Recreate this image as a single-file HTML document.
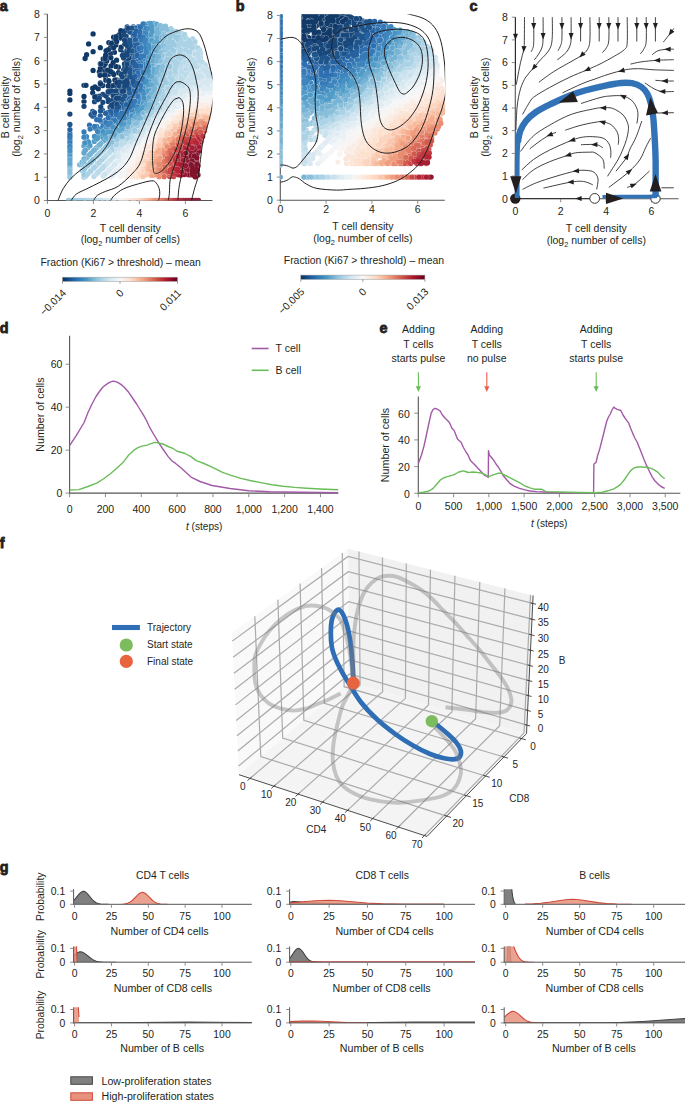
<!DOCTYPE html>
<html><head><meta charset="utf-8"><style>
html,body{margin:0;padding:0;background:#fff;width:685px;height:1103px;overflow:hidden}
svg{display:block}
text{font-family:"Liberation Sans", sans-serif}
</style></head><body>
<svg width="685" height="1103" viewBox="0 0 685 1103" font-family='"Liberation Sans", sans-serif'><g stroke="#231f20" stroke-width="0.8">
<text x="-0.3" y="11" font-size="14.4" font-weight="bold" fill="#231f20">a</text>
<text x="235.7" y="10.6" font-size="14.4" font-weight="bold" fill="#231f20">b</text>
<text x="469.5" y="10.6" font-size="14.4" font-weight="bold" fill="#231f20">c</text>
<text x="-0.3" y="333.2" font-size="14.4" font-weight="bold" fill="#231f20">d</text>
<text x="379.5" y="333.2" font-size="14.4" font-weight="bold" fill="#231f20">e</text>
<text x="-0.3" y="547.7" font-size="14.4" font-weight="bold" fill="#231f20">f</text>
<text x="-0.3" y="871.9" font-size="14.4" font-weight="bold" fill="#231f20">g</text>
</g>
<line x1="47.4" y1="14.1" x2="47.4" y2="201" stroke="#555555" stroke-width="1.1"/>
<line x1="43.9" y1="200.5" x2="47.4" y2="200.5" stroke="#808080" stroke-width="0.9"/>
<text x="39.9" y="204.3" font-size="10.5" text-anchor="end" fill="#231f20">0</text>
<line x1="43.9" y1="177.2" x2="47.4" y2="177.2" stroke="#808080" stroke-width="0.9"/>
<text x="39.9" y="181" font-size="10.5" text-anchor="end" fill="#231f20">1</text>
<line x1="43.9" y1="153.9" x2="47.4" y2="153.9" stroke="#808080" stroke-width="0.9"/>
<text x="39.9" y="157.7" font-size="10.5" text-anchor="end" fill="#231f20">2</text>
<line x1="43.9" y1="130.6" x2="47.4" y2="130.6" stroke="#808080" stroke-width="0.9"/>
<text x="39.9" y="134.4" font-size="10.5" text-anchor="end" fill="#231f20">3</text>
<line x1="43.9" y1="107.3" x2="47.4" y2="107.3" stroke="#808080" stroke-width="0.9"/>
<text x="39.9" y="111.1" font-size="10.5" text-anchor="end" fill="#231f20">4</text>
<line x1="43.9" y1="84" x2="47.4" y2="84" stroke="#808080" stroke-width="0.9"/>
<text x="39.9" y="87.8" font-size="10.5" text-anchor="end" fill="#231f20">5</text>
<line x1="43.9" y1="60.7" x2="47.4" y2="60.7" stroke="#808080" stroke-width="0.9"/>
<text x="39.9" y="64.5" font-size="10.5" text-anchor="end" fill="#231f20">6</text>
<line x1="43.9" y1="37.4" x2="47.4" y2="37.4" stroke="#808080" stroke-width="0.9"/>
<text x="39.9" y="41.2" font-size="10.5" text-anchor="end" fill="#231f20">7</text>
<line x1="43.9" y1="14.1" x2="47.4" y2="14.1" stroke="#808080" stroke-width="0.9"/>
<text x="39.9" y="17.9" font-size="10.5" text-anchor="end" fill="#231f20">8</text>
<line x1="46.9" y1="200.5" x2="212.4" y2="200.5" stroke="#555555" stroke-width="1.1"/>
<line x1="47.4" y1="200.5" x2="47.4" y2="204" stroke="#808080" stroke-width="0.9"/>
<text x="47.4" y="216.5" font-size="10.5" text-anchor="middle" fill="#231f20">0</text>
<line x1="93.4" y1="200.5" x2="93.4" y2="204" stroke="#808080" stroke-width="0.9"/>
<text x="93.4" y="216.5" font-size="10.5" text-anchor="middle" fill="#231f20">2</text>
<line x1="139.4" y1="200.5" x2="139.4" y2="204" stroke="#808080" stroke-width="0.9"/>
<text x="139.4" y="216.5" font-size="10.5" text-anchor="middle" fill="#231f20">4</text>
<line x1="185.4" y1="200.5" x2="185.4" y2="204" stroke="#808080" stroke-width="0.9"/>
<text x="185.4" y="216.5" font-size="10.5" text-anchor="middle" fill="#231f20">6</text>
<text x="130.3" y="231.9" font-size="10.5" text-anchor="middle" fill="#231f20">T cell density</text>
<text x="130.3" y="243.3" font-size="10.5" text-anchor="middle" fill="#231f20">(log<tspan dy="3" font-size="7.4">2</tspan><tspan dy="-3"> number of cells)</tspan></text>
<g transform="translate(8.7,107.2) rotate(-90)"><text x="0" y="0" font-size="10.5" text-anchor="middle" fill="#231f20">B cell density</text><text x="0" y="11.3" font-size="10.5" text-anchor="middle" fill="#231f20">(log<tspan dy="3" font-size="7.4">2</tspan><tspan dy="-3"> number of cells)</tspan></text></g>
<line x1="280.3" y1="15.4" x2="280.3" y2="200.7" stroke="#555555" stroke-width="1.1"/>
<line x1="276.8" y1="200.2" x2="280.3" y2="200.2" stroke="#808080" stroke-width="0.9"/>
<text x="272.8" y="204" font-size="10.5" text-anchor="end" fill="#231f20">0</text>
<line x1="276.8" y1="177.1" x2="280.3" y2="177.1" stroke="#808080" stroke-width="0.9"/>
<text x="272.8" y="180.9" font-size="10.5" text-anchor="end" fill="#231f20">1</text>
<line x1="276.8" y1="154" x2="280.3" y2="154" stroke="#808080" stroke-width="0.9"/>
<text x="272.8" y="157.8" font-size="10.5" text-anchor="end" fill="#231f20">2</text>
<line x1="276.8" y1="130.9" x2="280.3" y2="130.9" stroke="#808080" stroke-width="0.9"/>
<text x="272.8" y="134.7" font-size="10.5" text-anchor="end" fill="#231f20">3</text>
<line x1="276.8" y1="107.8" x2="280.3" y2="107.8" stroke="#808080" stroke-width="0.9"/>
<text x="272.8" y="111.6" font-size="10.5" text-anchor="end" fill="#231f20">4</text>
<line x1="276.8" y1="84.7" x2="280.3" y2="84.7" stroke="#808080" stroke-width="0.9"/>
<text x="272.8" y="88.5" font-size="10.5" text-anchor="end" fill="#231f20">5</text>
<line x1="276.8" y1="61.6" x2="280.3" y2="61.6" stroke="#808080" stroke-width="0.9"/>
<text x="272.8" y="65.4" font-size="10.5" text-anchor="end" fill="#231f20">6</text>
<line x1="276.8" y1="38.5" x2="280.3" y2="38.5" stroke="#808080" stroke-width="0.9"/>
<text x="272.8" y="42.3" font-size="10.5" text-anchor="end" fill="#231f20">7</text>
<line x1="276.8" y1="15.4" x2="280.3" y2="15.4" stroke="#808080" stroke-width="0.9"/>
<text x="272.8" y="19.2" font-size="10.5" text-anchor="end" fill="#231f20">8</text>
<line x1="279.8" y1="200.2" x2="444.8" y2="200.2" stroke="#555555" stroke-width="1.1"/>
<line x1="280.3" y1="200.2" x2="280.3" y2="203.7" stroke="#808080" stroke-width="0.9"/>
<text x="280.3" y="213" font-size="10.5" text-anchor="middle" fill="#231f20">0</text>
<line x1="326.1" y1="200.2" x2="326.1" y2="203.7" stroke="#808080" stroke-width="0.9"/>
<text x="326.1" y="213" font-size="10.5" text-anchor="middle" fill="#231f20">2</text>
<line x1="371.9" y1="200.2" x2="371.9" y2="203.7" stroke="#808080" stroke-width="0.9"/>
<text x="371.9" y="213" font-size="10.5" text-anchor="middle" fill="#231f20">4</text>
<line x1="417.7" y1="200.2" x2="417.7" y2="203.7" stroke="#808080" stroke-width="0.9"/>
<text x="417.7" y="213" font-size="10.5" text-anchor="middle" fill="#231f20">6</text>
<text x="362.9" y="230.2" font-size="10.5" text-anchor="middle" fill="#231f20">T cell density</text>
<text x="362.9" y="242.4" font-size="10.5" text-anchor="middle" fill="#231f20">(log<tspan dy="3" font-size="7.4">2</tspan><tspan dy="-3"> number of cells)</tspan></text>
<g transform="translate(244.2,107.2) rotate(-90)"><text x="0" y="0" font-size="10.5" text-anchor="middle" fill="#231f20">B cell density</text><text x="0" y="11.3" font-size="10.5" text-anchor="middle" fill="#231f20">(log<tspan dy="3" font-size="7.4">2</tspan><tspan dy="-3"> number of cells)</tspan></text></g>
<clipPath id="clipA"><rect x="47.4" y="14" width="165" height="186.5"/></clipPath>
<g clip-path="url(#clipA)">
<defs><path id="d1" d="M98.2 88.8h0M102.7 85.5h0M105.2 64h0M108.7 74.2h0M114.3 39.9h0M112.9 42.7h0M113.2 45.5h0M114.5 52.3h0M116.8 80h0M118.5 72.7h0M93.1 33.9h0M100.3 47.7h0M106.7 50.3h0M100.3 63.7h0M103.8 66.6h0M105.5 77.2h0M95 87h0M120.7 49.7h0M118.4 67.2h0M69.9 91.1h0M69.9 93.4h0M69.9 99.9h0M92.7 88.2h0M92.7 92.8h0"/><path id="d2" d="M96.7 96.4h0M102.8 94.5h0M106.1 96h0M109 92.8h0M108.2 99.7h0M108.2 101.4h0M111 89h0M110 107h0M114 94.1h0M113.4 98.3h0M113.2 100.8h0M116.3 93.1h0M118.9 91.4h0M119.1 93.4h0M120.9 80.7h0M122.5 82.6h0M124.6 77.3h0M127.4 43.2h0M127 50.3h0M127.9 57.8h0M126.3 65.8h0M126.6 75.5h0M126.4 77.4h0M129.1 60.6h0M129.1 80.3h0M127.2 26.9h0M123.6 53.2h0"/><path id="d3" d="M102.5 110.3h0M111.2 110.3h0M112.8 109.7h0M122.5 102.2h0M121.8 106.3h0M125.2 94.4h0M127.4 90.2h0M127.1 94.1h0M127 96.7h0M130 52.5h0M129.9 75.2h0M133.3 26.8h0M133.2 32.1h0M133.3 36.8h0M133.1 40.1h0M131.8 45.8h0M133.1 48.1h0M132 53.3h0M131.9 55.7h0M132.7 58.9h0M133.2 68.4h0M132.9 85.1h0M92.7 111.5h0"/><path id="d4" d="M124.7 102.1h0M127.4 98.3h0M127.1 100.9h0M126.6 106.3h0M129.9 95.6h0M132.9 87.8h0M132.1 93h0M131.8 95.7h0M135.9 57.7h0M135 61.1h0M135.1 68.6h0M135 71.5h0M134.5 73.9h0M135.5 83.1h0M137.7 34.3h0M137.3 50.6h0M137.3 61.3h0M137.2 68.9h0"/><path id="d5" d="M89.5 125.1h0M105.6 120.2h0M110.3 117.4h0M113.7 115.7h0M122.5 110.3h0M133.2 98.8h0M134.4 96.1h0M138.5 26.7h0M138.2 58.3h0M138.7 77.2h0M138.4 81h0M140.6 28h0M141 52.2h0M140.5 61.6h0M140.8 71.5h0M140.7 74.5h0M140 79.5h0M69.9 133.2h0"/><path id="d6" d="M96.6 126.3h0M103.1 125.3h0M107.8 120.7h0M113.6 118.7h0M114.1 120.7h0M124.3 112.7h0M138.2 94.3h0M141.2 41.7h0M141.4 64.7h0M140.3 88.5h0M144.1 32.1h0M143.7 45.7h0M143.6 48h0M143.1 52.7h0M142.6 60.4h0M142.9 66.9h0M142.8 69.1h0"/><path id="d7" d="M100.5 128.8h0M102.3 129.4h0M105.5 126.5h0M108.7 123h0M110.8 125.5h0M112.9 123.2h0M115.7 123.4h0M122 117.2h0M129.3 112.8h0M131.9 112.8h0M140 99.6h0M144 51.3h0M143.8 63.6h0M144.1 82.2h0M144.1 84.6h0M145.2 24.2h0M69.9 144.2h0"/><path id="d8" d="M87.2 140.3h0M98.3 134.3h0M100.7 131.4h0M99.9 134.4h0M102.2 133.4h0M107.5 128h0M116.2 125.1h0M118.7 125.4h0M124.3 120.6h0M130.4 114.8h0M129.5 117.1h0M135.3 110.6h0M141.3 103.6h0M146.1 85.1h0M145.1 87.8h0M149.1 23.3h0M148.3 31h0M148.8 33.5h0M149.4 50.2h0M148.4 64.3h0M147.8 77h0M148 82.3h0"/><path id="d9" d="M97.4 138.2h0M99.8 135.8h0M105.6 132.2h0M108 133.5h0M110.9 129.5h0M133.2 117.3h0M134.5 115.2h0M146.6 96.6h0M148.8 68.8h0M149.4 80.3h0M148 87.5h0M151.6 41.8h0M151.2 45.2h0M152 50.5h0M151.5 52.6h0M151.4 55.4h0M151.3 69.1h0M150.6 72.4h0M151.1 73.8h0M150.7 80.5h0M153.3 29h0M84 146h0"/><path id="d10" d="M104 140.3h0M102.7 141.6h0M111.7 134.9h0M113 132.1h0M119 129.1h0M132.2 120.9h0M141.5 111.7h0M143 109.1h0M148.7 93.9h0M152.1 64.4h0M151.9 83.3h0M153.9 23.3h0M154.2 34.4h0M153.8 40h0M154.3 53.8h0M153.3 59h0M153.7 63.9h0M153.7 66.5h0M154.5 75.4h0M154 76.6h0M69.9 161.8h0"/><path id="d11" d="M87.7 156.6h0M85 159.3h0M87.9 156.4h0M97 147.3h0M98.1 146.2h0M96.9 147.4h0M100.5 143.8h0M108.4 139.1h0M116.4 134.6h0M116.1 136.2h0M121 133.7h0M124.6 128.7h0M130.3 126.7h0M141.2 116.1h0M149.5 101.3h0M152 98.1h0M157.1 40.4h0M157.1 64.5h0M156.3 78.1h0M157.2 79.2h0M157.4 85.3h0M159.7 37.3h0M158.8 42.9h0M158.7 44.3h0M158.9 58.9h0M158.7 71.6h0M69.9 168.4h0M69.9 166.2h0"/><path id="d12" d="M79.5 164.8h0M89.2 163.8h0M95.7 157.3h0M106.3 146.7h0M114.3 138.8h0M116 139.9h0M118.8 136.7h0M125 134.5h0M129.1 128.4h0M139.9 121.5h0M143.5 116h0M154.7 98.2h0M154.3 102.3h0M157.4 91.8h0M160.4 63.6h0M159.8 82.9h0M159.3 88.7h0M162.8 36.1h0M162.9 38.9h0M161.6 47.8h0M162.4 49.9h0M162.6 53h0M162.4 57.7h0M162.8 61.7h0M165.7 30.6h0M164.6 33.9h0M164.9 52.5h0M167.1 31.7h0M167.8 33.6h0M166.9 40h0M83.9 164.2h0"/><path id="d13" d="M82.3 170.7h0M93.7 168h0M98.8 154.2h0M103.6 149.4h0M110.8 145.2h0M113.3 142.8h0M116.1 141.3h0M119.5 138.9h0M129.1 134.2h0M143 121.3h0M146.1 115.2h0M154.5 103.8h0M153.9 109.2h0M156.6 98.3h0M156.2 102.4h0M162.2 82.6h0M162.2 88.2h0M165 55h0M165.3 57.7h0M164.2 63.4h0M165.5 68.5h0M164.8 72.6h0M165.4 75.4h0M164.7 80.8h0M164.9 85.4h0M168.1 37.2h0M168.2 53.7h0M167 67.3h0M167.7 68.6h0M167.1 71.2h0M167.2 74.1h0M170.9 28.7h0M170.6 34.6h0M170.7 44.5h0M170.2 52.8h0M169.6 61.2h0M173.2 37.4h0M176.5 34.7h0M177.9 32.1h0M177.7 33.6h0"/><path id="d14" d="M85.5 176.2h0M90.2 171.5h0M91.6 170.1h0M91.1 170.6h0M96 165.7h0M97.8 163.9h0M95.8 165.9h0M95.1 166.6h0M105 156.7h0M104.6 157.1h0M113.9 145.7h0M116.6 146.8h0M122.6 139.6h0M125.1 139.5h0M126.7 137.6h0M132.3 133.8h0M137.8 128.5h0M139.8 126.5h0M154.1 111.9h0M158.8 105.3h0M165.8 88.2h0M165.2 90.8h0M167.4 85.8h0M167.5 91.4h0M171 64.5h0M170.9 74.8h0M173.6 56.3h0M173.2 63.5h0M173.5 65.7h0M172.3 68.9h0M172.9 72.4h0M173.6 77.7h0M175.5 51.1h0M175.7 52.3h0M178 55h0M181.9 33.7h0M181 44.9h0M181.3 47.2h0M180.7 53.6h0M181.3 56.6h0M180.5 64.4h0M183.8 53h0M186.2 37.8h0M186.8 55h0M189.4 47.5h0M192.5 42h0M194.6 44.9h0M195.4 48h0M83.9 177.2h0"/><path id="d15" d="M95.9 174.5h0M101.7 168.7h0M100.6 169.8h0M97.5 172.9h0M103 167.4h0M106.5 155.2h0M106.4 155.3h0M118.2 148.2h0M126.9 142.2h0M131.8 139.2h0M135.4 134.2h0M138.6 134h0M144.1 126h0M153.3 115.2h0M161.8 105h0M161.8 107h0M166.9 96.7h0M170.8 87.5h0M176.5 77.7h0M179.2 69.7h0M177.6 71.8h0M177.9 75.5h0M179 76.6h0M179 85.4h0M184.2 68.5h0M184.3 72.2h0M186 57.8h0M186.6 61.6h0M185.7 66h0M186 72.8h0M189.3 63.2h0M188.7 68.5h0M191.8 55.8h0M191.3 63.1h0M195.3 51.1h0M194.1 56.3h0M193.9 69.4h0"/><path id="d16" d="M105.3 173.8h0M103.7 175.4h0M106.1 164.3h0M107.7 162.7h0M111.3 159.1h0M110.5 159.9h0M108.9 161.5h0M119.1 149.8h0M124.5 145.6h0M124 147.1h0M126.3 144h0M138.1 137.6h0M141.3 132.1h0M140.1 133.5h0M143.9 130.5h0M146.5 128.4h0M150.9 121.3h0M154.9 117.3h0M160.2 111.7h0M165.3 109.1h0M170.3 99.6h0M173.6 92.9h0M173.1 96h0M178.1 90.3h0M180.9 84.9h0M182.9 88.1h0M191.2 84.7h0M193.7 80.8h0M198.2 69.8h0M197.1 71.2h0M199.6 69.6h0M205.3 74.2h0M207.3 71.6h0"/><path id="d17" d="M107.5 171.6h0M106.8 172.3h0M109.1 170h0M116.9 155.3h0M137.8 139.2h0M142.6 136.2h0M145.6 131.9h0M149.5 125.6h0M157.3 117.1h0M161.6 113h0M170.3 106.5h0M172.3 104.2h0M176.2 96h0M179 93.8h0M179.2 96.1h0M186.6 87.5h0M189.9 88.9h0M195 84.6h0M193.9 87.6h0M203.4 82.1h0M205 79.5h0M211.5 79.9h0M210.8 82.5h0M211 85.2h0M213.8 79.7h0M213.7 84.9h0"/><path id="d18" d="M111.9 175.9h0M113 174.8h0M116.8 171h0M115.7 172.1h0M119.7 158.8h0M116.7 162.4h0M121.5 153.5h0M121.2 157.6h0M120.8 160.9h0M123.8 155.7h0M140.3 142.3h0M151.6 128.5h0M153.6 126.1h0M159.6 120.4h0M165.4 113.3h0M167.2 112h0M173.6 107.2h0M175.9 104h0M184.4 94.4h0M187 93.1h0M189.2 94.4h0M194.3 90.9h0M197 87.6h0M197 91h0M200.7 87.4h0M199.7 90.1h0"/><path id="d19" d="M126.5 158.2h0M134.6 147.9h0M134.7 149.9h0M146.8 135h0M160 122.8h0M164.3 118.4h0M167.7 115.8h0M175.9 109.4h0M180.6 104h0M184.5 99.6h0M184.3 101.7h0M202.1 91.8h0M204.6 93.3h0M208.8 93.1h0"/><path id="d20" d="M119.9 176.6h0M122.3 171.2h0M124.6 164.6h0M123.5 169.5h0M126.4 163.4h0M126.8 167.2h0M129.2 156.3h0M130.4 158.7h0M131.7 156.2h0M137.7 149.4h0M152.1 134.8h0M162.1 121.2h0M161.8 123.5h0M172.8 112.4h0M175 112.5h0M179.2 110h0M187 102.5h0M186.6 104.2h0M194.4 99.5h0M202 95.9h0M205.4 95.9h0M211.1 96.8h0"/><path id="d21" d="M124.6 174h0M127.7 171h0M129.9 163h0M135.7 157.7h0M146.1 145.2h0M148.4 141.9h0M156.4 131.7h0M160.2 128.1h0M165 122.8h0M173.5 115h0M180.5 109.9h0M183.2 110.5h0M191.8 104.5h0M194.5 101h0M194.3 104.7h0M196.9 101.2h0M200.7 99.6h0M202.9 101.4h0M207.5 102.5h0"/><path id="d22" d="M130.7 174.7h0M134.9 165.8h0M137.4 156.4h0M143.6 150.6h0M148.7 144.1h0M150.7 140.3h0M156 134.3h0M156.8 136h0M159 131.1h0M170.9 120.3h0M179 114.8h0M183.7 112.3h0M197.2 103.7h0M205.2 104.3h0"/><path id="d23" d="M136.1 169.5h0M134.8 171.4h0M134.6 173.9h0M137.7 168.4h0M141 156.4h0M140.6 163.6h0M145.1 152.6h0M154 142.6h0M168.4 125.6h0M170 122.7h0M173.1 121.3h0M194.2 110.5h0M199.9 109.6h0"/><path id="d24" d="M138.6 171.5h0M137.7 177.1h0M143.1 157.9h0M149.4 150h0M151.6 145.4h0M150.6 149.6h0M157.6 139.5h0M159.3 137.3h0M165.6 129.5h0M166.9 128.4h0M173.5 124h0M181.4 117.4h0M184 115.4h0M185.8 114.9h0M188.6 113.3h0M192.3 111.9h0M195.4 112.4h0M205 110.4h0"/><path id="d25" d="M140.9 171.9h0M140.3 174.4h0M144 169.4h0M142.6 174.6h0M145.3 164.3h0M149.4 152.4h0M154.1 146.9h0M161.5 138.7h0M170.2 128.2h0M173 126h0M175.6 124h0M178.8 121h0M194.5 115h0M203.5 112.8h0M208.8 113.2h0"/><path id="d26" d="M148.8 159.1h0M154.4 149.8h0M162.5 141.5h0M170.1 131.3h0M174.9 126.4h0M178.9 124.1h0M177.8 126.4h0M181.5 121.5h0M199.6 115.4h0M205.7 115.9h0"/><path id="d27" d="M149.4 171h0M148.5 174h0M151.8 160.7h0M154 158.3h0M167.5 136.9h0M168 138.7h0M169.5 136.2h0M189.3 120.2h0M200.4 117h0M203 118.5h0"/><path id="d28" d="M152.1 166.8h0M151.4 175.4h0M154.2 167.1h0M156.3 155.9h0M161.9 148.3h0M175.9 132h0M181.1 128.8h0"/><path id="d29" d="M153.9 175h0M157.7 163h0M156.9 168.9h0M159.2 155.8h0M168.2 142.6h0M169.7 142.2h0M176.2 136.2h0M192 123.9h0M206.1 121h0"/><path id="d30" d="M159.1 172.1h0M163 156.5h0M162.6 157.8h0M162.4 160.3h0M164.4 150.6h0M175.5 139.7h0M179.2 134.9h0M179.1 136.7h0M180.2 134.6h0M188.4 128h0M192.8 126.9h0M200.2 124.1h0"/><path id="d31" d="M160 174.1h0M162.8 166.2h0M162.5 174.4h0M164.8 153.8h0M165 158.9h0M164.2 163.4h0M176.2 142.3h0M183.6 132.1h0M187.1 131.9h0M194.8 126.6h0M194.7 128.3h0M202.9 126.8h0"/><path id="d32" d="M166.9 155.2h0M175.1 145.5h0M178.3 142.1h0M198 127.8h0"/><path id="d33" d="M168.4 163.8h0M168.3 165.8h0M168.3 175h0M169.7 161.5h0M170 166.8h0M176.3 148h0M177.9 145.5h0M190 134.6h0M188.6 136.9h0M191.6 134.6h0M204.6 130.8h0"/><path id="d34" d="M169.8 176.5h0M172.7 156.1h0M184.2 141.7h0M192 136.9h0M194.4 134.6h0M194.4 137.3h0M202.3 133.6h0"/><path id="d35" d="M173.8 171.3h0M173.7 176.5h0M176 153.9h0M176.6 155.1h0M179.1 152.2h0M184.1 144.4h0"/><path id="d36" d="M178.5 158.7h0M181.1 152.8h0M184.7 149.5h0M187.1 145.8h0M191.9 145.6h0M200.9 141.7h0"/><path id="d37" d="M181.1 155.6h0M180.9 161.8h0M183.9 152.9h0M183.6 167.1h0M187.1 148.4h0M189.2 150.1h0M194.7 147.1h0"/><path id="d38" d="M184 168.6h0M187 156.5h0M186.1 172.1h0M187.3 174.5h0M189.6 155.1h0M189.4 158h0M189.6 161.3h0M189 171.4h0M191 152.4h0M197.4 150.4h0M199.3 150.8h0"/><path id="d39" d="M190.1 174.9h0M191.9 159.2h0M194.7 153h0M195.1 158.2h0M195 161.9h0M194.8 166.9h0M197.6 152.9h0M196.6 160.7h0M198 166h0M198 175h0"/><path id="d40" d="M100.3 68.5h0M99.3 71.8h0M103.2 59h0M104.9 71.3h0M105.8 80.2h0M108.8 42.6h0M108.8 57.7h0M111.1 44.6h0M110.6 47.7h0M110.4 53.7h0M113.6 37.1h0M113.7 47.8h0M114.5 85.2h0M115.8 66.4h0M118.9 35h0M120.8 30.7h0M121.2 47.2h0M88.6 43.9h0M86.6 54.7h0M85.1 58.5h0M93.1 70.4h0M115.8 45h0M106.7 61h0M106.1 70.7h0M100.3 83h0M112.6 73h0M120.7 38h0M114.9 80h0M111.4 85.9h0M84 85.3h0M84 101.6h0"/><path id="d41" d="M94.5 101.7h0M99.5 96.2h0M111.5 105.2h0M113.1 95.5h0M113.4 104.1h0M113.3 106.9h0M116.7 85.8h0M115.9 96h0M116.1 102h0M119.9 80.8h0M118.7 88.9h0M121.2 86.2h0M120.9 87.9h0M123.8 32.3h0M124.4 63.9h0M124.8 67.3h0M123.7 69.8h0M124 74.6h0M124.5 79.9h0M125.3 88h0M126.2 36.4h0M127.9 46.9h0M126.3 61.7h0M127.2 71.7h0M129.1 57.8h0M124.8 30.8h0M123.6 35.1h0"/><path id="d42" d="M91.1 114.6h0M94 115.1h0M117.1 107.5h0M119 100.9h0M118.7 105.1h0M122.2 93.6h0M122.1 95.9h0M122.1 103.8h0M123.6 98.9h0M128 88.1h0M129.7 32.1h0M130.1 48.1h0M130 63.2h0M129.6 66.2h0M130.3 83.2h0M130.2 86h0M129 91h0M133.1 34.5h0M132.4 41.9h0M132.3 67h0M133.3 75.4h0M69.9 124.4h0"/><path id="d43" d="M100.3 116h0M107.8 112.3h0M110.3 111.6h0M110.4 114.9h0M113.9 112.2h0M118.6 109.9h0M124.7 104.9h0M123.7 107.1h0M129 99.4h0M133.1 91.1h0M134.5 37.1h0M135.1 42.2h0M135 44.8h0M134.9 47.4h0M134.6 50.5h0M135.4 53.2h0M135.2 56.4h0M135 79.3h0M137.2 28.4h0M137 36.1h0M137.1 42.7h0M137.4 45.7h0M137.5 75.1h0M134.7 28.1h0M69.9 129.6h0M92.7 116.2h0"/><path id="d44" d="M108.7 115.5h0M119 112.3h0M124.3 109.8h0M135.8 91.2h0M136 93.8h0M137.8 32.3h0M138.3 39.6h0M138.6 53.3h0M138.5 64.2h0M138.1 72.7h0M138.6 84.8h0M137.1 88.4h0M141.1 45.4h0M140.9 49.9h0M140.6 82.5h0M100.5 121h0"/><path id="d45" d="M90.1 129h0M95.3 128.2h0M111.2 120.1h0M115.5 120.4h0M130.6 109.3h0M132.5 107.9h0M135.5 98.9h0M135.5 103.8h0M141.3 35h0M141.1 76.7h0M143.9 26.3h0M144 28.2h0M143 39.9h0M142.5 43.2h0M69.9 142h0M69.9 139.8h0"/><path id="d46" d="M86.5 136.6h0M97.6 131.6h0M118.7 120h0M126.6 114.3h0M133.3 110.1h0M135.7 106.7h0M138.5 98.8h0M137.7 102.1h0M137.1 104.3h0M140.4 93.8h0M140.8 96.2h0M144.2 58.6h0M143.7 75.5h0M142.7 88.3h0M146.1 25.8h0M145.7 31.7h0M145.4 34.1h0M145.6 37.4h0M145.6 55.2h0M145.9 64h0M146.1 66.8h0M146.1 69h0"/><path id="d47" d="M88.5 142.2h0M106.2 128.4h0M112.8 128.2h0M118.2 123.4h0M126.3 117.8h0M126.6 120.5h0M131.9 115.9h0M139.9 107.5h0M143.2 95.4h0M146.5 57.8h0M146.9 74h0M146.8 77.6h0M145.1 93.3h0M149.5 26.3h0M148.8 36.8h0M149.4 40.3h0M148.3 41.7h0M148.8 53.2h0"/><path id="d48" d="M90 145.6h0M94.2 141.4h0M102.3 136.5h0M129.1 120.3h0M135.4 113.2h0M143 102.4h0M143.3 104.5h0M146.3 91.2h0M146.2 99.9h0M145.7 100.9h0M149.4 55.1h0M149.3 58.1h0M148.7 91.4h0M151.3 37.3h0M151.5 47.1h0M151.1 58.2h0M151.6 61h0M153.2 30.7h0M69.9 157.4h0M69.9 155.2h0M69.9 153h0"/><path id="d49" d="M85.2 150.4h0M87.6 148h0M84.3 151.3h0M105.5 139.4h0M104 140.3h0M107.6 137.6h0M115.7 132.3h0M125 125.4h0M127.8 123.8h0M146.1 107.9h0M148 98.1h0M151.5 89h0M151.3 90.5h0M155 26.6h0M154.7 45.3h0M153.6 50h0M153.3 85.3h0M156.7 24.1h0M157 25.7h0M156.5 45.1h0"/><path id="d50" d="M84.7 159.6h0M82.1 162.2h0M86.6 157.7h0M95.2 149.1h0M96.2 148.1h0M99 145.3h0M110.6 139.6h0M114.2 136.4h0M122.3 130.9h0M123.6 130.7h0M127.4 128.6h0M132 123.9h0M135.6 120.9h0M137.1 121.4h0M143.5 112.4h0M151 96.8h0M150.7 101.7h0M150.6 103.9h0M157.5 53.1h0M156 59.4h0M156.3 67.3h0M156.7 75.4h0M159.6 28.3h0M159.7 34.9h0M158.8 38.7h0"/><path id="d51" d="M87.6 165.4h0M93.4 159.6h0M108.8 143h0M128.9 131.3h0M132.5 126.3h0M134.3 126.8h0M146.3 111.7h0M147.9 110.7h0M155 93.1h0M156.4 89.1h0M156.1 96.6h0M159.8 68.9h0M159.2 79.3h0M161.8 31.5h0M162 34h0M161.5 41.8h0M161.7 55.3h0M162.3 63h0M165.5 36.1h0M164.4 40.3h0M165.4 41.9h0M69.9 175h0M83.9 166.8h0"/><path id="d52" d="M93.5 168.2h0M103.3 149.7h0M102.1 150.9h0M110.8 146.9h0M123.8 137h0M132.4 129.3h0M134.5 129.2h0M138.7 125.4h0M141.3 122.9h0M152 109.2h0M153.5 107h0M157.5 105.2h0M159.5 95.6h0M159.6 98.8h0M162.1 90.8h0M164.7 66.3h0M168 50.9h0M167.2 55.9h0M167.7 64.1h0M167.2 80.2h0M167.2 81.9h0M170.7 32.4h0M170.1 40h0M170.6 50.5h0M170.4 55.1h0M172.5 30.6h0M173.5 39.9h0M173.4 47h0M175 39.3h0M176.3 41.9h0M83.9 172h0"/><path id="d53" d="M87.9 173.8h0M85.8 175.9h0M98.9 162.8h0M99.7 162h0M103.1 158.6h0M116.4 144.9h0M119.8 144.3h0M121.8 142.6h0M133 131.9h0M137.5 131.4h0M145.9 120.3h0M147.9 117h0M152.3 114.8h0M157.5 107.2h0M165.3 94h0M168.2 77.9h0M170 68.8h0M170.7 80.6h0M171.1 85.8h0M173.7 52.9h0M173 58.8h0M173.7 74.6h0M172.6 83.5h0M172.1 84.6h0M175 48.1h0M176.5 59.1h0M177.9 42h0M178.8 48h0M178.8 50.2h0M177.7 58h0M178.8 61.8h0M178 67.2h0M181.9 58h0M180.6 61.9h0M184.6 34.3h0M183 36.6h0M184.6 39.3h0M183.9 42h0M183.5 47h0M183.4 50.6h0M183.8 58.6h0M186 39.7h0M187.1 44.2h0M185.9 47.9h0M187 53.4h0M189.6 42.1h0M192.7 39h0M191.6 50.3h0"/><path id="d54" d="M93.9 176.5h0M98 172.4h0M96.9 173.5h0M104.2 166.2h0M106.7 155h0M110 151.7h0M108.8 152.9h0M124.6 142.5h0M129.1 140h0M141.5 128.1h0M145.3 123.5h0M152.1 117h0M159 109.4h0M162.3 102.3h0M165.3 96.4h0M164.8 98.7h0M165 101.8h0M165.1 103.6h0M169.9 90.6h0M170.1 94.1h0M173.6 88.7h0M176.6 74.4h0M175 84.9h0M181 69.6h0M181.7 71.5h0M180.4 75.2h0M182 83.1h0M183.3 64.8h0M184.7 67.2h0M183.3 74.2h0M186.5 64.5h0M185.9 75.2h0M185.7 76.9h0M188.9 66.6h0M188.4 72h0M188.3 74h0M192.6 52.6h0M191.5 60.4h0M194.9 59.3h0M197.7 51.1h0M197.9 57.7h0M196.8 61.7h0M196.9 64.3h0M200.5 53.2h0M200.3 56.3h0M200.5 58.1h0M199.8 64.3h0M200.7 65.9h0M203.2 63.4h0M204.9 64.6h0M205.5 66.2h0"/><path id="d55" d="M103.1 176h0M108 162.4h0M104.1 175h0M108.4 162h0M106.2 164.2h0M115.4 155h0M117 150.2h0M116 152.6h0M121.2 147.5h0M131.7 142.5h0M135.6 137.5h0M146.8 125.2h0M151.4 122.8h0M161.8 110.2h0M164.2 107.5h0M168.1 99h0M169.7 95.8h0M176.4 88.2h0M180.4 88.5h0M187.3 83.1h0M186.3 86.2h0M188.8 77.2h0M194.7 72.6h0M197.5 80.2h0M200.1 72.5h0M199.9 79.6h0M203.1 67.3h0M201.9 71.2h0M203.5 74.7h0M205.7 77.3h0"/><path id="d56" d="M106.4 172.7h0M109.1 170h0M111.7 167.4h0M109.8 169.3h0M115.5 163.6h0M113.5 165.6h0M114.5 164.6h0M118.2 153.1h0M127.2 147.6h0M130.7 144.6h0M151.8 125.7h0M158.8 115.4h0M172.5 101.1h0M197.6 83h0M196.8 86.1h0M200.6 83.6h0M202.7 85.1h0M205.2 85.3h0M207.8 82.9h0"/><path id="d57" d="M111.3 176.5h0M118 161.1h0M117.5 161.6h0M119.9 160.7h0M124.1 153h0M131.7 147.3h0M149.2 131.4h0M150.6 130.6h0M157.1 119.9h0M162.5 114.6h0M175.1 106.7h0M178.8 99.6h0M177.5 101.4h0M180.9 97.1h0M180.7 99.2h0M180.2 100.9h0M183.5 96.7h0M186.2 96.6h0M189.9 90.5h0M191.1 91h0M204.5 90.5h0M213.4 88.5h0"/><path id="d58" d="M119.7 168.1h0M121.1 163.8h0M124.9 161.1h0M126.4 153.7h0M130.6 151.2h0M149.2 134h0M165.7 115.3h0M170.4 111.8h0M178.3 105.2h0M179.1 106.4h0M186.6 99.5h0M189.2 96.9h0M193.8 96.2h0M197.1 92.8h0M200 92.8h0M207.6 90.8h0M210.6 91.6h0M210.5 92.9h0M213.6 92.8h0"/><path id="d59" d="M132.5 152.7h0M132.1 157.8h0M142.5 145.8h0M146.5 141.6h0M149.1 137h0M168.4 117.2h0M184.3 103.9h0M189.3 99.7h0M189.2 102.2h0M192.5 98.4h0M197.4 96.7h0M198 98.1h0M200.1 95.6h0M207.4 96.7h0"/><path id="d60" d="M132.8 161h0M148.6 140.2h0M151.3 136.3h0M154.9 133.9h0M153.5 136.5h0M164.9 121.3h0M168 120.2h0M170.6 117.6h0M175.3 114.6h0M177.6 112.8h0M186 109.1h0M199.8 102h0M206 102.3h0M210.7 102.1h0M213.6 99.2h0"/><path id="d61" d="M129.1 176.4h0M133.4 166.7h0M132.4 172.4h0M135.2 164.4h0M141.3 153.1h0M164.2 125.1h0M167.2 123.4h0M175.7 117.6h0M180.3 112.3h0M195.3 107.8h0M197.2 107.4h0M200.3 104.5h0M203.2 107.4h0M206 107.2h0M208.3 105.2h0M210.8 106.5h0"/><path id="d62" d="M140.3 160.8h0M185.6 112.4h0M207.5 107.8h0"/><path id="d63" d="M135.6 176.6h0M140 166.9h0M141.1 169.9h0M151 148.5h0M156 142.3h0M161.3 134.2h0M164.2 131.7h0M175.8 121.1h0"/><path id="d64" d="M143.6 166.7h0M146.2 158.7h0M156.6 144.2h0M164.5 134.8h0M167.3 132.1h0M172.8 128.1h0M189.9 115.3h0M191.7 114.3h0M206.2 113.1h0"/><path id="d65" d="M142.9 176.7h0M146.8 167h0M146.4 169.3h0M146.5 171.8h0M145.6 175.1h0M148 161.9h0M151.6 152.9h0M151.2 156.1h0M157.3 148.3h0M165.7 136.7h0M167.9 134.5h0M183.4 120.7h0M188.4 118.7h0M202.4 115.1h0"/><path id="d66" d="M152.2 159h0M163 144.9h0M164.5 142.9h0M173.6 130.7h0M172.6 133.6h0M178.7 128.3h0M197 117.1h0M206.1 117.7h0M208 118h0"/><path id="d67" d="M151.5 168.4h0M154.6 161h0M173.1 137h0M181.7 126.5h0M183.1 126.2h0M186 123.6h0M189.3 123.2h0M195 120.6h0"/><path id="d68" d="M154.9 169.8h0M155 172h0M157.2 165.7h0M156.8 172.3h0M155.9 174.8h0M162.7 150h0M166.8 145.3h0M172.6 138.9h0M180.6 132.1h0M185.8 125.7h0M188.5 126h0M197.9 121.3h0M202.5 121h0"/><path id="d69" d="M159.6 166h0M159.5 169.2h0M159.1 176.7h0M162.4 153.2h0M171.1 144.9h0M172.5 141.9h0M185.9 127.8h0"/><path id="d70" d="M161.8 169.6h0M162.9 172.5h0M165.5 156.5h0M164.3 168.8h0M168 150.7h0M170.1 148.3h0M172.8 145.4h0M178 139.7h0M184.2 133.7h0M191.9 128.8h0M198 125.3h0M205 125.2h0"/><path id="d71" d="M164.5 174.5h0M172.2 150.2h0M187.1 134.4h0M189.7 131.3h0M199.3 129.1h0M202.2 129.4h0"/><path id="d72" d="M168.1 169.7h0M169.9 153.7h0M169.4 173.8h0M181.7 142.4h0M187.1 136.7h0M195.1 132.3h0M197.1 131.3h0M203.2 130.7h0"/><path id="d73" d="M172.9 153.7h0M173.5 158.4h0M173 160.4h0M172.2 164.6h0M173.1 166.1h0M178.8 148.3h0M197.8 134.8h0M200.2 133.9h0M199.3 136.2h0"/><path id="d74" d="M173.9 174.2h0M175.9 159.1h0M174.9 161.2h0M175 163.2h0M176.1 174.3h0M189.2 143h0M198.1 137.1h0M199.8 139h0"/><path id="d75" d="M176.5 171.9h0M178.3 163.9h0M178.2 166.6h0M179 174.9h0M181.8 151.2h0M184.4 147.4h0M198 140h0"/><path id="d76" d="M180.7 159.1h0M181.2 164.4h0M181.4 166.4h0M181.5 169.6h0M181.2 175.1h0M183.4 155h0M183 159h0M183.1 172.1h0M187.4 150.1h0M188.9 148.1h0M193.8 145.7h0M199.2 144.3h0"/><path id="d77" d="M183.9 163.3h0M184.4 174.6h0M186.1 158.1h0M187.3 161.7h0M185.9 164.6h0M185.9 168.6h0M189.7 164h0M189.6 167.3h0M189.2 170h0M191.1 151.2h0M193.8 150h0M196.5 148h0"/><path id="d78" d="M191.1 155.9h0M192.1 161.2h0M193.9 163.3h0M195.2 172.8h0M196.8 155.4h0"/><path id="d79" d="M94.8 96.9h0M101 64h0M100 75.3h0M106 50.8h0M105.6 55.2h0M105.1 58.5h0M104.7 75h0M108.4 49.7h0M107.5 70.1h0M108.7 80.6h0M108.2 85.9h0M110.9 57.7h0M111 66h0M110.9 71.7h0M113.8 74.5h0M116.2 36.6h0M115.8 38.9h0M116.7 41.4h0M116.9 82.7h0M93.1 51.7h0M86 85.3h0M111.4 43.3h0M113.1 62.6h0M116.6 60.2h0M109 81.2h0M84 96.4h0M100.5 84h0"/><path id="d80" d="M97.6 99.7h0M99.3 98.5h0M100.8 106.8h0M102.9 102.3h0M108.1 91.7h0M111.3 91h0M115.8 90.8h0M116.4 98.3h0M116.9 104.4h0M119.6 82.1h0M118.8 85.4h0M119 98.2h0M122.4 55.4h0M121 74.4h0M122.2 76.8h0M122.2 91.3h0M124.6 40.2h0M125.1 71.5h0M124.3 82.5h0M124.7 86.3h0M123.6 91.1h0M127.9 28.3h0M127.1 45.6h0M126.6 53.5h0M127.2 55.2h0M127 64.2h0M126.7 69h0M126.6 80.7h0M127.3 83h0M127 85.4h0M129.1 50.5h0M124.8 43.9h0M123.6 57.9h0M69.9 114.1h0M84 106.3h0"/><path id="d81" d="M94.5 112.6h0M116.8 109.1h0M118.7 106.8h0M122.4 99.5h0M124.7 96.1h0M129.7 40.2h0M129.5 42.4h0M130.4 45.6h0M130.1 69.7h0M130 72.2h0M129.8 76.9h0M129 88.8h0M131.8 28.1h0M132.1 51h0M133.3 62h0M133 63.1h0M131.9 77.1h0M133.3 80.9h0M133.3 83.2h0M100.5 111h0"/><path id="d82" d="M105.6 113.3h0M116.3 111.7h0M126.4 104.7h0M129.6 92.9h0M136.1 30.8h0M134.6 34.4h0M135.4 39.7h0M134.5 63.6h0M135.1 65.8h0M135.2 76.5h0M134.6 85.3h0M137.1 55.4h0M137.5 66h0M137.4 82.9h0"/><path id="d83" d="M96.7 119.7h0M99.7 120h0M108.3 117.7h0M116.6 114.9h0M121.8 113.1h0M127 110.2h0M130.5 101.6h0M130.4 105.2h0M130.2 107h0M132.6 101.1h0M138.8 48.5h0M140.3 27h0M139.8 32h0M139.8 36.5h0M140.3 58h0M140.7 66.2h0M69.9 135.4h0"/><path id="d84" d="M94.6 126.4h0M105.8 122.6h0M119.6 115.1h0M119.6 117.7h0M122.4 114.9h0M123.7 114.3h0M126.7 111.9h0M133.2 105.3h0M135 101.3h0M137.9 96.5h0M141.2 40.2h0M141.3 47.6h0M141.2 56.1h0M140.8 85.5h0M140.7 90.2h0M143.1 24h0M143.3 37.4h0M143.8 55.8h0M143.1 72.5h0M142.9 78.3h0M143.4 79.9h0M69.9 137.6h0M84 132h0"/><path id="d85" d="M107.8 125.1h0M110.3 122.9h0M124.3 118.1h0M137.3 107h0M142.9 91.3h0M146 28.3h0M145.5 40h0M145.1 42.2h0M146 44.8h0M146 48.3h0M146 51h0M146.4 52.6h0M145.2 82.2h0M69.9 146.4h0M84 137.2h0"/><path id="d86" d="M84.8 143h0M94.4 136.5h0M102.9 131.6h0M112.8 126.8h0M120.9 121.1h0M121.2 123.1h0M137 109h0M143.5 93.2h0M144 98.2h0M146.7 72.2h0M146.3 80.9h0M148.3 28.3h0M148.6 45h0M149.1 48.5h0M148 62.1h0M148.5 66.2h0M148.2 71.2h0M69.9 150.8h0M69.9 148.6h0"/><path id="d87" d="M96.5 139.1h0M97.9 137.7h0M104.8 134.7h0M108.1 131.9h0M111.5 131.9h0M115.8 128.1h0M121.7 126.8h0M124.2 123.9h0M138 112.1h0M139.9 108.9h0M143.6 107.5h0M149.1 75.5h0M148.2 84.7h0M150.7 23.4h0M151.7 26.1h0M151.7 29.3h0M152.2 31.8h0M150.8 34.7h0M151.7 40.3h0"/><path id="d88" d="M85.5 150.1h0M105.9 137.6h0M114.3 134.5h0M119.2 130.5h0M122.2 128.8h0M129.1 122.4h0M135.5 117.3h0M138.3 115.3h0M146.2 104.7h0M149.4 96.8h0M152.1 76.9h0M151.6 84.6h0M154 42.1h0M153.8 55.8h0M153.5 61h0M154 69.5h0M154.4 72.1h0M156.9 36.7h0M156.9 41.4h0M156.3 50.6h0M69.9 164h0M69.9 159.6h0M84 153h0"/><path id="d89" d="M89.5 154.8h0M93.2 151.1h0M91.2 153.1h0M90.6 153.7h0M94.4 149.9h0M93.8 150.5h0M99.4 144.9h0M100.7 143.6h0M111 137.1h0M127.7 126.8h0M137.9 118.5h0M140.4 118.1h0M146.3 109h0M149.4 103.8h0M149.4 107h0M151.5 93.8h0M154.6 80h0M154.5 88.1h0M154 90.9h0M157.7 29.2h0M157.7 31.7h0M157.2 33.8h0M157.3 47.9h0M157.4 55.9h0M156 60.8h0M157.2 68.6h0M156.7 72.7h0M156.1 83.2h0M160.2 25.7h0M158.8 32.2h0M158.8 46.9h0M158.7 56.6h0M158.9 67.2h0M83.9 159h0"/><path id="d90" d="M87.7 165.3h0M90.5 162.5h0M92 161h0M90.6 162.4h0M93.5 159.5h0M108.2 144.8h0M106.8 146.2h0M111.7 142.2h0M121.9 136.5h0M126.3 131.8h0M135.1 123.8h0M137.2 122.5h0M148 111.6h0M152.1 108h0M153.5 96.8h0M156.2 93.6h0M160.2 52.5h0M160.3 61h0M159.7 74.8h0M160.2 86h0M161.6 26.1h0M161.5 29.2h0M162.8 45.9h0M162.6 66.4h0M161.4 69h0M162 71.3h0M165.5 26.2h0M164.3 28.8h0M165.4 45.8h0M165 49.7h0M167.1 29.4h0M69.9 172.8h0M69.9 170.6h0M83.9 161.6h0"/><path id="d91" d="M85.2 167.8h0M86.7 166.3h0M85.1 167.9h0M96.5 156.5h0M98.4 154.6h0M97.1 155.9h0M103.1 149.9h0M100.9 152.1h0M99.8 153.2h0M105.3 147.7h0M104.4 148.6h0M126.4 133.7h0M134.6 130.5h0M145.1 117.4h0M159.7 91.6h0M159 93.2h0M163 74.6h0M162.8 77.6h0M162 80.1h0M161.5 86.1h0M165.8 48.6h0M164.5 61.8h0M164 78.3h0M165.8 82.7h0M167.4 42h0M168 44.2h0M168.1 47.8h0M167.7 58.9h0M168.2 61h0M169.9 37.5h0M169.5 42.2h0M170.4 47.9h0M169.9 59.2h0M169.9 66.5h0M172.6 34.8h0M172.6 42.1h0M172.7 44.4h0M173.4 50.6h0M176.2 31.6h0M176.1 37.5h0M175.6 45.2h0M178.7 36.9h0M178 39.7h0M69.9 177.2h0M83.9 174.6h0M83.9 169.4h0"/><path id="d92" d="M87.4 174.3h0M90.5 171.2h0M87.5 174.2h0M94.4 167.3h0M101.6 160.1h0M111.4 150.3h0M112 149.7h0M127.8 139.1h0M130.1 137.2h0M142.9 122.9h0M149.2 114.9h0M151.9 112.6h0M156.8 110h0M160 107.6h0M163 94.4h0M162.6 95.5h0M162 99.3h0M167.8 88.3h0M170 72.7h0M170.4 77.3h0M170.2 83.3h0M172.8 60.3h0M172.3 79.5h0M175.8 61.7h0M175.2 64.6h0M176.2 66.6h0M174.9 69.1h0M175.4 72.3h0M178.6 45.7h0M179.3 53.3h0M179.2 64.2h0M180.8 40.2h0M180.8 42.1h0M180.8 49.9h0M184 45h0M183.9 55.6h0M185.6 43.1h0M185.9 50.1h0M189.2 40.5h0M188.6 45.9h0M189.5 52.2h0M191.8 44.2h0M192.3 47.8h0M195 41.7h0M197.9 48h0"/><path id="d93" d="M97.3 173.1h0M98.8 171.6h0M104 166.4h0M101.8 168.6h0M103.5 166.9h0M109.9 151.8h0M109.2 152.5h0M121.7 144.3h0M132 137.5h0M148.5 119.9h0M157.3 112h0M168.4 92.8h0M175.8 82.4h0M178.4 83.5h0M180.5 66h0M181 77.6h0M181.3 80.6h0M184.2 62h0M183.6 80.2h0M185.7 69.1h0M189.4 56.3h0M189.2 57.8h0M189 61.2h0M192.5 59.3h0M191.7 66.1h0M191 69.9h0M194.9 53.8h0M194.9 61.6h0M194.7 64.2h0M194.7 66h0M198.1 53.6h0M198.1 56.6h0M197.1 66.8h0M199.5 50.2h0M199.7 60.9h0M202.1 62h0"/><path id="d94" d="M105 174.1h0M110.2 160.2h0M113.4 157h0M113.2 157.2h0M130.4 141.8h0M135.1 139.5h0M143.6 129.5h0M148.4 123.6h0M156.7 115h0M166.9 101.4h0M167.5 104.7h0M167.4 107.1h0M173.6 91.3h0M175.8 91.3h0M175.2 93.1h0M178.3 87.6h0M184.3 82.6h0M183 85.8h0M186.2 80.8h0M189.1 79.9h0M188.4 83.5h0M189.8 85.3h0M192.6 71.4h0M191.5 75.6h0M192.4 77.5h0M191.6 80.2h0M192.4 82.1h0M195.1 75.2h0M194.9 77.1h0M195 83.6h0M197.6 74.7h0M198.1 77.9h0M200.2 75.4h0M200.5 77.3h0M202.5 68.5h0M201.8 76.6h0M205.1 69.6h0M205.2 71.4h0M207.9 69.4h0M207.8 74.2h0M208.1 77.5h0M210 74.5h0M211.3 76.5h0"/><path id="d95" d="M114 165.1h0M115.2 163.9h0M118.4 156.4h0M123.7 150.2h0M140.1 136.4h0M143.3 134.4h0M148.8 129.1h0M153.6 120.6h0M170 104.2h0M173.1 98.7h0M175.1 99.6h0M175.3 101h0M180.7 90.5h0M181 93.6h0M184.1 91.1h0M186.2 90.2h0M191.5 88.9h0M200.7 85.6h0M202.9 80.6h0M204.7 82.1h0M208.3 80.7h0M207.5 85.7h0M212.8 83.1h0"/><path id="d96" d="M116.3 171.5h0M114.9 172.9h0M112.6 175.2h0M114.8 173h0M117.2 170.6h0M127.3 151h0M135.7 145.4h0M137.9 142.7h0M140.5 139h0M154.9 123.2h0M156.9 122.8h0M159 117.9h0M162.7 117.1h0M168 110.1h0M192.4 93.4h0M203.4 88.9h0M205.9 87.9h0M207.4 88.6h0M210.5 88.3h0"/><path id="d97" d="M118.6 169.2h0M121 166.7h0M124.4 158.1h0M126.6 156.5h0M130.3 152.6h0M132.8 149.7h0M138.2 145.7h0M143.8 139.9h0M146.8 136.1h0M145.1 139.9h0M153.8 128h0M172.6 110.5h0M192.7 96.2h0M194.1 94.5h0M202.8 94.3h0M213.5 91.2h0"/><path id="d98" d="M120.1 176.4h0M121.8 169.9h0M122 174.5h0M125.1 166.8h0M124 171.4h0M127.5 160.6h0M128.9 160.4h0M135.3 152.9h0M137.6 148.4h0M140 148.3h0M144.2 141.4h0M154.3 131.3h0M156.5 128.2h0M160 125.8h0M170.8 115.7h0M183.8 107.2h0M188.5 104.6h0M192.3 101.2h0M202 98.8h0M204.7 99.2h0M211.6 98.8h0M213.9 96h0"/><path id="d99" d="M130.4 167.4h0M132.2 163.1h0M134.3 160.6h0M138.2 153.8h0M140.1 149.8h0M143.7 146.9h0M162.2 125.1h0M188.4 107.3h0M208.3 99.7h0M212.8 102.1h0"/><path id="d100" d="M127.2 176.7h0M130.7 169.8h0M129 171.2h0M132.4 169.4h0M138.5 158.1h0M138.4 160.8h0M145.8 147h0M151.5 141.3h0M154.1 139.1h0M162.1 129.6h0M172.6 117.7h0M192 107.9h0M192.4 109.1h0M200.7 107.4h0M202.3 104.9h0M210.7 105.3h0"/><path id="d101" d="M133.2 174.2h0M133.3 176.9h0M138.1 163.8h0M137.4 166.4h0M143.6 153.6h0M145.7 149.9h0M148.9 146.7h0M159 133.7h0M161.4 130.8h0M178.1 117.5h0M181.6 115.2h0M189.4 110.6h0"/><path id="d102" d="M143.7 155.8h0M144.2 161h0M142.9 164.1h0M145.5 156h0M154.6 145.1h0M161.8 136h0M169.5 126.3h0M196.7 110.3h0M199.5 111.7h0M203 110.7h0M208.3 109.9h0"/><path id="d103" d="M143.1 171.2h0M145.6 161.3h0M149.1 155.9h0M159.8 140h0M159.6 141.8h0M183.5 118.2h0M196.5 112.4h0"/><path id="d104" d="M148.3 163.4h0M158.9 145.7h0M169.9 133.7h0M175 128h0M182.9 122.5h0M186.6 120.3h0M191.2 118.3h0M197.5 115.9h0"/><path id="d105" d="M149 166.3h0M148 169.3h0M151 163.2h0M154.5 153.8h0M154.7 155.3h0M164.7 140.2h0M181.4 124.2h0M194.9 118.8h0"/><path id="d106" d="M152 171.3h0M153.8 164h0M157.4 152.1h0M156.2 158.7h0M159.2 150.4h0M159.4 152.2h0M165.7 144.4h0M169.4 139.3h0M175.3 134.1h0M191.6 121.4h0"/><path id="d107" d="M156.8 161.7h0M160.1 157.8h0M159 161h0M179.3 131.4h0M183.8 128.4h0M200.8 121.3h0"/><path id="d108" d="M159.1 164.4h0M162.1 164.3h0M167.3 146.8h0M194.2 124.1h0M197.2 123.8h0M203.1 123.4h0M205.1 123.8h0"/><path id="d109" d="M164.5 161.5h0M167.8 152.7h0M181.9 136.5h0"/><path id="d110" d="M165.2 167.2h0M164.2 171h0M164.1 176.7h0M167.4 158h0M167.4 160.8h0M170.4 150.4h0M173.7 147.9h0M181.6 139.4h0M183.5 137.6h0M191.2 131.7h0M204.8 127.9h0"/><path id="d111" d="M167.9 171.8h0M171.2 154.9h0M170 159h0M170.7 164.1h0M180.3 144.7h0M183.6 139.5h0M200.7 132.2h0"/><path id="d112" d="M170.5 169.6h0M170.1 172.1h0M176.1 150.2h0M180.2 148h0M186.5 139.5h0M189.8 139h0"/><path id="d113" d="M173.5 168.4h0M175.8 169.2h0M185.7 142.8h0M192.4 140.1h0M192.1 141.5h0M194.1 139.9h0M202.7 136.5h0"/><path id="d114" d="M177.8 156.5h0M177.5 169.2h0M177.5 171.2h0M189 144.7h0M195.4 141.9h0M196.5 142.8h0"/><path id="d115" d="M181.8 171.8h0M183.2 160.3h0M192.3 147.8h0M199.2 146.8h0"/><path id="d116" d="M185.7 153.1h0M185.7 165.6h0"/><path id="d117" d="M191 164.6h0M191.8 166.1h0M191.9 170h0M192.4 171.2h0M192 174.5h0M194.3 155.9h0M195.3 168.9h0M194 175.4h0M195.3 176.9h0M196.9 157.9h0M197 164.2h0M197.4 169.6h0M196.9 171.9h0"/></defs>
<g stroke-width="5.3" stroke-linecap="round" fill="none"><use href="#d1" stroke="#123a69"/><use href="#d2" stroke="#18487b"/><use href="#d3" stroke="#1f558d"/><use href="#d4" stroke="#2662a0"/><use href="#d5" stroke="#2d6fb1"/><use href="#d6" stroke="#357ab6"/><use href="#d7" stroke="#3d85bc"/><use href="#d8" stroke="#4690c2"/><use href="#d9" stroke="#509bc7"/><use href="#d10" stroke="#63a7ce"/><use href="#d11" stroke="#77b3d4"/><use href="#d12" stroke="#8abfdb"/><use href="#d13" stroke="#9ccae1"/><use href="#d14" stroke="#abd2e5"/><use href="#d15" stroke="#bbdaea"/><use href="#d16" stroke="#cae2ee"/><use href="#d17" stroke="#d7e8f1"/><use href="#d18" stroke="#e0ecf3"/><use href="#d19" stroke="#eaf1f5"/><use href="#d20" stroke="#f3f5f7"/><use href="#d21" stroke="#f8f4f2"/><use href="#d22" stroke="#faede6"/><use href="#d23" stroke="#fbe6da"/><use href="#d24" stroke="#fde0ce"/><use href="#d25" stroke="#fcd5c0"/><use href="#d26" stroke="#fac8af"/><use href="#d27" stroke="#f7bb9e"/><use href="#d28" stroke="#f5ad8d"/><use href="#d29" stroke="#ef9e7f"/><use href="#d30" stroke="#e88d72"/><use href="#d31" stroke="#e17c65"/><use href="#d32" stroke="#da6b58"/><use href="#d33" stroke="#d15a4f"/><use href="#d34" stroke="#c84847"/><use href="#d35" stroke="#bf373f"/><use href="#d36" stroke="#b72536"/><use href="#d37" stroke="#a51e33"/><use href="#d38" stroke="#931830"/><use href="#d39" stroke="#81132d"/></g>
<g stroke="#fff" stroke-opacity="0.55" stroke-width="6.0" stroke-linecap="round" fill="none"><use href="#d40"/><use href="#d41"/><use href="#d42"/><use href="#d43"/><use href="#d44"/><use href="#d45"/><use href="#d46"/><use href="#d47"/><use href="#d48"/><use href="#d49"/><use href="#d50"/><use href="#d51"/><use href="#d52"/><use href="#d53"/><use href="#d54"/><use href="#d55"/><use href="#d56"/><use href="#d57"/><use href="#d58"/><use href="#d59"/><use href="#d60"/><use href="#d61"/><use href="#d62"/><use href="#d63"/><use href="#d64"/><use href="#d65"/><use href="#d66"/><use href="#d67"/><use href="#d68"/><use href="#d69"/><use href="#d70"/><use href="#d71"/><use href="#d72"/><use href="#d73"/><use href="#d74"/><use href="#d75"/><use href="#d76"/><use href="#d77"/><use href="#d78"/></g>
<g stroke-width="5.3" stroke-linecap="round" fill="none"><use href="#d40" stroke="#123a69"/><use href="#d41" stroke="#18487b"/><use href="#d42" stroke="#1f558d"/><use href="#d43" stroke="#2662a0"/><use href="#d44" stroke="#2d6fb1"/><use href="#d45" stroke="#357ab6"/><use href="#d46" stroke="#3d85bc"/><use href="#d47" stroke="#4690c2"/><use href="#d48" stroke="#509bc7"/><use href="#d49" stroke="#63a7ce"/><use href="#d50" stroke="#77b3d4"/><use href="#d51" stroke="#8abfdb"/><use href="#d52" stroke="#9ccae1"/><use href="#d53" stroke="#abd2e5"/><use href="#d54" stroke="#bbdaea"/><use href="#d55" stroke="#cae2ee"/><use href="#d56" stroke="#d7e8f1"/><use href="#d57" stroke="#e0ecf3"/><use href="#d58" stroke="#eaf1f5"/><use href="#d59" stroke="#f3f5f7"/><use href="#d60" stroke="#f8f4f2"/><use href="#d61" stroke="#faede6"/><use href="#d62" stroke="#fbe6da"/><use href="#d63" stroke="#fde0ce"/><use href="#d64" stroke="#fcd5c0"/><use href="#d65" stroke="#fac8af"/><use href="#d66" stroke="#f7bb9e"/><use href="#d67" stroke="#f5ad8d"/><use href="#d68" stroke="#ef9e7f"/><use href="#d69" stroke="#e88d72"/><use href="#d70" stroke="#e17c65"/><use href="#d71" stroke="#da6b58"/><use href="#d72" stroke="#d15a4f"/><use href="#d73" stroke="#c84847"/><use href="#d74" stroke="#bf373f"/><use href="#d75" stroke="#b72536"/><use href="#d76" stroke="#a51e33"/><use href="#d77" stroke="#931830"/><use href="#d78" stroke="#81132d"/></g>
<g stroke="#fff" stroke-opacity="0.55" stroke-width="6.0" stroke-linecap="round" fill="none"><use href="#d79"/><use href="#d80"/><use href="#d81"/><use href="#d82"/><use href="#d83"/><use href="#d84"/><use href="#d85"/><use href="#d86"/><use href="#d87"/><use href="#d88"/><use href="#d89"/><use href="#d90"/><use href="#d91"/><use href="#d92"/><use href="#d93"/><use href="#d94"/><use href="#d95"/><use href="#d96"/><use href="#d97"/><use href="#d98"/><use href="#d99"/><use href="#d100"/><use href="#d101"/><use href="#d102"/><use href="#d103"/><use href="#d104"/><use href="#d105"/><use href="#d106"/><use href="#d107"/><use href="#d108"/><use href="#d109"/><use href="#d110"/><use href="#d111"/><use href="#d112"/><use href="#d113"/><use href="#d114"/><use href="#d115"/><use href="#d116"/><use href="#d117"/></g>
<g stroke-width="5.3" stroke-linecap="round" fill="none"><use href="#d79" stroke="#123a69"/><use href="#d80" stroke="#18487b"/><use href="#d81" stroke="#1f558d"/><use href="#d82" stroke="#2662a0"/><use href="#d83" stroke="#2d6fb1"/><use href="#d84" stroke="#357ab6"/><use href="#d85" stroke="#3d85bc"/><use href="#d86" stroke="#4690c2"/><use href="#d87" stroke="#509bc7"/><use href="#d88" stroke="#63a7ce"/><use href="#d89" stroke="#77b3d4"/><use href="#d90" stroke="#8abfdb"/><use href="#d91" stroke="#9ccae1"/><use href="#d92" stroke="#abd2e5"/><use href="#d93" stroke="#bbdaea"/><use href="#d94" stroke="#cae2ee"/><use href="#d95" stroke="#d7e8f1"/><use href="#d96" stroke="#e0ecf3"/><use href="#d97" stroke="#eaf1f5"/><use href="#d98" stroke="#f3f5f7"/><use href="#d99" stroke="#f8f4f2"/><use href="#d100" stroke="#faede6"/><use href="#d101" stroke="#fbe6da"/><use href="#d102" stroke="#fde0ce"/><use href="#d103" stroke="#fcd5c0"/><use href="#d104" stroke="#fac8af"/><use href="#d105" stroke="#f7bb9e"/><use href="#d106" stroke="#f5ad8d"/><use href="#d107" stroke="#ef9e7f"/><use href="#d108" stroke="#e88d72"/><use href="#d109" stroke="#e17c65"/><use href="#d110" stroke="#da6b58"/><use href="#d111" stroke="#d15a4f"/><use href="#d112" stroke="#c84847"/><use href="#d113" stroke="#bf373f"/><use href="#d114" stroke="#b72536"/><use href="#d115" stroke="#a51e33"/><use href="#d116" stroke="#931830"/><use href="#d117" stroke="#81132d"/></g>
<path d="M121 200.5h0" stroke="#f4f6f7" stroke-width="5.3" stroke-linecap="round" fill="none"/>
<path d="M123.5 200.5h0" stroke="#f9f5f3" stroke-width="5.3" stroke-linecap="round" fill="none"/>
<path d="M116 200.5h0M118.5 200.5h0" stroke="#edf3f6" stroke-width="5.3" stroke-linecap="round" fill="none"/>
<path d="M126 200.5h0" stroke="#faf0ea" stroke-width="5.3" stroke-linecap="round" fill="none"/>
<path d="M113.5 200.5h0" stroke="#e6f0f5" stroke-width="5.3" stroke-linecap="round" fill="none"/>
<path d="M128.5 200.5h0M131 200.5h0" stroke="#fbebe1" stroke-width="5.3" stroke-linecap="round" fill="none"/>
<path d="M108.5 200.5h0M111 200.5h0" stroke="#dfecf3" stroke-width="5.3" stroke-linecap="round" fill="none"/>
<path d="M133.5 200.5h0" stroke="#fce6d9" stroke-width="5.3" stroke-linecap="round" fill="none"/>
<path d="M103.5 200.5h0M106 200.5h0" stroke="#d8e9f2" stroke-width="5.3" stroke-linecap="round" fill="none"/>
<path d="M136 200.5h0M138.5 200.5h0" stroke="#fde0d0" stroke-width="5.3" stroke-linecap="round" fill="none"/>
<path d="M98.5 200.5h0M101 200.5h0" stroke="#cde3ef" stroke-width="5.3" stroke-linecap="round" fill="none"/>
<path d="M141 200.5h0" stroke="#fcd7c3" stroke-width="5.3" stroke-linecap="round" fill="none"/>
<path d="M96 200.5h0" stroke="#c1ddec" stroke-width="5.3" stroke-linecap="round" fill="none"/>
<path d="M143.5 200.5h0" stroke="#facdb6" stroke-width="5.3" stroke-linecap="round" fill="none"/>
<path d="M86 200.5h0M88.5 200.5h0M91 200.5h0M93.5 200.5h0" stroke="#b5d7e8" stroke-width="5.3" stroke-linecap="round" fill="none"/>
<path d="M146 200.5h0" stroke="#f9c3aa" stroke-width="5.3" stroke-linecap="round" fill="none"/>
<path d="M76 200.5h0M78.5 200.5h0M81 200.5h0M83.5 200.5h0" stroke="#aad1e5" stroke-width="5.3" stroke-linecap="round" fill="none"/>
<path d="M148.5 200.5h0" stroke="#f7b99d" stroke-width="5.3" stroke-linecap="round" fill="none"/>
<path d="M68.5 200.5h0M71 200.5h0M73.5 200.5h0" stroke="#9ecbe1" stroke-width="5.3" stroke-linecap="round" fill="none"/>
<path d="M151 200.5h0" stroke="#f5af90" stroke-width="5.3" stroke-linecap="round" fill="none"/>
<path d="M153.5 200.5h0" stroke="#efa286" stroke-width="5.3" stroke-linecap="round" fill="none"/>
<path d="M156 200.5h0M158.5 200.5h0" stroke="#ea957c" stroke-width="5.3" stroke-linecap="round" fill="none"/>
<path d="M161 200.5h0" stroke="#e48872" stroke-width="5.3" stroke-linecap="round" fill="none"/>
<path d="M163.5 200.5h0" stroke="#de7b68" stroke-width="5.3" stroke-linecap="round" fill="none"/>
<path d="M166 200.5h0" stroke="#d86e60" stroke-width="5.3" stroke-linecap="round" fill="none"/>
<path d="M168.5 200.5h0" stroke="#d16059" stroke-width="5.3" stroke-linecap="round" fill="none"/>
<path d="M171 200.5h0" stroke="#cb5353" stroke-width="5.3" stroke-linecap="round" fill="none"/>
<path d="M173.5 200.5h0" stroke="#c4454d" stroke-width="5.3" stroke-linecap="round" fill="none"/>
<path d="M176 200.5h0M178.5 200.5h0" stroke="#bd3846" stroke-width="5.3" stroke-linecap="round" fill="none"/>
<path d="M181 200.5h0" stroke="#b13143" stroke-width="5.3" stroke-linecap="round" fill="none"/>
<path d="M183.5 200.5h0" stroke="#a32c41" stroke-width="5.3" stroke-linecap="round" fill="none"/>
<path d="M186 200.5h0M188.5 200.5h0M191 200.5h0" stroke="#95283e" stroke-width="5.3" stroke-linecap="round" fill="none"/>
<path d="M193.5 200.5h0M196 200.5h0M198.5 200.5h0" stroke="#87233c" stroke-width="5.3" stroke-linecap="round" fill="none"/>
</g>
<g clip-path="url(#clipA)" fill="none" stroke="#231f20" stroke-width="1">
<path d="M57.9 200.7 C58.77 198.72 60.92 192.53 63.1 188.8 C65.28 185.07 68.15 181.37 71 178.3 C73.85 175.23 76.92 173.02 80.2 170.4 C83.48 167.78 87.42 165.22 90.7 162.6 C93.98 159.98 97.05 157.77 99.9 154.7 C102.75 151.63 105.28 148.38 107.8 144.2 C110.32 140.02 112.8 133.63 115 129.6 C117.2 125.57 119.03 123.35 121 120 C122.97 116.65 123.87 115.57 126.8 109.5 C129.73 103.43 135.47 90.28 138.6 83.6 C141.73 76.92 143.62 73.83 145.6 69.4 C147.58 64.97 148.75 60.85 150.5 57 C152.25 53.15 153.42 49.83 156.1 46.3 C158.78 42.77 162.82 38.43 166.6 35.8 C170.38 33.17 175.02 31.67 178.8 30.5 C182.58 29.33 186.08 28.5 189.3 28.8 C192.52 29.1 195.75 29.97 198.1 32.3 C200.45 34.63 201.93 39.02 203.4 42.8 C204.87 46.58 205.73 50.62 206.9 55 C208.07 59.38 209.3 64.6 210.4 69.1 C211.5 73.6 212.9 78.18 213.5 82 C214.1 85.82 214.08 88.93 214 92 C213.92 95.07 213.55 96.73 213 100.4 C212.45 104.07 211.75 109.28 210.7 114 C209.65 118.72 208.02 123.98 206.7 128.7 C205.38 133.42 203.83 137.2 202.8 142.3 C201.77 147.4 201.27 153.63 200.5 159.3 C199.73 164.97 199.15 171.58 198.2 176.3 C197.25 181.02 195.93 183.53 194.8 187.6 C193.67 191.67 191.97 198.52 191.4 200.7"/>
<path d="M71 200.7 C71.88 199.6 73.67 196.08 76.3 194.1 C78.93 192.12 82.87 190.77 86.8 188.8 C90.73 186.83 95.73 184.48 99.9 182.3 C104.07 180.12 108.07 178.12 111.8 175.7 C115.53 173.28 119.25 170.87 122.3 167.8 C125.35 164.73 127.78 161.52 130.1 157.3 C132.42 153.08 133.62 148.5 136.2 142.5 C138.78 136.5 142.45 128.57 145.6 121.3 C148.75 114.03 152.15 106.17 155.1 98.9 C158.05 91.63 160.98 83.77 163.3 77.7 C165.62 71.63 167.28 65.98 169 62.5 C170.72 59.02 171.67 58.05 173.6 56.8 C175.53 55.55 178.27 54.72 180.6 55 C182.93 55.28 185.55 56.33 187.6 58.5 C189.65 60.67 191.43 64.2 192.9 68 C194.37 71.8 195.52 77.13 196.4 81.3 C197.28 85.47 198.08 88.5 198.2 93 C198.32 97.5 197.85 102.92 197.1 108.3 C196.35 113.68 195.02 119.63 193.7 125.3 C192.38 130.97 190.72 136.63 189.2 142.3 C187.68 147.97 185.93 153.63 184.6 159.3 C183.27 164.97 182.13 171.58 181.2 176.3 C180.27 181.02 179.57 183.53 179 187.6 C178.43 191.67 178 198.52 177.8 200.7"/>
<path d="M93.4 200.7 C94.05 199.82 95.33 196.93 97.3 195.4 C99.27 193.87 101.7 193.03 105.2 191.5 C108.7 189.97 113.72 189.25 118.3 186.2 C122.88 183.15 128.93 177.33 132.7 173.2 C136.47 169.07 138.35 167.5 140.9 161.4 C143.45 155.3 145.43 144.27 148 136.6 C150.57 128.93 153.35 121.88 156.3 115.4 C159.25 108.92 162.87 102.85 165.7 97.7 C168.53 92.55 170.9 87.17 173.3 84.5 C175.7 81.83 177.65 81.32 180.1 81.7 C182.55 82.08 186.3 84.63 188 86.8 C189.7 88.97 190.02 91.12 190.3 94.7 C190.58 98.28 190.27 103.2 189.7 108.3 C189.13 113.4 188.12 119.63 186.9 125.3 C185.68 130.97 184.1 136.63 182.4 142.3 C180.7 147.97 178.4 154.2 176.7 159.3 C175 164.4 173.33 169.13 172.2 172.9 C171.07 176.67 170.37 178.5 169.9 181.9 C169.43 185.3 169.68 190.17 169.4 193.3 C169.12 196.43 168.4 199.47 168.2 200.7"/>
<path d="M110.4 200.7 C111.07 199.82 112.2 197.38 114.4 195.4 C116.6 193.42 119.57 190.73 123.6 188.8 C127.63 186.87 133.9 185.13 138.6 183.8 C143.3 182.47 148.85 180.92 151.8 180.8 C154.75 180.68 155.07 181.78 156.3 183.1 C157.53 184.42 158.63 186.82 159.2 188.7 C159.77 190.58 159.8 192.4 159.7 194.4 C159.6 196.4 158.78 199.65 158.6 200.7"/>
<path d="M179 97.6 C180.42 98.17 182.15 99.97 182.9 102.7 C183.65 105.43 183.78 109.28 183.5 114 C183.22 118.72 182.33 125.33 181.2 131 C180.07 136.67 178.58 142.92 176.7 148 C174.82 153.08 172.35 157.73 169.9 161.5 C167.45 165.27 164.27 168.62 162 170.6 C159.73 172.58 157.72 173.4 156.3 173.4 C154.88 173.4 154.15 173.9 153.5 170.6 C152.85 167.3 152.3 159.27 152.4 153.6 C152.5 147.93 152.88 141.7 154.1 136.6 C155.32 131.5 157.43 127.72 159.7 123 C161.97 118.28 165.25 112.25 167.7 108.3 C170.15 104.35 172.52 101.08 174.4 99.3Z"/>
</g>
<linearGradient id="cbA" x1="0" x2="1" y1="0" y2="0"><stop offset="0.0" stop-color="#053061"/><stop offset="0.1" stop-color="#2166ac"/><stop offset="0.2" stop-color="#4393c3"/><stop offset="0.3" stop-color="#92c5de"/><stop offset="0.4" stop-color="#d1e5f0"/><stop offset="0.5" stop-color="#f7f7f7"/><stop offset="0.6" stop-color="#fddbc7"/><stop offset="0.7" stop-color="#f4a582"/><stop offset="0.8" stop-color="#d6604d"/><stop offset="0.9" stop-color="#b2182b"/><stop offset="1.0" stop-color="#67001f"/></linearGradient>
<rect x="62.5" y="277.2" width="115" height="4.2" fill="url(#cbA)" stroke="#9a9a9a" stroke-width="0.5"/>
<line x1="62.5" y1="281.4" x2="62.5" y2="283.7" stroke="#808080" stroke-width="0.8"/>
<text transform="translate(66.8,293.6) rotate(-45)" font-size="10.4" text-anchor="end" fill="#231f20">−0.014</text>
<line x1="120" y1="281.4" x2="120" y2="283.7" stroke="#808080" stroke-width="0.8"/>
<text transform="translate(124.3,293.6) rotate(-45)" font-size="10.4" text-anchor="end" fill="#231f20">0</text>
<line x1="177.5" y1="281.4" x2="177.5" y2="283.7" stroke="#808080" stroke-width="0.8"/>
<text transform="translate(181.8,293.6) rotate(-45)" font-size="10.4" text-anchor="end" fill="#231f20">0.011</text>
<text x="40.5" y="265.5" font-size="10.4" fill="#231f20">Fraction (Ki67 &gt; threshold) – mean</text>
<clipPath id="clipB"><rect x="280.3" y="14.3" width="164.9" height="186"/></clipPath>
<g clip-path="url(#clipB)">
<defs><path id="d118" d="M305.4 10.6h0M305.7 14.2h0M306 29.5h0M305 35.4h0M308.6 19h0M307.6 31.8h0M308.7 37.7h0M307.9 41.3h0M310.2 11.5h0M310.6 13.4h0M310.7 15.8h0M311.5 19h0M311.6 24.2h0M314 13.7h0M313 19h0M312.9 21.4h0M314.3 35.1h0M315.7 12.9h0M317 25h0M315.9 26.3h0M315.8 33.1h0M318.3 13.4h0M318.4 21.5h0M319.8 24.6h0M318.8 35.5h0M321.2 10.8h0M322.2 13h0M321.5 20.9h0M321.7 32.4h0M321 35.1h0M321.8 37.6h0M323.5 8.8h0M323.7 13.2h0M325.1 22.4h0M323.4 35.8h0M323.4 38.5h0M326.9 10h0M326.8 26.2h0M327.5 28.8h0M329.3 18.8h0M329.5 27.6h0M331.6 10.2h0M332.9 13.7h0M331.7 26.8h0M332.5 29.7h0M333.1 31.4h0M331.6 35.5h0M332 37.6h0M335.6 13.9h0M334.2 18.1h0M337.9 10.4h0M338.4 21.5h0M341.4 21.8h0M341.3 24.9h0M344 16.2h0M342.5 24.1h0M345.9 16.5h0M348.6 18.7h0M303.9 41.1h0M303.9 18.6h0M303.9 16.1h0"/><path id="d119" d="M305 45h0M305.7 50.7h0M307.2 49.2h0M311.1 46.6h0M311.1 50.8h0M313.1 45.8h0M314.1 51h0M316.6 43.3h0M315.5 46.1h0M315.7 51.4h0M319.5 46.1h0M325 48.1h0M327.4 48.6h0M327.8 53.2h0M327.3 56.4h0M329.1 41.3h0M329.8 49.3h0M332.4 42.3h0M335.3 35.5h0M335 51h0M337 36.9h0M337.9 40.9h0M337.2 45.7h0M337.6 49h0M337.9 51.3h0M341.2 31.8h0M340.2 34.4h0M341.1 37.1h0M340.7 46.6h0M343.2 27.7h0M342.7 40.5h0M342.4 49.3h0M342.5 50.4h0M345.8 29.9h0M345.9 41.1h0M346.3 49h0M348.4 28.7h0M349.2 32.3h0M348 35.2h0M348.2 37.1h0M347.8 45.8h0M348.7 48.5h0M351.3 19.7h0M354.8 30.5h0M354.6 39.9h0M356.6 23.6h0M360 20.7h0M303.9 46.1h0"/><path id="d120" d="M308.2 53.4h0M308.2 57.4h0M314.2 59h0M315.8 56.9h0M319.2 59.1h0M319.6 61.4h0M324.8 62.3h0M329.9 57.1h0M329.3 62.8h0M334.3 54.6h0M334.9 57.2h0M341.2 56.1h0M346.1 50.7h0M349.4 50.3h0M349.1 53.1h0M353.9 42.8h0M356.8 37.3h0M356.5 40.5h0M360.1 32h0M358.9 36.8h0M362.7 20.8h0M362.9 24.2h0M362.9 32.3h0M361.3 39.9h0M364 32.8h0M366.9 29h0M372.1 21.9h0"/><path id="d121" d="M310.2 59.2h0M313.8 64.9h0M315.8 61.7h0M319.5 65.2h0M320.8 65.5h0M324.4 65.4h0M326.6 65.2h0M329.9 68.1h0M335.6 65.6h0M342.8 61.4h0M345.4 57h0M346.3 58.6h0M360 45.1h0M359.4 47.7h0M362.4 49h0M364.6 41h0M365.1 45.4h0M366.9 45.6h0M369.8 30.3h0M370.2 32.6h0M369.4 37.9h0M372.8 26.9h0M372.6 33h0M375 23.6h0M375.5 26.2h0"/><path id="d122" d="M310.2 64.2h0M318.7 72.4h0M319.4 74.9h0M330.6 73.4h0M328.8 75.8h0M332.9 72.3h0M334.2 68.1h0M335.5 72.3h0M338.4 65h0M337 70.5h0M346.2 65.2h0M353.7 59.9h0M359.2 54.3h0M367.8 48.8h0M370.3 46h0M370.3 48.4h0M369.3 50.7h0M376.1 36.9h0M375.1 40.3h0M378.5 24.2h0M377.5 34.7h0M378.1 38.6h0M381.5 26.3h0M380.5 29.9h0M303.9 66.1h0M280.3 64.2h0M280.3 52.2h0M280.3 47.4h0M280.3 45h0M280.3 40.2h0M280.3 30.6h0M280.3 18.6h0M280.3 11.4h0"/><path id="d123" d="M305 70.9h0M308.5 70.3h0M308.4 72.1h0M311.4 72.8h0M311.5 74.7h0M321.8 81.7h0M327.7 80.3h0M333.2 77.6h0M331.9 80.6h0M338.1 72.2h0M341.2 72.8h0M346.4 72.3h0M349.3 70h0M356.3 61.4h0M359.2 59.7h0M374.9 49.3h0M378.4 43.8h0M380.8 34.5h0M381.7 37.6h0M384.5 23.9h0M384.1 32.4h0M386.1 26h0M280.3 83.4h0"/><path id="d124" d="M308.5 82.7h0M310.8 83h0M313 84.3h0M319 83.1h0M319.7 85.6h0M327 85.5h0M329.7 82.8h0M340 77.6h0M347.7 73.6h0M356.5 64.9h0M359.7 62.8h0M371 55.7h0M373.7 54.2h0M373 57.3h0M375.4 51.8h0M374.8 54.7h0M379.2 46.4h0M378.7 50.9h0M380.9 43.7h0M381.6 46h0M380.7 47.8h0M384.6 38.6h0M383.4 40.7h0M386.9 29.5h0M280.3 85.8h0"/><path id="d125" d="M305.3 85.8h0M308.8 88.9h0M311.1 87h0M311.3 89.8h0M314.3 92.3h0M315.6 91.1h0M319.6 89.3h0M318.5 94.4h0M322.3 91.7h0M324.2 95.2h0M329.6 92.3h0M337.1 86.3h0M345.5 83.3h0M354.4 72.5h0M353.2 78.8h0M357 70h0M357 72.5h0M355.8 74.9h0M358.7 73.5h0M362.8 67.8h0M364.7 65.2h0M367.7 65.5h0M367.3 67h0M370.8 64.3h0M372.6 62.8h0M378.6 56h0M383.4 50.9h0M385.5 45.4h0M389.9 34.9h0M389.1 36.8h0M391.1 30.1h0M392.6 32.1h0M393.7 29.5h0M280.3 97.8h0M280.3 95.4h0"/><path id="d126" d="M306 92h0M307.7 94.4h0M307.6 97h0M311.4 97.3h0M312.9 94.5h0M313.6 96.8h0M316.1 99.1h0M324.8 96.5h0M326.2 97.2h0M329.6 97.1h0M332.4 93.5h0M335.4 91.7h0M335.7 94.8h0M337 92.4h0M345.7 87h0M359.9 77.6h0M364.3 70.3h0M365.1 72.7h0M373.7 66.8h0M384.1 53.8h0M386.8 52.1h0M389.5 45.3h0M389.8 47.9h0M392.4 40.6h0M391.9 43.7h0M391.8 46.1h0M394.9 34.3h0M394.8 42.3h0M396.9 30.4h0M303.9 96.1h0M280.3 107.4h0"/><path id="d127" d="M306.1 100.6h0M311.4 102.9h0M310.3 105.4h0M313.7 102.4h0M315.8 102.5h0M325.2 102.1h0M324.7 105.2h0M326.9 100.7h0M326.6 101.9h0M329 102.8h0M335.2 100.3h0M340.1 96.5h0M351.1 86.9h0M351.4 88.8h0M354 88.7h0M357.2 83.2h0M357.1 85.8h0M359.3 83.7h0M367.8 75.6h0M369.5 74.8h0M376.3 69.3h0M383.8 59.5h0M386.9 56.9h0M385.8 59.2h0M388.4 57.3h0M394.5 46.4h0M400.7 39.9h0M402.5 33.1h0M403.4 35.5h0M405.5 32.1h0M303.9 101.1h0M280.3 121.8h0"/><path id="d128" d="M311.6 111.1h0M318.5 108.7h0M332.8 102.7h0M332.8 105.4h0M343 97.6h0M346.2 94.7h0M346 96.2h0M348.4 97.7h0M353.7 92.3h0M357.1 88.3h0M356.1 90.9h0M359.9 85.6h0M364 83.9h0M367.2 77.6h0M366.7 81.2h0M369.5 80h0M384.1 65.2h0M387.3 61.2h0M389 62.7h0M390.9 62.7h0M393.9 53.4h0M398.1 48.2h0M396.5 55.8h0M400.4 48.2h0M402.1 44h0M402.7 46.6h0M402.2 47.9h0M405.2 42.8h0M407.3 35.7h0M303.9 113.6h0M303.9 106.1h0M306.3 177.1h0M280.3 136.2h0M280.3 129h0"/><path id="d129" d="M319 113.4h0M319.4 115.8h0M323.9 113.3h0M323.9 116.1h0M327.1 113.1h0M329 110.9h0M332.6 108h0M334.6 110.3h0M338.3 105.3h0M343.9 102.8h0M342.4 104.6h0M345.3 102.9h0M348.3 101.7h0M351.7 96.8h0M353.7 94.3h0M361.4 91.6h0M365.3 88.9h0M367.7 87h0M376.3 78.9h0M377.9 74.9h0M382.8 70h0M382.9 73.6h0M385.6 69.7h0M402 53.9h0M401.9 56.9h0M405.8 46.4h0M408.6 46.3h0M410.3 47.9h0M413.8 39.6h0M413.2 43.2h0M303.9 116.1h0M280.3 160.2h0M280.3 153h0M280.3 150.6h0"/><path id="d130" d="M304.6 126.7h0M316.7 121.5h0M322.3 118.7h0M341.4 108.3h0M339.6 109.9h0M342.3 108.1h0M345.2 107.6h0M348.1 104.7h0M354.6 100.6h0M357.4 96.8h0M356.4 99.3h0M360 94.6h0M359.8 97.1h0M368.4 88.8h0M372.4 85.9h0M376.4 81.4h0M378.9 80.3h0M380.8 80.2h0M383.6 75.5h0M383.1 78.6h0M386 73.4h0M394.8 67.9h0M396.8 65.5h0M400.1 62.4h0M400.1 65.3h0M403.3 59.4h0M408.6 51.6h0M408.5 54.5h0M411.1 54.2h0M413.1 45.3h0M416.1 46.2h0M313.5 177.1h0"/><path id="d131" d="M306 130h0M305.7 132.8h0M318 124.6h0M320.7 122.2h0M325.2 123.5h0M330.4 118h0M335.1 116.1h0M340 115.9h0M345.2 113.7h0M348.3 110.9h0M354.2 105.3h0M373 89.6h0M372.4 91.5h0M375.6 89.3h0M383.6 82.8h0M387 78.4h0M386 80.1h0M392 73.5h0M391.8 75.9h0M397.4 70.3h0M396.4 73.5h0M402.1 69.8h0M408.8 58.9h0M413.6 57.2h0M416.4 54.7h0M421.8 50.5h0M425 46.5h0M426.7 46.5h0M426.1 47.7h0M316 128h0M303.9 141.1h0M303.9 133.6h0"/><path id="d132" d="M311.1 139.6h0M319.4 129h0M321 129.2h0M323.9 129.5h0M329.4 126.4h0M335.5 121.3h0M345.4 116.6h0M364.8 100h0M369.6 99.3h0M372.9 94.1h0M374.9 92.6h0M377.6 92h0M384.2 86.1h0M385.5 85.7h0M389.6 81.6h0M388.8 82.9h0M391.4 81.1h0M400.8 73.5h0M400.2 75.8h0M403.2 73.6h0M405.3 70.9h0M419.4 56.8h0M418.6 61.9h0M422.2 59.5h0M424.1 51.3h0M423.6 54.3h0M429.3 53.6h0M306 140h0M308 137.6h0M314 130.4h0M303.9 143.6h0"/><path id="d133" d="M305.6 155.9h0M315.5 137.7h0M315.5 139.9h0M321.8 131.9h0M331.7 128.8h0M334.3 127h0M341.3 123.6h0M344.1 118.4h0M347.9 116.5h0M351.3 115.4h0M353.8 112.8h0M362.5 105.5h0M362.5 107.8h0M364.8 107.4h0M369.9 102.8h0M374.9 96.2h0M385.6 92h0M388.9 88.4h0M391.7 84h0M395.1 80.8h0M399.4 83h0M403.4 78.9h0M410.5 70.3h0M411.5 72.4h0M412.6 69.9h0M415.5 67.6h0M419.3 64.1h0M418.2 66.5h0M424.4 62.8h0M429.3 56.2h0M429.4 59.8h0M430.3 62.2h0M431.4 56.8h0M304.5 163.6h0M303.9 153.6h0"/><path id="d134" d="M327.7 136.9h0M331.5 134.6h0M335.2 130.2h0M340.8 126.4h0M342.5 125.9h0M346.6 124.2h0M348.5 120.6h0M357.4 115.5h0M362.7 113.7h0M364.1 112.6h0M371 104.7h0M378.1 99.8h0M380.6 97.4h0M394.1 87h0M397.2 85.6h0M397.8 88.3h0M403.5 81.2h0M408.2 77.6h0M414.2 75.1h0M415.2 76h0M421 73h0M425.1 70.3h0M426.5 68h0M428.8 64h0M311.3 156.8h0M337.5 177.1h0"/><path id="d135" d="M318.8 153.3h0M329.5 138.4h0M335.2 134.2h0M335.2 137.2h0M339.7 129.2h0M340.5 132.9h0M360.2 116.7h0M359.2 120.7h0M367.9 113.7h0M369.4 110.1h0M372.5 108.8h0M375.9 107.7h0M381.7 103.3h0M391 97.3h0M395.4 95.1h0M397.4 91.4h0M397.4 94h0M407.9 86.8h0M411.6 81.5h0M410.4 86.9h0M430.2 70.2h0M429.6 72.1h0M432.3 69.9h0M434.6 67.5h0M318.1 149.9h0M324.9 143.1h0M327.2 140.8h0M331.7 136.3h0"/><path id="d136" d="M322 156h0M335.8 143.1h0M339.8 137.3h0M345.6 135.5h0M351.1 130.2h0M358.6 124.5h0M362.6 119.5h0M369.9 115.7h0M381.2 107.8h0M384.1 104.9h0M392.3 102.5h0M399.1 94.6h0M402.8 91.9h0M404.7 93.7h0M410.7 91.3h0M416.9 83.1h0M415.2 88.2h0M419.1 81.4h0M424.5 80.6h0M429.7 77.8h0M436.9 69.3h0M437 72.9h0"/><path id="d137" d="M335.7 145.6h0M339.7 145.2h0M343.1 140.5h0M343.2 142.6h0M345.8 140.4h0M347.8 135.6h0M351.1 132h0M351.2 134.6h0M358.9 129.8h0M362.2 126.1h0M367.5 121.6h0M369.6 119.1h0M370.3 120.9h0M375.8 115.5h0M383.2 108.8h0M386.8 107.4h0M397.5 104.3h0M400.1 100.3h0M402.3 97.9h0M404.6 98h0M424 86.7h0M436.9 75.2h0M329.1 153.1h0M337.4 145.2h0M340.2 142.6h0"/><path id="d138" d="M343.6 146h0M346.4 148.1h0M349.3 142.6h0M354.7 136.8h0M359.9 132.2h0M358.7 134.1h0M361.9 128.8h0M364.4 127.5h0M372.7 122h0M372.8 124.4h0M377.8 117.9h0M386.4 116.1h0M391.3 111.3h0M395.1 109.9h0M397.3 108.5h0M403.2 103.4h0M402 104.9h0M404.8 104.9h0M410.7 97.5h0M415.3 94.9h0M418 94h0M428.7 86.7h0M429.3 88.1h0M435 81.6h0M356.7 177.1h0"/><path id="d139" d="M346.2 151.8h0M348.6 153h0M351 146.3h0M357.3 139.4h0M359.6 137.1h0M365 134.7h0M370 129.3h0M372.3 127.5h0M373.2 129.4h0M376.4 124.1h0M375.2 126.3h0M378.3 126.2h0M380.8 124h0M386.3 119.5h0M393.8 112.7h0M397 113.3h0M402.5 110.2h0M405.4 110.2h0M410.1 108h0M413.7 105.1h0M416.6 100.2h0M422.1 99.4h0M423.5 99.5h0M428.7 91.1h0M434.3 86h0M436.9 86.6h0M439.7 84.4h0M439.6 86h0M359.1 177.1h0"/><path id="d140" d="M349.5 158.5h0M352.1 154.2h0M351.7 163.6h0M354.7 153.6h0M353.5 155.8h0M357.1 147.9h0M356.1 153.2h0M359.8 145.1h0M362.9 146.3h0M365.5 142.5h0M364.6 145.5h0M367.1 138.3h0M367 140.5h0M370.8 135.6h0M370.7 137.6h0M370.8 140.7h0M378.8 128.7h0M378.6 132.2h0M380.4 126.9h0M385.7 123.8h0M385.9 126.8h0M407.1 111.2h0M414 108.1h0M421.1 105.7h0M426.6 102.6h0M429.9 96.4h0M429.7 100.5h0M434.5 94.8h0M437.1 90.8h0M366.3 177.1h0"/><path id="d141" d="M354.8 162.6h0M354.7 163.6h0M356.2 158.9h0M356.4 163.6h0M358.6 161.9h0M362.9 156.8h0M361.6 159.9h0M365.2 150.9h0M364.4 153.3h0M366.9 149.1h0M372.9 140.8h0M373.5 147.7h0M375.6 137.3h0M377.9 134.2h0M377.5 142.9h0M384.5 132.9h0M389 126.7h0M395.1 123.8h0M399.3 122h0M405.9 118.1h0M409.8 113.1h0M430 104.3h0M432.9 99.6h0M433 102.1h0M434.9 99h0M443.5 96.5h0M371.1 177.1h0"/><path id="d142" d="M361.3 162.1h0M362 163.6h0M364.8 159.2h0M368.2 156.7h0M367.9 158.6h0M369.7 158.3h0M372.5 152.9h0M375.2 151.7h0M386.4 135.8h0M391.1 134.6h0M398 126.2h0M400.5 123.6h0M399.2 126.5h0M407.1 118.7h0M413.6 115.4h0M416.7 113.7h0M419.6 113.7h0M425 110.3h0M426.9 112.5h0M430.4 110.7h0M432.8 107.2h0M435.2 108.4h0M440.4 100.6h0M439.5 103.1h0M373.5 177.1h0"/><path id="d143" d="M370.1 162.7h0M375.1 161.7h0M381.1 148.3h0M383.9 146h0M383.8 148.2h0M383.4 150.3h0M383.2 153.3h0M388.3 142.5h0M388.3 146.2h0M391.1 137.4h0M392 139.5h0M395.2 137.3h0M397.2 135.1h0M407.6 123.7h0M435.9 110.9h0M440.4 110h0M443.2 105.9h0M378.3 177.1h0"/><path id="d144" d="M377.4 162.5h0M377.9 163.6h0M384.2 159.2h0M386.8 156.1h0M392.1 145.7h0M391.9 150.3h0M394.9 143.7h0M400.7 134.3h0M407.5 128.9h0M419.7 122.3h0M421.9 120.6h0M424.1 118.2h0M427.3 119.3h0M429.3 115.7h0M434.1 115.6h0"/><path id="d145" d="M383 163.6h0M389.3 159.3h0M426.6 121.9h0M434.1 118.4h0M435 120.7h0M437.7 116.6h0M439.7 115.3h0"/><path id="d146" d="M389.4 163.6h0M393.8 161.3h0M400.3 148.2h0M402.5 145.9h0M401.9 148.2h0M405.3 140.5h0M407.5 140.4h0M416.8 132.2h0M415.4 134.4h0M418.3 130.3h0M421.2 130.2h0M423.7 127.5h0M435.8 124.8h0M438.4 121.6h0M440.5 120.9h0"/><path id="d147" d="M397.7 159.2h0M399.3 160h0M407.9 146.5h0M410.7 142.4h0M413 140.6h0M418.3 133h0M419.5 134.6h0M421.5 134.7h0M423.5 132.8h0M423.6 134.1h0M426.3 129.2h0"/><path id="d148" d="M399.6 163.6h0M407.6 153h0M415.9 140.8h0M420.8 137.4h0M421.8 139.5h0M424.4 137.9h0M427.4 137.3h0M430.3 134.7h0M434.2 130.2h0M434.8 132.9h0"/><path id="d149" d="M402 163.6h0M405.7 158.8h0M411.1 151.9h0M419.1 142.8h0M422.2 142.6h0M431.7 138h0M404.7 177.1h0"/><path id="d150" d="M405.8 161.8h0M408.2 163.6h0M413.5 156.5h0M415.5 153.9h0M418.3 148.7h0M422.1 145.7h0M422.2 149.1h0M424.3 145h0M409.5 177.1h0"/><path id="d151" d="M410.8 161.7h0M413.6 158.8h0M416.8 157.3h0"/><path id="d152" d="M415.4 159.6h0M416.7 177.1h0"/><path id="d153" d="M419.4 163.6h0M424.2 158.8h0M421.5 177.1h0M423.9 177.1h0"/><path id="d154" d="M426.4 163.6h0M428.7 177.1h0"/><path id="d155" d="M431.1 177.1h0"/><path id="d156" d="M304.9 19.6h0M305.6 20.9h0M305 23.6h0M305 32.2h0M304.6 37.3h0M308.5 24.9h0M310.8 27h0M314.1 24.5h0M314 37h0M316.7 8h0M316.9 34.9h0M316.3 38.1h0M319.6 8.5h0M318 9.8h0M318.5 15.4h0M318.8 40.6h0M321.7 19.1h0M322.3 27.2h0M324.4 10.5h0M323.9 16.8h0M324.3 17.9h0M325.2 23.8h0M324.3 27.3h0M324 32.9h0M327.5 14.2h0M327.4 15.2h0M326.9 32.7h0M327.6 34.9h0M326.6 40.4h0M330.3 13.5h0M329.3 24.6h0M330 30.4h0M330.2 32.2h0M329.7 37h0M332.9 8.3h0M333 25h0M336 21.4h0M335.1 24.6h0M335.5 29h0M337.7 18.5h0M337.5 23.8h0M340.6 10.3h0M341.4 13h0M341.2 15.6h0M341 19.2h0M342.5 8.7h0M343.5 10.3h0M344.1 18.4h0M345.6 20.8h0M348.4 16.7h0M303.9 33.6h0M303.9 28.6h0"/><path id="d157" d="M305.8 42.5h0M305.9 48.3h0M307.6 50.6h0M310.1 48.4h0M313.8 43.9h0M318.3 48.5h0M318.7 53.4h0M320.8 43.3h0M321.4 51.1h0M323.7 46.4h0M324.5 51.2h0M326.1 42.7h0M326.3 50.7h0M330.5 54.7h0M331.6 51.9h0M331.7 53.4h0M334.8 36.9h0M335 48.7h0M337.3 43.7h0M341.1 42.5h0M340.9 51.1h0M343.6 28.7h0M343.9 43.5h0M343 45h0M346 32.9h0M346.6 37.4h0M348.2 24.6h0M347.9 26.4h0M348.1 43.9h0M350.5 16.9h0M351.5 22h0M350.8 31.7h0M351 34.6h0M351.7 37h0M353.5 18.5h0M354.8 21.1h0M353.8 23.5h0M354.6 26.7h0M354.1 32h0M357.2 26.8h0M359.7 18.6h0M360.2 24.2h0M359.6 26.2h0M303.9 48.6h0M303.9 43.6h0"/><path id="d158" d="M316.4 58.6h0M319.7 57h0M321.2 57.2h0M323.7 58.9h0M330 58.4h0M332.5 55.8h0M332.8 59.6h0M335.8 59.1h0M339.8 54.3h0M354.1 45.5h0M354.7 47.7h0M359.2 28.8h0M358.8 39.6h0M361.8 35.6h0M365.6 22h0M364.5 24.9h0M364.1 27.4h0M370.1 23.3h0"/><path id="d159" d="M313.7 62.9h0M315.8 64h0M318.9 67.2h0M329 64.1h0M332 65.2h0M338.4 60.1h0M338.4 62.6h0M340.4 59.9h0M343.1 56.9h0M342.7 59.1h0M350.7 56.5h0M354.2 51.5h0M359 50.7h0M362.2 42.8h0M361.2 45.6h0M365.5 42.3h0M368.2 41.3h0M368 42.4h0M369.4 34.2h0M369.9 39.7h0M373.3 23.9h0M372.6 30.4h0M372.2 38.1h0M374.8 29.9h0"/><path id="d160" d="M304.6 62h0M310.9 67.3h0M313.6 72.5h0M319.2 69.9h0M324 70.9h0M324.7 73.2h0M329.5 70.3h0M334.6 69.6h0M337 66.7h0M340.2 64.1h0M341.2 67.7h0M343 67.5h0M346.1 62.3h0M348.2 62.9h0M351.5 59.2h0M351.6 61.9h0M357.3 56.6h0M362.8 50.5h0M362.6 53.9h0M365.5 49.3h0M365.1 50.9h0M367.8 50.7h0M370.7 42.8h0M372.9 40.5h0M373.7 42.4h0M372.3 48h0M376.3 32.9h0M376.3 34.8h0M378.4 26.7h0M377.6 32h0M381.2 25.1h0M303.9 61.1h0M280.3 69h0M280.3 61.8h0M280.3 59.4h0M280.3 54.6h0M280.3 37.8h0M280.3 25.8h0M280.3 23.4h0M280.3 21h0M280.3 13.8h0"/><path id="d161" d="M304.9 68.1h0M304.7 72.7h0M305.3 75.9h0M308.2 76.4h0M312.9 76.4h0M318.9 78.1h0M319.8 80.2h0M322 78.9h0M324 78.6h0M323.6 81.2h0M327 78.8h0M330.1 81.6h0M334.2 78.2h0M337.4 74.9h0M341.3 74.6h0M343.5 70.6h0M343.5 72.4h0M346.2 66.8h0M351.8 65.4h0M351.7 67.7h0M353.1 62.7h0M354.6 64.6h0M360.2 57.3h0M364.2 56.3h0M375.7 43.2h0M376.4 46.4h0M384.3 34.9h0M303.9 68.6h0M280.3 81h0M280.3 78.6h0M280.3 73.8h0"/><path id="d162" d="M304.6 80.6h0M316.3 83.3h0M321.3 85.8h0M324.5 88.9h0M327.4 89.5h0M332.3 84.2h0M334.2 82.9h0M338.4 78.7h0M338.1 81.1h0M337.8 83.5h0M348.1 74.8h0M350.5 73.7h0M354.6 67h0M357.5 67.9h0M364.3 61.7h0M366.8 58.9h0M367 61.9h0M369.7 58.7h0M384.3 43.7h0M383.9 44.9h0M386.1 32h0M386.5 34.9h0M385.8 37.6h0M386 40.6h0M389.5 27.7h0M388.2 30.4h0M389 32.8h0M391 26.7h0M303.9 78.6h0M280.3 90.6h0M280.3 88.2h0"/><path id="d163" d="M307.3 86.6h0M316.2 88.8h0M318.3 91.5h0M322.3 94.8h0M324.1 91.6h0M327.4 93.6h0M330.2 89.7h0M331.9 89.7h0M335.9 85.9h0M341.1 84.5h0M346.3 78.8h0M345.1 81.5h0M348.1 83.1h0M352.1 74.9h0M359.3 68.3h0M359.4 70.5h0M365.4 67h0M370.8 62.3h0M372.9 58.7h0M375.5 56.9h0M380.1 51.7h0M381.2 53.7h0M383.8 49.1h0M387.1 47.6h0M388.8 39.6h0M391.9 34.6h0M303.9 91.1h0M303.9 88.6h0M303.9 86.1h0"/><path id="d164" d="M305.2 94.2h0M313.3 99.4h0M316 94.3h0M316.7 96.4h0M322 99h0M340.5 89h0M339.6 91.6h0M342.8 89.8h0M345.7 89.5h0M356.6 78h0M362.4 73.2h0M368.1 69.4h0M375.3 61.3h0M377.9 59.1h0M378.5 61.2h0M380.8 56.7h0M380.9 58.4h0M393.9 37.8h0M393.9 39.7h0M397.7 32.2h0M396.8 34.9h0M396.4 38.5h0M303.9 93.6h0M280.3 112.2h0M280.3 105h0"/><path id="d165" d="M305.5 104.9h0M307.5 100.6h0M308.4 101.8h0M311.3 99.8h0M312.8 104.7h0M316.9 104.5h0M318.4 101.8h0M321.7 105.2h0M326.7 105.9h0M338.1 94.7h0M337.3 97.1h0M343.7 94.7h0M347.9 89.5h0M348 91.9h0M357.4 81.3h0M361.7 80.5h0M372.6 72.7h0M378.1 67.8h0M381.1 62h0M380.4 64.5h0M388.6 54.8h0M391.4 50.5h0M393.8 49.3h0M394.4 50.5h0M400.6 35.2h0M303.9 103.6h0M280.3 126.6h0M280.3 124.2h0"/><path id="d166" d="M305.3 108.3h0M307.9 107.5h0M307.2 110.9h0M310.2 112.8h0M313.6 110.4h0M315.6 108.3h0M316.2 109.9h0M319 110.2h0M323.8 107.2h0M329.9 107.4h0M338.1 102.7h0M339.8 99.5h0M343.7 99.5h0M351.2 92.5h0M351 95.1h0M361.4 86.1h0M381.2 69.8h0M386.7 64.9h0M389.3 58.6h0M392.4 57.2h0M396.3 51.1h0M396.5 54.2h0M399.4 52h0M403.4 41.1h0M405.8 35.7h0M405.3 37.7h0M404.9 40.6h0M407.8 31.7h0M407.9 37.2h0M407.2 40.9h0M410.5 35.1h0M410.5 37.9h0M280.3 143.4h0M280.3 141h0M280.3 138.6h0M280.3 133.8h0M280.3 131.4h0"/><path id="d167" d="M306 119.5h0M307.5 116.5h0M321.4 116.5h0M338.1 108.7h0M345.3 104.6h0M348.1 98.9h0M350.6 100.4h0M367.7 83.7h0M369.6 83h0M372.4 78.9h0M381.7 75.7h0M391.8 65h0M394.6 58.9h0M394.9 62h0M394.4 65h0M397.2 60.1h0M402.2 51.4h0M404.8 47.8h0M415.3 37.6h0M303.9 118.6h0M308.7 177.1h0M311.1 177.1h0M280.3 165h0M280.3 148.2h0M280.3 145.8h0"/><path id="d168" d="M310.3 123.7h0M313 121.8h0M314.4 123.4h0M318.9 118.1h0M319.5 122.2h0M323.7 119.2h0M326.1 119.3h0M329.7 116.8h0M332.7 113h0M334.3 113.3h0M338.1 109.7h0M350.6 103.3h0M354.9 102h0M362.6 94.3h0M367 91.1h0M370.9 85.8h0M371 89h0M376.4 84h0M381.2 78.4h0M386.8 74.7h0M389.9 69.6h0M394.7 69.6h0M397.8 62.8h0M396.4 67.2h0M405.9 58.6h0M405.2 61.5h0M411.3 51.2h0M414 50.9h0M416.9 43.4h0M418.8 37.7h0M418.1 40.9h0M420.6 41h0M303.9 123.6h0M315.9 177.1h0"/><path id="d169" d="M305.7 134.4h0M317 127.1h0M327.5 123.4h0M337.7 116.2h0M345.8 111.4h0M350.4 107.1h0M357.1 105.4h0M358.8 102.4h0M364.2 97.2h0M378 88.4h0M380.9 83.4h0M381.2 86.2h0M389.4 78.7h0M395.3 72.1h0M399.7 68.2h0M402.9 65.6h0M404.5 67.3h0M407.9 61.7h0M410.3 59.3h0M414 53.2h0M412.9 61.8h0M415.3 56.7h0M419.5 46.3h0M421.5 43.3h0M421.7 45.1h0M423.9 42.2h0M303.9 131.1h0"/><path id="d170" d="M306.1 140h0M304.7 146.4h0M304.6 151.2h0M319.8 127.4h0M322 126.7h0M324.2 126.2h0M326.6 127h0M332.9 123.5h0M337 122h0M350.8 113.3h0M354.7 110.2h0M356.5 107.6h0M362.1 102.7h0M375.1 95h0M380.2 88.3h0M384 88.7h0M386.4 82.8h0M391 78.8h0M397.5 78.3h0M406 73.1h0M407.8 67.7h0M410.4 67.8h0M414.2 66.8h0M416.6 62.2h0M415.5 65.5h0M421.3 61.6h0M430.3 51.7h0M431.7 50.4h0M310 135.2h0M303.9 151.1h0M303.9 148.6h0M303.9 146.1h0M325.5 177.1h0"/><path id="d171" d="M305 159h0M308.4 153h0M324.8 131.6h0M327.3 129.7h0M329.4 130.4h0M334.2 124.6h0M339.6 121.2h0M356.4 113.5h0M360 110.1h0M364.3 105.3h0M378 95.3h0M381.8 91.7h0M383.4 90.8h0M388.6 85.9h0M391.9 85.4h0M398 84h0M403.1 75.5h0M405.3 78.6h0M407.3 73.1h0M408.8 76.2h0M415.9 69.5h0M421.7 64.3h0M426.1 61.1h0M433.2 59.3h0M432.5 61.1h0M306.8 161.3h0M330.3 177.1h0"/><path id="d172" d="M310.2 163.6h0M326.6 135.2h0M331.8 132.8h0M335.8 131.9h0M350.6 122.3h0M373.1 104.7h0M375 101.6h0M380.9 100h0M384 94.5h0M386.6 93.6h0M386.2 97.1h0M389.1 94.5h0M391.7 89.9h0M393.7 89.4h0M406.1 81.4h0M407.4 80.1h0M410.5 77.9h0M413.8 77.9h0M418.1 71h0"/><path id="d173" d="M332.5 137.7h0M332.7 140.4h0M351.2 123.3h0M350.6 126.5h0M354.5 121.5h0M356 119.2h0M356.5 121.8h0M361.7 116.4h0M372.8 110.7h0M378.9 102.7h0M383.8 100.3h0M383.2 101.9h0M389.7 96.4h0M389.3 99.8h0M392.5 95.1h0M393.9 96.2h0M399.4 92.4h0M402.3 89.3h0M405 87h0M410.2 84.3h0M413.6 84h0M415.5 81.1h0M419.7 78.8h0M424.1 74.7h0M427.6 72.7h0M431.7 67.9h0M315.8 152.2h0M322.7 145.4h0M334 134h0M344.7 177.1h0"/><path id="d174" d="M338.2 138.1h0M339.9 135.6h0M345.5 132.4h0M349.4 129.7h0M356.9 126.6h0M364.7 121.7h0M370.8 112.6h0M378.7 110.4h0M386.5 105.8h0M394.8 99h0M397.5 96.8h0M399.2 97.9h0M402.4 95h0M404.7 91.8h0M407.9 91.2h0M410.7 88.9h0M413.2 88.6h0M416.5 87h0M419.6 83h0M421 80.7h0M426.9 76.4h0M427.5 78.5h0M432.7 72.5h0M434.6 72.3h0M320.8 161h0"/><path id="d175" d="M326.6 155.7h0M337.1 145.1h0M340.4 141.1h0M340.3 142.7h0M345.6 137.1h0M345.3 142.2h0M353.5 130h0M359.5 126.9h0M362.9 123.9h0M365 123.5h0M367.7 123.8h0M372.9 119.5h0M375.6 114.2h0M377.5 115.7h0M380.9 113.7h0M389.7 105h0M389.4 107.6h0M391.1 105.9h0M391.8 107.4h0M394.2 102.1h0M397.9 100.5h0M397.9 102.2h0M399.2 103.3h0M405.4 100.1h0M407.3 95.2h0M411.1 94h0M417 91.8h0M424.3 83.3h0M427.2 80h0M426.4 83.7h0M426.6 85.4h0M428.9 82.8h0M334.7 147.9h0M343 140h0M351.9 177.1h0"/><path id="d176" d="M340.7 148.8h0M339.7 154.1h0M345.6 144.9h0M350.6 143.4h0M356.6 132.6h0M356.3 138h0M361.9 131.8h0M361.6 134.7h0M376.2 119.5h0M378.7 121.7h0M381.2 116.5h0M389.8 110.3h0M388.3 112.7h0M392.2 112.8h0M394.3 107.2h0M407.4 99.7h0M408.4 102.2h0M413.5 97.5h0M415.8 97.7h0M421.3 94.4h0M424.9 91.6h0M432.9 86h0M437.9 80.5h0M440 78.3h0M354.3 177.1h0"/><path id="d177" d="M338 162.1h0M348.4 151.9h0M354.6 142.5h0M353.7 145.7h0M354.6 148.9h0M353.2 150.9h0M356.6 143h0M357.3 145.7h0M364.9 132.2h0M365.2 137.4h0M368.2 134.1h0M380.8 122.1h0M383.9 118.9h0M389.3 116.5h0M396.8 110.4h0M402.2 107.3h0M411.4 103.4h0M416.6 103.3h0M418 100h0M418.5 101.8h0M423.9 97h0M426.7 91.9h0M429.9 94.5h0M432.9 89.1h0M434.3 91h0M441.2 80.9h0M361.5 177.1h0"/><path id="d178" d="M346.6 163.6h0M350.9 158.8h0M356.6 151.5h0M355.9 156h0M362.7 149.1h0M373.6 131.7h0M372.6 135.5h0M373.7 138.5h0M376.1 133h0M380.7 128.8h0M383.3 124.6h0M383.1 127.6h0M389 121.7h0M389.2 124.7h0M392.4 119.5h0M391.3 122.1h0M393.8 119.5h0M402.1 115.3h0M419.5 105.4h0M424.1 103.3h0M423.9 104.8h0M431.6 96.7h0M437.6 94h0M440.1 88.7h0M442.3 88.6h0"/><path id="d179" d="M359.5 154.7h0M360.1 156.9h0M367.9 146h0M367.8 150.5h0M370.9 143.3h0M370.1 145.6h0M370.6 147.8h0M370.9 151.9h0M374.8 143.5h0M378.2 137.9h0M382.9 134.7h0M382.9 136.7h0M385.8 129.4h0M386.1 132.1h0M388.3 131.6h0M396.6 121h0M396.3 124.3h0M408.4 113.7h0M421 110.5h0M423.3 108.5h0M434.8 97.2h0M435.4 102.5h0M439.9 92.3h0M441 93.7h0"/><path id="d180" d="M370.9 153.9h0M369.3 157.2h0M372.9 156.7h0M375.6 148.7h0M375.1 154.7h0M377.9 148.6h0M380.9 145.8h0M383.9 143.4h0M386.1 140.7h0M389.4 137.2h0M391 132.1h0M415.5 116.7h0M419.5 115.3h0M422.1 112.9h0M423.5 113.5h0M432.6 105.3h0M438.5 100.5h0M443 100.5h0M442.9 101.7h0"/><path id="d181" d="M370.4 163.6h0M376.4 155.8h0M375.7 158.8h0M378.5 151.4h0M378 153.9h0M380.1 153.9h0M380.5 155.9h0M387 143.1h0M387.1 146.4h0M389.1 139.8h0M391.7 142.3h0M393.9 139.6h0M397.7 133h0M401.8 127.6h0M405.8 124.8h0M404.8 126.4h0M411.4 124.1h0M416.6 119.2h0M415.7 121h0M418.5 119.4h0M421.5 115.5h0M421.4 118.6h0M429.4 113.5h0M432.6 110.2h0M432.9 112.8h0M437.6 108.2h0M440.8 108.1h0M442.8 107.6h0"/><path id="d182" d="M386.6 153.9h0M388.4 148.8h0M395.1 145.2h0M400.7 138.4h0M403 134.5h0M405.8 129.8h0M404.5 134.1h0M414.2 123.9h0M413 126.7h0M419.6 123.2h0M424 121.7h0M427.5 116.5h0M430 118.4h0M434.5 113.8h0M440.6 113.7h0M443.2 110.6h0M442.5 112.7h0M383.1 177.1h0M385.5 177.1h0"/><path id="d183" d="M387.1 158.5h0M391.9 154.1h0M392.3 157.2h0M394.4 149.2h0M394.1 151.3h0M402.7 137.5h0M402.4 140.3h0M404.9 137.2h0M408.3 134h0M412.6 129.1h0M416.2 127h0M422 126.4h0M425 123.6h0"/><path id="d184" d="M391.7 161.2h0M392.6 163.6h0M399.8 150.6h0M404.8 142.8h0M411.2 134.1h0M424.4 129.6h0M426.5 127.5h0M432.7 122.2h0M431.5 123.6h0M438.2 123.6h0"/><path id="d185" d="M394.1 163.6h0M396.8 163.6h0M406.2 150.6h0M408 143.8h0M407.2 149h0M427.6 131.8h0M430.2 131.5h0M435.3 126.6h0M399.9 177.1h0"/><path id="d186" d="M403.3 157.2h0M402.8 158.6h0M404.6 154h0M411 145.4h0M413.6 143.4h0M412.7 145.8h0M415.4 143.2h0M419.4 140.7h0M427 135h0M432.4 132.7h0M431.7 135.2h0M437.3 129.1h0M402.3 177.1h0"/><path id="d187" d="M403.1 161.6h0M408.2 157.1h0M410.8 154.4h0M409.8 156.3h0M423.4 140.8h0M429.9 138.2h0"/><path id="d188" d="M404.9 163.6h0M408.4 161.5h0M416.1 151h0M418.2 150.9h0M427.6 146.3h0M429.7 143.7h0"/><path id="d189" d="M410.6 163.6h0M421.3 151.1h0M422.1 153.3h0M428.8 149.3h0M414.3 177.1h0"/><path id="d190" d="M420.9 159.1h0M426.9 151.6h0"/><path id="d191" d="M416.8 163.6h0M427.6 159.6h0M419.1 177.1h0"/><path id="d192" d="M426.3 177.1h0"/><path id="d193" d="M305.1 16.4h0M304.8 26.6h0M305.1 39.8h0M307.7 11h0M308.8 15.6h0M308.4 21.8h0M307.5 30.3h0M311.5 8.7h0M311.6 21.7h0M309.9 30.1h0M310.1 41h0M314.3 8.3h0M314 10.3h0M313.2 16.1h0M313.7 26.2h0M314.1 29.8h0M314.3 33.1h0M312.7 40.9h0M315.7 10.2h0M315.8 15.7h0M316.4 18.8h0M315.4 21.4h0M316.6 40.7h0M319.7 18.7h0M318.6 32.2h0M318.5 37.6h0M322 16.1h0M321.1 23.4h0M321.3 39.9h0M323.6 29.5h0M324.2 39.8h0M326.6 8.7h0M327.6 18.3h0M327.6 22.1h0M327.3 23.4h0M326.3 38.4h0M328.9 8.4h0M330.6 10.3h0M330.2 16.5h0M329 20.8h0M333 16.5h0M332.7 19.5h0M333.2 21.1h0M334.7 10.6h0M334.9 15.2h0M335.1 26.3h0M334.8 31.4h0M337.1 13.4h0M337 15.3h0M338.5 27.4h0M342.6 12.8h0M342.5 21.6h0M345.8 19.3h0M303.9 38.6h0M303.9 36.1h0M303.9 31.1h0M303.9 26.1h0M303.9 23.6h0M303.9 21.1h0M303.9 13.6h0M303.9 11.1h0"/><path id="d194" d="M308.5 43.3h0M307.2 45.3h0M310.5 42.7h0M314 48.7h0M316.5 47.9h0M319 42.3h0M319.6 51.9h0M321.1 45h0M322.5 49.2h0M321.1 54.8h0M325.1 53.3h0M327.8 46.2h0M330.3 42.8h0M328.9 45.4h0M328.8 51.6h0M331.8 41.2h0M333.1 46h0M332 47.8h0M334.8 39.8h0M334.6 43.4h0M335.3 46h0M337.9 31.5h0M337.1 34.8h0M340.2 27h0M339.8 29.1h0M340.7 39.8h0M340.8 48.6h0M343.3 35.1h0M346.4 25h0M346.5 26.1h0M346.8 35.2h0M345.4 43.2h0M346.1 45.4h0M348.9 22h0M348.3 39.9h0M351.1 29.9h0M351.9 39.7h0M350.8 43.1h0M351 45.4h0M354.9 36.9h0M356.5 18.7h0M356 29.5h0M357 32.9h0M303.9 51.1h0"/><path id="d195" d="M304.5 53.6h0M314.1 54.6h0M316 54.5h0M322 58.4h0M320.8 61.9h0M324.1 56.9h0M327.4 58.7h0M326.3 62.1h0M337 53.3h0M337.4 57h0M343.7 54h0M345.4 54h0M350.5 47.7h0M351.9 52.1h0M357.5 34.5h0M357 42.2h0M356 46.4h0M356.5 47.7h0M360.3 35.6h0M360.2 42.5h0M361.4 26.7h0M363 29.3h0M361.7 38.1h0M364.4 30h0M364.9 35.6h0M364.9 38.3h0M366.6 21.8h0M368.2 23.9h0M368.3 26.3h0M367.2 32.5h0M369.7 21.5h0M369.6 27.6h0M303.9 56.1h0M303.9 53.6h0"/><path id="d196" d="M305.9 57.2h0M305.1 59.9h0M308.8 58.8h0M311.5 61.3h0M322.4 67.6h0M323.8 68.1h0M327.9 66.7h0M326.5 69.5h0M332.7 61.7h0M333.3 67.6h0M335.4 62h0M340.1 61.7h0M347.9 56.4h0M352.1 53.9h0M354.8 54.1h0M353.9 56h0M356.7 51.1h0M356.4 54.7h0M368 34.3h0M366.7 37.1h0M374.7 21.4h0M303.9 58.6h0"/><path id="d197" d="M305 64.6h0M309 67.1h0M313.2 67.4h0M313.5 70.4h0M315.7 67.5h0M321.3 69.6h0M320.9 72.9h0M321 75h0M324.5 76h0M326.8 72.3h0M327.2 75.3h0M333.1 69.5h0M332 74.7h0M343.5 64.5h0M349.2 64.8h0M373.6 45.7h0M377.7 29.6h0M380.3 22.1h0M303.9 63.6h0M280.3 66.6h0M280.3 57h0M280.3 49.8h0M280.3 42.6h0M280.3 35.4h0M280.3 33h0M280.3 28.2h0M280.3 16.2h0"/><path id="d198" d="M308.2 77.7h0M310.7 78h0M315.7 76h0M315.4 79h0M322.2 83.5h0M325.2 84.4h0M326.6 83.7h0M329 79h0M335.1 74.8h0M345.5 70.4h0M349.4 67h0M357.3 60h0M362.5 56.4h0M361.9 60h0M365.3 54.3h0M364 59.2h0M368.1 54.4h0M367.3 56.3h0M370.6 54.2h0M372.5 51.2h0M379.1 40.7h0M380.8 31.8h0M380.3 39.9h0M383.7 26.3h0M383.3 29.5h0M303.9 73.6h0M303.9 71.1h0M280.3 76.2h0M280.3 71.4h0"/><path id="d199" d="M305.8 82.9h0M307.3 80.6h0M313.6 86.6h0M316.4 81.7h0M316 87.1h0M322.1 89h0M323.8 87h0M329.2 85.6h0M331.6 85.5h0M334.5 81.6h0M340.7 81.3h0M342.4 75.7h0M342.7 78h0M345.8 74.8h0M352.1 70.4h0M353.4 70.6h0M359.1 65h0M362.4 62.2h0M362.6 64.4h0M378.9 48.5h0M303.9 83.6h0M303.9 81.1h0M303.9 76.1h0M280.3 93h0"/><path id="d200" d="M304.8 88.3h0M313.8 88.4h0M326.9 91h0M335.3 88.2h0M341.3 86.2h0M343.9 80.1h0M343 83.1h0M348.1 78.6h0M349 81.6h0M354.4 74.8h0M375.9 59h0M378.1 54h0M389.3 42.6h0M392.5 37.6h0M395 33.2h0M280.3 102.6h0M280.3 100.2h0"/><path id="d201" d="M305.8 97.3h0M310.3 94.9h0M319.5 97.1h0M321.7 97.5h0M324.8 100h0M329.2 94.3h0M328.9 99.2h0M333 92.4h0M332.6 96.7h0M337.9 89.2h0M343.2 86.3h0M343.3 91h0M349.4 85.8h0M351.3 81.5h0M351.8 84.2h0M354.1 83.5h0M359.8 74.9h0M362.7 70.9h0M362.7 75.7h0M369.5 69.7h0M373.4 64.7h0M375 65.2h0M384.6 57.1h0M385.6 53.2h0M396.4 40.2h0M400.1 30.1h0M399.2 32.6h0M303.9 98.6h0M280.3 114.6h0M280.3 109.8h0"/><path id="d202" d="M305.4 102.8h0M307.5 105.8h0M322.2 101.8h0M335.4 97.1h0M340.9 93.6h0M346.8 92h0M354.8 87.1h0M359.7 81.7h0M362.8 78.1h0M365.4 75.1h0M365.5 78.3h0M367 73.1h0M370.6 73h0M373.6 70.8h0M378.2 65.4h0M383.6 62.8h0M389.4 51.8h0M392.3 47.7h0M391.7 53.1h0M396.9 43.5h0M397.5 45.9h0M400 38.6h0M400.5 43.5h0M403 38h0M280.3 119.4h0M280.3 117h0M280.3 177.1h0"/><path id="d203" d="M305.5 110.8h0M311.1 107.4h0M312.9 108.1h0M322.1 107.4h0M322 111.1h0M327.4 107h0M329.7 106.1h0M334.9 102.8h0M334.4 105.9h0M338 99.3h0M340.4 101.8h0M345.7 99.5h0M348.2 94.7h0M358.7 88.4h0M362.8 83.2h0M365.3 80.5h0M372.4 74.7h0M375 73.3h0M378.1 70.7h0M377.9 73h0M391.5 59.7h0M395.2 57.4h0M399.7 45.9h0M411.3 33.2h0M303.9 111.1h0M303.9 108.6h0M303.9 177.1h0"/><path id="d204" d="M305.4 114.1h0M305.9 115.3h0M306 121.1h0M308.2 113.9h0M314.3 118.1h0M316.5 114.1h0M316.6 116.9h0M321.3 113.4h0M326.3 111.4h0M326.2 115.5h0M330.3 112.6h0M332.9 110.9h0M335.3 107.3h0M340.8 105.5h0M353.2 96.6h0M356.7 94.5h0M360.3 92.3h0M362.3 89.5h0M364.6 86.2h0M372.2 80.6h0M372.8 82.9h0M376.2 75.4h0M378.5 78.5h0M380.7 73.5h0M386.9 67.1h0M389.7 64.3h0M388.3 66.9h0M391.7 66.9h0M400.4 57.5h0M400.5 60h0M404.8 51.3h0M405.1 53.5h0M408.7 42.5h0M407.5 47.6h0M410.7 39.8h0M410.6 45.5h0M413.2 34.3h0M413.3 37.9h0M303.9 121.1h0M280.3 162.6h0M280.3 157.8h0M280.3 155.4h0"/><path id="d205" d="M305.2 123.6h0M307.3 124.4h0M316.6 118.4h0M331.9 116.5h0M337 113.1h0M342.5 110.5h0M348.1 107.4h0M350.9 106h0M375.1 85.8h0M377.7 84.1h0M389.4 73.4h0M391.1 70.6h0M401.7 62h0M405.4 57.2h0M408.2 57.4h0M412.9 49.3h0M415.5 41.1h0M415.4 48.9h0M419 42.8h0M303.9 128.6h0M303.9 126.1h0M318.3 177.1h0"/><path id="d206" d="M305.9 137.4h0M308 132.8h0M315.5 123.9h0M321.8 123.5h0M324.5 121.7h0M327.8 121.5h0M329.7 122.1h0M332.6 119.2h0M332.1 120.5h0M334.9 118.2h0M341.3 112.7h0M343.2 112.5h0M357.1 102.1h0M360.1 100.4h0M361.7 97.8h0M361.9 99.1h0M364.8 94.2h0M366.9 95.2h0M370.5 91h0M369.7 93.9h0M377.4 86h0M383.7 80.3h0M389 75.5h0M399.3 69.6h0M401.8 67.1h0M404.6 64.2h0M407.4 64.7h0M411.3 57.2h0M410.6 63.8h0M412.7 59.7h0M416.4 50.7h0M418.2 48.7h0M418 51.3h0M419.6 53.7h0M422.4 48.8h0M424.4 49.1h0M303.9 138.6h0M303.9 136.1h0M320.7 177.1h0M323.1 177.1h0"/><path id="d207" d="M304.7 143.4h0M305.2 148.9h0M329.9 123.2h0M337.6 118.6h0M341 118.6h0M344.1 116.8h0M347.8 113.9h0M352 110.1h0M354.7 107.7h0M359.6 105.9h0M364.9 102.1h0M367 100.1h0M369.5 97.1h0M395.4 75.1h0M394.9 79h0M396.7 74.7h0M414 65.5h0M416.2 58.7h0M418.2 59.9h0M421.5 56.4h0M424.7 56.4h0M426.2 51.2h0M427.5 53.6h0M429.4 47.9h0M312 132.8h0M327.9 177.1h0"/><path id="d208" d="M305.7 153.1h0M305.6 161.2h0M304.8 163.6h0M324.9 135.3h0M326.3 133h0M332.9 126h0M337.8 124.9h0M342.8 120.7h0M345.7 118.9h0M349 118.7h0M353.3 116.3h0M357.3 111.4h0M358.9 108.6h0M367.5 102.9h0M368.4 104.9h0M373.3 97.8h0M372.4 99.5h0M372.1 101.7h0M378.5 96.7h0M381.8 93.7h0M386 88.4h0M397.1 81.1h0M400.5 78.5h0M399.1 80.2h0M410 75.3h0M413.6 73h0M420.6 66.5h0M424.7 59.5h0M426.3 59.4h0M431.6 54.4h0M435.3 57.3h0M303.9 163.6h0M303.9 161.1h0M303.9 158.6h0M303.9 156.1h0M332.7 177.1h0M335.1 177.1h0"/><path id="d209" d="M312.6 158.5h0M330.3 133.1h0M338.5 127.6h0M338.1 128.7h0M346.2 121.9h0M352 118h0M354.5 118.6h0M359.8 114.1h0M362.4 111.1h0M364.6 109.8h0M368.3 107.4h0M375.3 100.7h0M383.3 98h0M391.6 91.6h0M402.7 83.3h0M402.3 86.6h0M415.3 73.2h0M418.4 71.9h0M419 75.1h0M421.1 70.4h0M424 67.6h0M427.7 64.4h0M429.9 67.1h0M432.1 63.9h0M435.7 59.4h0M435.8 62.6h0M435.3 63.8h0M309 159h0M313.6 154.5h0M339.9 177.1h0"/><path id="d210" d="M325.1 142.9h0M329.8 140.9h0M337.3 134.1h0M343.8 129.1h0M346 126.6h0M349.4 124.4h0M348.1 126.2h0M354.6 124h0M364.3 116.3h0M367 111.5h0M371 108h0M375.6 106h0M377.6 105.6h0M377.8 107.2h0M381.4 105.1h0M386.9 99.8h0M395 91.2h0M400.3 88.7h0M406 88.5h0M408.9 83.4h0M412.7 81.2h0M416.1 78.4h0M423.7 73.1h0M427.7 71h0M437.4 65.1h0M437.1 67.2h0M320.4 147.7h0M329.5 138.6h0M342.3 177.1h0"/><path id="d211" d="M331.7 142.2h0M334.9 140.1h0M343 132.7h0M343.7 135h0M343.8 137.5h0M345.8 130.2h0M353.6 127.2h0M357.5 123.8h0M362.8 120.5h0M365.2 119.2h0M367.5 118.2h0M372.6 114h0M372.4 115.6h0M375 110.9h0M387.1 103.2h0M389.4 101.8h0M407.3 89.7h0M412.6 87h0M419 86.6h0M421.9 83.6h0M423.9 77.9h0M429.8 76h0M432.8 75h0M435.4 69.7h0M318 163.6h0M347.1 177.1h0M349.5 177.1h0"/><path id="d212" d="M338.2 143.3h0M349.2 132.7h0M348.9 137.6h0M354.5 131.7h0M357.5 129.3h0M378.2 114h0M381.6 111.4h0M382.9 113.6h0M385.6 109.9h0M394.1 104.6h0M403.3 100h0M408.4 97.8h0M414.1 91.8h0M412.7 94.3h0M419.2 89.2h0M421.3 86.8h0M421.4 88.4h0M429.1 80.8h0M431.6 79.1h0M431.4 81.2h0M435.1 78h0M323.6 158.4h0M326.3 155.7h0M331.9 150.5h0"/><path id="d213" d="M342.6 148.5h0M348.6 140.3h0M347.8 145.1h0M351.1 138.3h0M352 140.4h0M354.3 134.9h0M353.4 139.9h0M364 128.7h0M366.9 126.5h0M366.7 128.7h0M371 124.5h0M376.2 121.4h0M380.4 119.3h0M383.8 115.3h0M386.7 112.6h0M399.9 105.1h0M399.2 108.1h0M405.2 102.9h0M411 99.6h0M414.1 100.1h0M419.5 97.1h0M421.5 92.1h0M423.4 89.3h0M426.5 89h0M434.4 84.1h0M438.3 78.7h0"/><path id="d214" d="M349 148.2h0M351.7 148.5h0M350.9 151.2h0M358.6 140.9h0M358.5 142.9h0M362.8 137.6h0M361.7 139.5h0M366.8 131.3h0M370.4 131.4h0M378.1 123.6h0M384.2 121.6h0M387.1 121h0M388.8 118h0M392.4 116.3h0M394.7 115.9h0M399 110h0M399.3 113.3h0M405 107.5h0M408.8 105.2h0M408.4 107.9h0M411.4 104.3h0M412.7 102.2h0M422 96.7h0M424.7 94.1h0M426.4 95.2h0M426.2 97.5h0M432.8 91h0M435.4 89h0M437.8 84.4h0"/><path id="d215" d="M345.9 159h0M348.3 156.4h0M351.1 156.8h0M351.6 162.6h0M353.8 159.4h0M358.8 148.1h0M359.1 150.4h0M361.7 143.8h0M361.2 151.8h0M364.8 140.6h0M364 149.1h0M374.9 130.4h0M375.9 134.6h0M397.9 116.5h0M396.3 118.4h0M400.6 116.1h0M402 112.8h0M405.4 113.1h0M411.4 110.1h0M412.8 110.6h0M415.3 106h0M415.8 108.5h0M418.7 108.1h0M421.4 102.4h0M426.4 100.6h0M433.1 94.8h0M437.5 89.5h0M443.3 91.2h0M363.9 177.1h0"/><path id="d216" d="M356.8 161.2h0M359 159.9h0M359.7 163.6h0M362.8 153.2h0M364.7 156.1h0M368.1 154.3h0M373.8 145.5h0M372.4 150.3h0M374.9 140h0M374.9 145.5h0M380.8 131.4h0M380.1 134.7h0M381 137.2h0M384.2 129.2h0M389.6 128.8h0M391.6 124.8h0M395.1 122.2h0M393.7 126.9h0M400.3 118.9h0M403.3 118.8h0M405 116.5h0M408.5 115.3h0M410 116h0M419.2 110.2h0M421.8 108h0M427.5 106h0M427.1 108h0M430.4 102h0M438.6 97.2h0M440.7 97.6h0M442.6 93.7h0M368.7 177.1h0"/><path id="d217" d="M364.9 162.5h0M365.3 163.6h0M368.2 161.2h0M367.5 163.6h0M378.7 145h0M381.3 139.4h0M380.4 142.8h0M384.4 141.1h0M385.8 136.8h0M389.7 135.3h0M395.3 130.2h0M394.1 132.1h0M397.1 128.7h0M403.5 121.1h0M401.8 124.9h0M406.1 121.1h0M408.5 121.6h0M411.3 118.5h0M412.6 119.2h0M427.1 110.3h0M430.3 107.1h0M434.8 104.8h0M438.2 102.5h0M437 105.2h0M375.9 177.1h0"/><path id="d218" d="M373.7 159.7h0M373.6 162.2h0M373.5 163.6h0M377.8 156h0M381.7 150.7h0M385.8 149h0M394.2 134.2h0M399.9 132h0M402.7 129.6h0M407.8 125.9h0M410 121.8h0M425 115.7h0M437.4 110h0M440.8 105.7h0M380.7 177.1h0"/><path id="d219" d="M376 163.6h0M380.8 162.4h0M383.9 157.1h0M387 150.4h0M389.7 150.8h0M389.9 153.1h0M391.3 148.6h0M397.7 137.3h0M396.5 140.2h0M397.9 143.2h0M403.4 131.7h0M405 131.4h0M410.6 127.2h0M432.6 116.4h0M438 114.2h0"/><path id="d220" d="M381.6 163.6h0M383.9 161.1h0M386.2 162.8h0M389.7 156.5h0M394.4 153.2h0M396.8 145.7h0M396.9 149.1h0M397 150.3h0M400.7 140.7h0M400.5 143.6h0M399.8 146.5h0M407.9 132.6h0M410.9 132.1h0M418.3 126.6h0M422 123.9h0M426.8 123.2h0M430.3 120.5h0M429.2 123.7h0M432 118.9h0M438 119.6h0M387.9 177.1h0M390.3 177.1h0"/><path id="d221" d="M387.3 163.6h0M388.9 162.5h0M392 158.7h0M395 157.1h0M394.6 158.5h0M397.1 156.6h0M402.6 143.7h0M406 145.1h0M408.1 138.2h0M413.6 132.6h0M412.6 134.3h0M416.4 129.9h0M428.8 126.8h0M432.8 126.1h0M440.1 119.4h0M392.7 177.1h0M395.1 177.1h0"/><path id="d222" d="M398 161.8h0M400.2 154.1h0M400.7 156.8h0M403.4 150.5h0M402.3 153.4h0M405.4 147.9h0M414.1 138.2h0M416.7 137.2h0M421.7 132h0M429.3 130.2h0M432.9 128.6h0M438.5 126.7h0M440.8 123.5h0M397.5 177.1h0"/><path id="d223" d="M400.4 162.2h0M408.7 151h0M410.4 148.3h0"/><path id="d224" d="M405.8 157.3h0M413.8 148.4h0M416.4 145.1h0M418.3 145.3h0M423.9 143.2h0M426.8 141.1h0M430 140.7h0M407.1 177.1h0"/><path id="d225" d="M410.9 158.5h0M414 153.9h0M427.3 142.6h0M430.3 145h0M431.6 140.9h0"/><path id="d226" d="M419.1 154.2h0M418.9 156.2h0M423.4 150.3h0M427 148.7h0M411.9 177.1h0"/><path id="d227" d="M414.1 161.4h0M415.5 162.2h0M418.2 159.5h0M421.8 156.3h0M423.5 153.8h0M423.7 156h0M427.4 153.5h0M429.3 152.9h0"/><path id="d228" d="M418.3 161.7h0M421 161.6h0M427 156.9h0M429.1 157.1h0"/><path id="d229" d="M421.2 163.6h0M423.7 162.7h0M427.5 162.7h0"/></defs>
<g stroke-width="5.3" stroke-linecap="round" fill="none"><use href="#d118" stroke="#123a69"/><use href="#d119" stroke="#18487b"/><use href="#d120" stroke="#1f558d"/><use href="#d121" stroke="#2662a0"/><use href="#d122" stroke="#2d6fb1"/><use href="#d123" stroke="#357ab6"/><use href="#d124" stroke="#3d85bc"/><use href="#d125" stroke="#4690c2"/><use href="#d126" stroke="#509bc7"/><use href="#d127" stroke="#63a7ce"/><use href="#d128" stroke="#77b3d4"/><use href="#d129" stroke="#8abfdb"/><use href="#d130" stroke="#9ccae1"/><use href="#d131" stroke="#abd2e5"/><use href="#d132" stroke="#bbdaea"/><use href="#d133" stroke="#cae2ee"/><use href="#d134" stroke="#d7e8f1"/><use href="#d135" stroke="#e0ecf3"/><use href="#d136" stroke="#eaf1f5"/><use href="#d137" stroke="#f3f5f7"/><use href="#d138" stroke="#f8f4f2"/><use href="#d139" stroke="#faede6"/><use href="#d140" stroke="#fbe6da"/><use href="#d141" stroke="#fde0ce"/><use href="#d142" stroke="#fcd5c0"/><use href="#d143" stroke="#fac8af"/><use href="#d144" stroke="#f7bb9e"/><use href="#d145" stroke="#f5ad8d"/><use href="#d146" stroke="#ef9e7f"/><use href="#d147" stroke="#e88d72"/><use href="#d148" stroke="#e17c65"/><use href="#d149" stroke="#da6b58"/><use href="#d150" stroke="#d15a4f"/><use href="#d151" stroke="#c84847"/><use href="#d152" stroke="#bf373f"/><use href="#d153" stroke="#b72536"/><use href="#d154" stroke="#a51e33"/><use href="#d155" stroke="#931830"/></g>
<g stroke="#fff" stroke-opacity="0.55" stroke-width="6.0" stroke-linecap="round" fill="none"><use href="#d156"/><use href="#d157"/><use href="#d158"/><use href="#d159"/><use href="#d160"/><use href="#d161"/><use href="#d162"/><use href="#d163"/><use href="#d164"/><use href="#d165"/><use href="#d166"/><use href="#d167"/><use href="#d168"/><use href="#d169"/><use href="#d170"/><use href="#d171"/><use href="#d172"/><use href="#d173"/><use href="#d174"/><use href="#d175"/><use href="#d176"/><use href="#d177"/><use href="#d178"/><use href="#d179"/><use href="#d180"/><use href="#d181"/><use href="#d182"/><use href="#d183"/><use href="#d184"/><use href="#d185"/><use href="#d186"/><use href="#d187"/><use href="#d188"/><use href="#d189"/><use href="#d190"/><use href="#d191"/><use href="#d192"/></g>
<g stroke-width="5.3" stroke-linecap="round" fill="none"><use href="#d156" stroke="#123a69"/><use href="#d157" stroke="#18487b"/><use href="#d158" stroke="#1f558d"/><use href="#d159" stroke="#2662a0"/><use href="#d160" stroke="#2d6fb1"/><use href="#d161" stroke="#357ab6"/><use href="#d162" stroke="#3d85bc"/><use href="#d163" stroke="#4690c2"/><use href="#d164" stroke="#509bc7"/><use href="#d165" stroke="#63a7ce"/><use href="#d166" stroke="#77b3d4"/><use href="#d167" stroke="#8abfdb"/><use href="#d168" stroke="#9ccae1"/><use href="#d169" stroke="#abd2e5"/><use href="#d170" stroke="#bbdaea"/><use href="#d171" stroke="#cae2ee"/><use href="#d172" stroke="#d7e8f1"/><use href="#d173" stroke="#e0ecf3"/><use href="#d174" stroke="#eaf1f5"/><use href="#d175" stroke="#f3f5f7"/><use href="#d176" stroke="#f8f4f2"/><use href="#d177" stroke="#faede6"/><use href="#d178" stroke="#fbe6da"/><use href="#d179" stroke="#fde0ce"/><use href="#d180" stroke="#fcd5c0"/><use href="#d181" stroke="#fac8af"/><use href="#d182" stroke="#f7bb9e"/><use href="#d183" stroke="#f5ad8d"/><use href="#d184" stroke="#ef9e7f"/><use href="#d185" stroke="#e88d72"/><use href="#d186" stroke="#e17c65"/><use href="#d187" stroke="#da6b58"/><use href="#d188" stroke="#d15a4f"/><use href="#d189" stroke="#c84847"/><use href="#d190" stroke="#bf373f"/><use href="#d191" stroke="#b72536"/><use href="#d192" stroke="#a51e33"/></g>
<g stroke="#fff" stroke-opacity="0.55" stroke-width="6.0" stroke-linecap="round" fill="none"><use href="#d193"/><use href="#d194"/><use href="#d195"/><use href="#d196"/><use href="#d197"/><use href="#d198"/><use href="#d199"/><use href="#d200"/><use href="#d201"/><use href="#d202"/><use href="#d203"/><use href="#d204"/><use href="#d205"/><use href="#d206"/><use href="#d207"/><use href="#d208"/><use href="#d209"/><use href="#d210"/><use href="#d211"/><use href="#d212"/><use href="#d213"/><use href="#d214"/><use href="#d215"/><use href="#d216"/><use href="#d217"/><use href="#d218"/><use href="#d219"/><use href="#d220"/><use href="#d221"/><use href="#d222"/><use href="#d223"/><use href="#d224"/><use href="#d225"/><use href="#d226"/><use href="#d227"/><use href="#d228"/><use href="#d229"/></g>
<g stroke-width="5.3" stroke-linecap="round" fill="none"><use href="#d193" stroke="#123a69"/><use href="#d194" stroke="#18487b"/><use href="#d195" stroke="#1f558d"/><use href="#d196" stroke="#2662a0"/><use href="#d197" stroke="#2d6fb1"/><use href="#d198" stroke="#357ab6"/><use href="#d199" stroke="#3d85bc"/><use href="#d200" stroke="#4690c2"/><use href="#d201" stroke="#509bc7"/><use href="#d202" stroke="#63a7ce"/><use href="#d203" stroke="#77b3d4"/><use href="#d204" stroke="#8abfdb"/><use href="#d205" stroke="#9ccae1"/><use href="#d206" stroke="#abd2e5"/><use href="#d207" stroke="#bbdaea"/><use href="#d208" stroke="#cae2ee"/><use href="#d209" stroke="#d7e8f1"/><use href="#d210" stroke="#e0ecf3"/><use href="#d211" stroke="#eaf1f5"/><use href="#d212" stroke="#f3f5f7"/><use href="#d213" stroke="#f8f4f2"/><use href="#d214" stroke="#faede6"/><use href="#d215" stroke="#fbe6da"/><use href="#d216" stroke="#fde0ce"/><use href="#d217" stroke="#fcd5c0"/><use href="#d218" stroke="#fac8af"/><use href="#d219" stroke="#f7bb9e"/><use href="#d220" stroke="#f5ad8d"/><use href="#d221" stroke="#ef9e7f"/><use href="#d222" stroke="#e88d72"/><use href="#d223" stroke="#e17c65"/><use href="#d224" stroke="#da6b58"/><use href="#d225" stroke="#d15a4f"/><use href="#d226" stroke="#c84847"/><use href="#d227" stroke="#bf373f"/><use href="#d228" stroke="#b72536"/><use href="#d229" stroke="#a51e33"/></g>
</g>
<g clip-path="url(#clipB)" fill="none" stroke="#231f20" stroke-width="1">
<path d="M279 39.1 C279.27 39.1 278.42 39.38 280.6 39.1 C282.78 38.82 289 37.1 292.1 37.4 C295.2 37.7 297.13 38.98 299.2 40.9 C301.27 42.82 302.73 45.82 304.5 48.9 C306.27 51.98 308.18 55.58 309.8 59.4 C311.42 63.22 313.17 67.38 314.2 71.8 C315.23 76.22 315.85 81.18 316 85.9 C316.15 90.62 315.1 95.08 315.1 100.1 C315.1 105.12 315.48 111 316 116 C316.52 121 318.2 125.7 318.2 130.1 C318.2 134.5 317.4 138.87 316 142.4 C314.6 145.93 312.02 148.35 309.8 151.3 C307.58 154.25 304.77 157.62 302.7 160.1 C300.63 162.58 299.02 164.87 297.4 166.2 C295.78 167.53 294.47 168.08 293 168.1 C291.53 168.12 290.07 166.8 288.6 166.3 C287.13 165.8 285.8 165.3 284.2 165.1 C282.6 164.9 279.87 165.1 279 165.1"/>
<path d="M279 182.2 C279.27 182.2 279.3 182.5 280.6 182.2 C281.9 181.9 284.9 181.27 286.8 180.4 C288.7 179.53 290.72 177.57 292 177 C293.28 176.43 293.3 176.72 294.5 177 C295.7 177.28 297.23 177.53 299.2 178.7 C301.17 179.87 303.35 182.38 306.3 184 C309.25 185.62 311.9 187.38 316.9 188.4 C321.9 189.42 330.78 189.95 336.3 190.1 C341.82 190.25 345.37 189.58 350 189.3 C354.63 189.02 358.8 188.98 364.1 188.4 C369.4 187.82 376.2 187.12 381.8 185.8 C387.4 184.48 392.98 182.72 397.7 180.5 C402.42 178.28 406.27 175.6 410.1 172.5 C413.93 169.4 417.47 166.6 420.7 161.9 C423.93 157.2 426.85 150.77 429.5 144.3 C432.15 137.83 434.53 129 436.6 123.1 C438.67 117.2 440.43 113.62 441.9 108.9 C443.37 104.18 444.72 98.28 445.4 94.8 C446.08 91.32 446 90.35 446 88 C446 85.65 445.65 84.87 445.4 80.7 C445.15 76.53 445.23 69.48 444.5 63 C443.77 56.52 442.62 47.68 441 41.8 C439.38 35.92 437.6 31.53 434.8 27.7 C432 23.87 429.05 21.2 424.2 18.8 C419.35 16.4 409.73 14.43 405.7 13.3 C401.67 12.17 400.95 12.22 400 12"/>
<path d="M341.6 29.4 C344.18 28.23 345.65 28.58 350 27.7 C354.35 26.82 361.82 24.98 367.7 24.1 C373.58 23.22 379.42 22.53 385.3 22.4 C391.18 22.27 397.7 22.42 403 23.3 C408.3 24.18 413.27 25.8 417.1 27.7 C420.93 29.6 423.63 31.77 426 34.7 C428.37 37.63 429.98 40.58 431.3 45.3 C432.62 50.02 433.62 55.63 433.9 63 C434.18 70.37 434.03 81.25 433 89.5 C431.97 97.75 429.75 105.73 427.7 112.5 C425.65 119.27 423.63 124.8 420.7 130.1 C417.77 135.4 413.93 140.77 410.1 144.3 C406.27 147.83 401.83 149.83 397.7 151.3 C393.57 152.77 389.13 153.38 385.3 153.1 C381.47 152.82 377.93 151.67 374.7 149.6 C371.47 147.53 368.1 144.83 365.9 140.7 C363.7 136.57 362.53 131.87 361.5 124.8 C360.47 117.73 360.43 105.07 359.7 98.3 C358.97 91.53 358.8 88.67 357.1 84.2 C355.4 79.73 352.68 75.03 349.5 71.5 C346.32 67.97 340.8 66.18 338 63 C335.2 59.82 333.72 55.63 332.7 52.4 C331.68 49.17 331.6 46.55 331.9 43.6 C332.2 40.65 332.88 37.07 334.5 34.7Z"/>
<path d="M373 34.7 C375.5 32.78 380.3 31.18 385.3 30.3 C390.3 29.42 397.7 28.95 403 29.4 C408.3 29.85 413.57 31.23 417.1 33 C420.63 34.77 422.43 36.47 424.2 40 C425.97 43.53 427.12 48.9 427.7 54.2 C428.28 59.5 428.28 65.92 427.7 71.8 C427.12 77.68 425.97 83.6 424.2 89.5 C422.43 95.4 420.05 101.9 417.1 107.2 C414.15 112.5 410.32 117.62 406.5 121.3 C402.68 124.98 397.73 128.12 394.2 129.3 C390.67 130.48 387.67 130.03 385.3 128.4 C382.93 126.77 381.32 124.52 380 119.5 C378.68 114.48 378.28 104.77 377.4 98.3 C376.52 91.83 376.03 86.28 374.7 80.7 C373.37 75.12 370.42 69.82 369.4 64.8 C368.38 59.78 368.45 54.43 368.6 50.6 C368.75 46.77 369.57 44.45 370.3 41.8Z"/>
<path d="M392.4 39.2 C395.27 37.88 399.47 37.12 403 37.4 C406.53 37.68 410.65 38.98 413.6 40.9 C416.55 42.82 419.23 45.52 420.7 48.9 C422.17 52.28 422.55 57.08 422.4 61.2 C422.25 65.32 421.27 69.47 419.8 73.6 C418.33 77.73 415.82 82.77 413.6 86 C411.38 89.23 408.27 91.68 406.5 93 C404.73 94.32 404.17 94.18 403 93.9 C401.83 93.62 400.97 93.5 399.5 91.3 C398.03 89.1 396.12 84.83 394.2 80.7 C392.28 76.57 389.62 70.92 388 66.5 C386.38 62.08 384.87 57.73 384.5 54.2 C384.13 50.67 384.48 47.8 385.8 45.3Z"/>
</g>
<linearGradient id="cbB" x1="0" x2="1" y1="0" y2="0"><stop offset="0.0" stop-color="#053061"/><stop offset="0.1" stop-color="#2166ac"/><stop offset="0.2" stop-color="#4393c3"/><stop offset="0.3" stop-color="#92c5de"/><stop offset="0.4" stop-color="#d1e5f0"/><stop offset="0.5" stop-color="#f7f7f7"/><stop offset="0.6" stop-color="#fddbc7"/><stop offset="0.7" stop-color="#f4a582"/><stop offset="0.8" stop-color="#d6604d"/><stop offset="0.9" stop-color="#b2182b"/><stop offset="1.0" stop-color="#67001f"/></linearGradient>
<rect x="300.8" y="275.1" width="124.1" height="4.3" fill="url(#cbB)" stroke="#9a9a9a" stroke-width="0.5"/>
<line x1="300.8" y1="279.4" x2="300.8" y2="281.7" stroke="#808080" stroke-width="0.8"/>
<text transform="translate(305.1,292.4) rotate(-45)" font-size="10.4" text-anchor="end" fill="#231f20">−0.005</text>
<line x1="362.85" y1="279.4" x2="362.85" y2="281.7" stroke="#808080" stroke-width="0.8"/>
<text transform="translate(367.15,292.4) rotate(-45)" font-size="10.4" text-anchor="end" fill="#231f20">0</text>
<line x1="424.9" y1="279.4" x2="424.9" y2="281.7" stroke="#808080" stroke-width="0.8"/>
<text transform="translate(429.2,292.4) rotate(-45)" font-size="10.4" text-anchor="end" fill="#231f20">0.013</text>
<text x="283.8" y="264.3" font-size="10.4" fill="#231f20">Fraction (Ki67 &gt; threshold) – mean</text>
<line x1="515.3" y1="17.2" x2="515.3" y2="198.8" stroke="#555555" stroke-width="1.1"/>
<line x1="511.8" y1="198.8" x2="515.3" y2="198.8" stroke="#808080" stroke-width="0.9"/>
<text x="507.8" y="202.6" font-size="10.5" text-anchor="end" fill="#231f20">0</text>
<line x1="511.8" y1="176.1" x2="515.3" y2="176.1" stroke="#808080" stroke-width="0.9"/>
<text x="507.8" y="179.9" font-size="10.5" text-anchor="end" fill="#231f20">1</text>
<line x1="511.8" y1="153.4" x2="515.3" y2="153.4" stroke="#808080" stroke-width="0.9"/>
<text x="507.8" y="157.2" font-size="10.5" text-anchor="end" fill="#231f20">2</text>
<line x1="511.8" y1="130.7" x2="515.3" y2="130.7" stroke="#808080" stroke-width="0.9"/>
<text x="507.8" y="134.5" font-size="10.5" text-anchor="end" fill="#231f20">3</text>
<line x1="511.8" y1="108" x2="515.3" y2="108" stroke="#808080" stroke-width="0.9"/>
<text x="507.8" y="111.8" font-size="10.5" text-anchor="end" fill="#231f20">4</text>
<line x1="511.8" y1="85.3" x2="515.3" y2="85.3" stroke="#808080" stroke-width="0.9"/>
<text x="507.8" y="89.1" font-size="10.5" text-anchor="end" fill="#231f20">5</text>
<line x1="511.8" y1="62.6" x2="515.3" y2="62.6" stroke="#808080" stroke-width="0.9"/>
<text x="507.8" y="66.4" font-size="10.5" text-anchor="end" fill="#231f20">6</text>
<line x1="511.8" y1="39.9" x2="515.3" y2="39.9" stroke="#808080" stroke-width="0.9"/>
<text x="507.8" y="43.7" font-size="10.5" text-anchor="end" fill="#231f20">7</text>
<line x1="511.8" y1="17.2" x2="515.3" y2="17.2" stroke="#808080" stroke-width="0.9"/>
<text x="507.8" y="21" font-size="10.5" text-anchor="end" fill="#231f20">8</text>
<line x1="515.3" y1="198.8" x2="678.6" y2="198.8" stroke="#555555" stroke-width="1.1"/>
<line x1="515.3" y1="198.8" x2="515.3" y2="202.3" stroke="#808080" stroke-width="0.9"/>
<text x="515.3" y="214.7" font-size="10.5" text-anchor="middle" fill="#231f20">0</text>
<line x1="560.7" y1="198.8" x2="560.7" y2="202.3" stroke="#808080" stroke-width="0.9"/>
<text x="560.7" y="214.7" font-size="10.5" text-anchor="middle" fill="#231f20">2</text>
<line x1="606.1" y1="198.8" x2="606.1" y2="202.3" stroke="#808080" stroke-width="0.9"/>
<text x="606.1" y="214.7" font-size="10.5" text-anchor="middle" fill="#231f20">4</text>
<line x1="651.5" y1="198.8" x2="651.5" y2="202.3" stroke="#808080" stroke-width="0.9"/>
<text x="651.5" y="214.7" font-size="10.5" text-anchor="middle" fill="#231f20">6</text>
<text x="596.3" y="231.7" font-size="10.5" text-anchor="middle" fill="#231f20">T cell density</text>
<text x="596.3" y="243.5" font-size="10.5" text-anchor="middle" fill="#231f20">(log<tspan dy="3" font-size="7.4">2</tspan><tspan dy="-3"> number of cells)</tspan></text>
<g transform="translate(478.1,107.2) rotate(-90)"><text x="0" y="0" font-size="10.5" text-anchor="middle" fill="#231f20">B cell density</text><text x="0" y="11.3" font-size="10.5" text-anchor="middle" fill="#231f20">(log<tspan dy="3" font-size="7.4">2</tspan><tspan dy="-3"> number of cells)</tspan></text></g>
<path d="M524.5 17.2 C524.47 21.47 524.42 37.43 524.3 42.8 C524.18 48.17 524.43 46.1 523.8 49.4 C523.17 52.7 521.6 57.57 520.5 62.6 C519.4 67.63 517.9 75.88 517.2 79.6 C516.5 83.32 516.45 84.02 516.3 84.9" fill="none" stroke="#231f20" stroke-width="0.85"/>
<path d="M533.7 17.2 C533.7 21.47 533.93 37.43 533.7 42.8 C533.47 48.17 532.75 47.87 532.3 49.4 C531.85 50.93 531.22 51.57 531 52" fill="none" stroke="#231f20" stroke-width="0.85"/>
<path d="M543.1 17.2 C543.1 20.38 543.25 31.37 543.1 36.3 C542.95 41.23 543.02 43.73 542.2 46.8 C541.38 49.87 539.52 52.52 538.2 54.7 C536.88 56.88 534.95 59.03 534.3 59.9" fill="none" stroke="#231f20" stroke-width="0.85"/>
<path d="M552.3 17.2 C552.3 20.38 552.57 31.37 552.3 36.3 C552.03 41.23 551.83 43.73 550.7 46.8 C549.57 49.87 547.25 52.5 545.5 54.7 C543.75 56.9 542.17 57.82 540.2 60 C538.23 62.18 536.1 64.95 533.7 67.8 C531.3 70.65 528 73.58 525.8 77.1 C523.6 80.62 521.93 84.08 520.5 88.9 C519.07 93.72 517.97 99.15 517.2 106 C516.43 112.85 516.12 126 515.9 130" fill="none" stroke="#231f20" stroke-width="0.85"/>
<path d="M561.9 17.2 C561.9 20.82 562.12 34.18 561.9 38.9 C561.68 43.62 561.25 43.53 560.6 45.5 C559.95 47.47 558.43 49.83 558 50.7" fill="none" stroke="#231f20" stroke-width="0.85"/>
<path d="M571.1 17.2 C571.1 20.38 571.22 31.8 571.1 36.3 C570.98 40.8 571.17 41.58 570.4 44.2 C569.63 46.82 568.68 49.38 566.5 52 C564.32 54.62 558.83 58.58 557.3 59.9" fill="none" stroke="#231f20" stroke-width="0.85"/>
<path d="M580.6 17.2 L580.6 41.5" fill="none" stroke="#231f20" stroke-width="0.85"/>
<path d="M589.9 17.2 C589.9 21.03 590.3 34.83 589.9 40.2 C589.5 45.57 588.88 46.88 587.5 49.4 C586.12 51.92 584.02 53.45 581.6 55.3 C579.18 57.15 577.7 57.75 573 60.5 C568.3 63.25 559.08 68.17 553.4 71.8 C547.72 75.43 541.32 80.55 538.9 82.3" fill="none" stroke="#231f20" stroke-width="0.85"/>
<path d="M599.2 17.2 L599.2 41.5" fill="none" stroke="#231f20" stroke-width="0.85"/>
<path d="M627.2 17.2 C627.2 21.47 627.63 37.43 627.2 42.8 C626.77 48.17 626.68 47.2 624.6 49.4 C622.52 51.6 618.8 53.57 614.7 56 C610.6 58.43 604.63 61.68 600 64 C595.37 66.32 592.05 67.65 586.9 69.9 C581.75 72.15 575.35 74.55 569.1 77.5 C562.85 80.45 554.87 84.62 549.4 87.6 C543.93 90.58 539.37 93.33 536.3 95.4 C533.23 97.47 533.3 96.82 531 100 C528.7 103.18 523.92 112.08 522.5 114.5" fill="none" stroke="#231f20" stroke-width="0.85"/>
<path d="M608.8 17.2 C608.8 21.03 609.23 35.05 608.8 40.2 C608.37 45.35 607.3 46.02 606.2 48.1 C605.1 50.18 602.87 51.93 602.2 52.7" fill="none" stroke="#231f20" stroke-width="0.85"/>
<path d="M618 17.2 L618 41.5" fill="none" stroke="#231f20" stroke-width="0.85"/>
<path d="M636.8 17.2 L636.8 41.5" fill="none" stroke="#231f20" stroke-width="0.85"/>
<path d="M646.2 17.2 C646.2 21.25 646.63 36.13 646.2 41.5 C645.77 46.87 644.58 47.32 643.6 49.4 C642.62 51.48 640.85 53.23 640.3 54" fill="none" stroke="#231f20" stroke-width="0.85"/>
<path d="M655.4 17.2 L655.4 41.5" fill="none" stroke="#231f20" stroke-width="0.85"/>
<path d="M673.8 28.4 C673.25 29.17 672.25 30.7 670.5 33 C668.75 35.3 664.5 40.67 663.3 42.2" fill="none" stroke="#231f20" stroke-width="0.85"/>
<path d="M673.8 49.2 C672.72 49.2 669.92 48.95 667.3 49.2 C664.68 49.45 660.62 49.78 658.1 50.7 C655.58 51.62 653.18 54.03 652.2 54.7" fill="none" stroke="#231f20" stroke-width="0.85"/>
<path d="M673.8 59.7 C670.97 59.8 662.27 59.93 656.8 60.3 C651.33 60.67 645.38 61.27 641 61.9 C636.62 62.53 632.25 63.73 630.5 64.1" fill="none" stroke="#231f20" stroke-width="0.85"/>
<path d="M673.8 70.4 C670.52 70.3 660 70.08 654.1 69.8 C648.2 69.52 643.22 68.7 638.4 68.7 C633.58 68.7 630.25 68.85 625.2 69.8 C620.15 70.75 613.13 72.87 608.1 74.4 C603.07 75.93 599.3 77.47 595 79 C590.7 80.53 587.7 81.3 582.3 83.6 C576.9 85.9 565.88 91.27 562.6 92.8" fill="none" stroke="#231f20" stroke-width="0.85"/>
<path d="M673.8 81 C672.27 81 667.67 81.12 664.6 81 C661.53 80.88 656.93 80.42 655.4 80.3" fill="none" stroke="#231f20" stroke-width="0.85"/>
<path d="M673.8 91.5 C671.83 91.5 665.28 91.95 662 91.5 C658.72 91.05 656.95 90.23 654.1 88.8 C651.25 87.37 646.43 83.88 644.9 82.9" fill="none" stroke="#231f20" stroke-width="0.85"/>
<path d="M636.9 123.5 C637.07 122.22 637.88 118.25 637.9 115.8 C637.92 113.35 638.02 111.35 637 108.8 C635.98 106.25 634.2 102.63 631.8 100.5 C629.4 98.37 626.23 96.75 622.6 96 C618.97 95.25 613.77 95.73 610 96 C606.23 96.27 604.83 96.35 600 97.6 C595.17 98.85 584.17 102.52 581 103.5" fill="none" stroke="#231f20" stroke-width="0.85"/>
<path d="M607.5 176.3 C609.22 173.58 615.22 164.55 617.8 160 C620.38 155.45 621.55 152.43 623 149 C624.45 145.57 625.62 142.47 626.5 139.4 C627.38 136.33 628.08 133.23 628.3 130.6 C628.52 127.97 628.68 126.22 627.8 123.6 C626.92 120.98 625.55 117.45 623 114.9 C620.45 112.35 615.85 109.47 612.5 108.3 C609.15 107.13 605.82 107.85 602.9 107.9 C599.98 107.95 600.63 107.38 595 108.6 C589.37 109.82 578.02 111.63 569.1 115.2 C560.18 118.77 548.07 125.92 541.5 130 C534.93 134.08 533.2 136.12 529.7 139.7 C526.2 143.28 522.03 149.53 520.5 151.5" fill="none" stroke="#231f20" stroke-width="0.85"/>
<path d="M618.2 144.7 C618.27 143.67 618.82 140.7 618.6 138.5 C618.38 136.3 618.2 133.83 616.9 131.5 C615.6 129.17 613.28 126.1 610.8 124.5 C608.32 122.9 604.63 122.27 602 121.9 C599.37 121.53 598.67 121.7 595 122.3 C591.33 122.9 584.97 124.18 580 125.5 C575.03 126.82 567.67 129.42 565.2 130.2" fill="none" stroke="#231f20" stroke-width="0.85"/>
<path d="M610.6 157.8 C610.63 156.63 611.07 153.13 610.8 150.8 C610.53 148.47 610.17 145.85 609 143.8 C607.83 141.75 606.13 139.67 603.8 138.5 C601.47 137.33 598.37 137.05 595 136.8 C591.63 136.55 587.47 136.42 583.6 137 C579.73 137.58 577.5 138.1 571.8 140.3 C566.1 142.5 555.75 147.02 549.4 150.2 C543.05 153.38 538.3 156.12 533.7 159.4 C529.1 162.68 523.78 168.15 521.8 169.9" fill="none" stroke="#231f20" stroke-width="0.85"/>
<path d="M602.9 147.7 C601.75 147.18 599.65 145.1 596 144.6 C592.35 144.1 583.5 144.68 581 144.7" fill="none" stroke="#231f20" stroke-width="0.85"/>
<path d="M604.2 168.6 C603.98 167.07 604.43 162.03 602.9 159.4 C601.37 156.77 597.35 154 595 152.8 C592.65 151.6 592.02 152.2 588.8 152.2 C585.58 152.2 579.2 152.28 575.7 152.8 C572.2 153.32 572.18 153.8 567.8 155.3 C563.42 156.8 555.08 159.4 549.4 161.8 C543.72 164.2 538.18 166.73 533.7 169.7 C529.22 172.67 524.37 177.95 522.5 179.6" fill="none" stroke="#231f20" stroke-width="0.85"/>
<path d="M556 132.4 C554.9 132.85 552.07 133.67 549.4 135.1 C546.73 136.53 543.28 138.7 540 141 C536.72 143.3 531.42 147.58 529.7 148.9" fill="none" stroke="#231f20" stroke-width="0.85"/>
<path d="M596.7 189.4 C596.92 187.65 598.43 181.75 598 178.9 C597.57 176.05 596.07 173.72 594.1 172.3 C592.13 170.88 589.27 170.62 586.2 170.4 C583.13 170.18 580.73 170.02 575.7 171 C570.67 171.98 562.57 174.33 556 176.3 C549.43 178.27 541.88 180.62 536.3 182.8 C530.72 184.98 524.8 188.3 522.5 189.4" fill="none" stroke="#231f20" stroke-width="0.85"/>
<path d="M592.8 184.8 C591.27 184.25 587.33 181.93 583.6 181.5 C579.87 181.07 577.08 181.1 570.4 182.2 C563.72 183.3 547.98 187.12 543.5 188.1" fill="none" stroke="#231f20" stroke-width="0.85"/>
<path d="M616 171.2 C617.47 169.33 622.9 162.53 624.8 160 C626.7 157.47 626.53 157.83 627.4 156 C628.27 154.17 628.53 152.2 630 149 C631.47 145.8 634.23 141.47 636.2 136.8 C638.17 132.13 640.87 123.63 641.8 121" fill="none" stroke="#231f20" stroke-width="0.85"/>
<path d="M608.8 187.4 C610.67 186 616.5 181.73 620 179 C623.5 176.27 626.52 174.17 629.8 171 C633.08 167.83 637.03 163.95 639.7 160 C642.37 156.05 643.98 150.95 645.8 147.3 C647.62 143.65 649.8 139.63 650.6 138.1" fill="none" stroke="#231f20" stroke-width="0.85"/>
<path d="M627.2 187.4 C628.3 186.97 631.33 186.37 633.8 184.8 C636.27 183.23 639.38 180.3 642 178 C644.62 175.7 648.25 172.17 649.5 171" fill="none" stroke="#231f20" stroke-width="0.85"/>
<path d="M673.8 187.8 L661.4 187.8" fill="none" stroke="#231f20" stroke-width="0.85"/>
<path d="M673.8 112.7 L658 113" fill="none" stroke="#231f20" stroke-width="0.85"/>
<path d="M515.5 17.2 L515.5 84" fill="none" stroke="#231f20" stroke-width="0.85"/>
<path d="M590 198.6 L520 198.6" fill="none" stroke="#231f20" stroke-width="0.85"/>
<path d="M523.57 52.49 L521.56 45.92 L526.54 46.3Z" fill="#231f20"/>
<path d="M533.7 29.5 L531.2 23.1 L536.2 23.1Z" fill="#231f20"/>
<path d="M543.1 39.4 L540.6 33 L545.6 33Z" fill="#231f20"/>
<path d="M531.72 70.18 L533.89 63.66 L537.73 66.87Z" fill="#231f20"/>
<path d="M561.9 29.5 L559.4 23.1 L564.4 23.1Z" fill="#231f20"/>
<path d="M571.1 39.4 L568.6 33 L573.6 33Z" fill="#231f20"/>
<path d="M580.6 29.5 L578.1 23.1 L583.1 23.1Z" fill="#231f20"/>
<path d="M579.41 57.49 L582.17 51.2 L585.7 54.73Z" fill="#231f20"/>
<path d="M599.2 29.5 L596.7 23.1 L601.7 23.1Z" fill="#231f20"/>
<path d="M584.07 71.17 L588.88 66.27 L590.94 70.82Z" fill="#231f20"/>
<path d="M608.8 29.5 L606.3 23.1 L611.3 23.1Z" fill="#231f20"/>
<path d="M618 29.5 L615.5 23.1 L620.5 23.1Z" fill="#231f20"/>
<path d="M636.8 29.5 L634.3 23.1 L639.3 23.1Z" fill="#231f20"/>
<path d="M646.2 29.5 L643.7 23.1 L648.7 23.1Z" fill="#231f20"/>
<path d="M655.4 29.5 L652.9 23.1 L657.9 23.1Z" fill="#231f20"/>
<path d="M668.69 35.52 L670.39 28.86 L674.45 31.78Z" fill="#231f20"/>
<path d="M664.2 49.2 L670.6 46.7 L670.6 51.7Z" fill="#231f20"/>
<path d="M653.7 60.41 L660.01 57.69 L660.19 62.68Z" fill="#231f20"/>
<path d="M618.24 71.67 L623.77 67.59 L625.07 72.42Z" fill="#231f20"/>
<path d="M661.5 81 L667.9 78.5 L667.9 83.5Z" fill="#231f20"/>
<path d="M658.9 91.5 L665.3 89 L665.3 94Z" fill="#231f20"/>
<path d="M619.82 94.64 L626.66 95.2 L624.47 99.7Z" fill="#231f20"/>
<path d="M599.8 107.77 L606.3 105.54 L606.09 110.54Z" fill="#231f20"/>
<path d="M599.03 121.02 L605.87 120.44 L604.46 125.23Z" fill="#231f20"/>
<path d="M568.81 141.13 L574.3 137 L575.65 141.82Z" fill="#231f20"/>
<path d="M591 144.63 L597.38 142.09 L597.42 147.09Z" fill="#231f20"/>
<path d="M564.84 156.24 L570.19 151.92 L571.7 156.69Z" fill="#231f20"/>
<path d="M546.53 136.27 L551.51 131.54 L553.4 136.16Z" fill="#231f20"/>
<path d="M572.61 171.18 L578.85 168.32 L579.14 173.31Z" fill="#231f20"/>
<path d="M567.3 182.36 L573.56 179.53 L573.83 184.52Z" fill="#231f20"/>
<path d="M629.08 153.42 L627.68 160.15 L623.49 157.43Z" fill="#231f20"/>
<path d="M632.2 169.04 L628.82 175.02 L625.66 171.15Z" fill="#231f20"/>
<path d="M636.68 183.66 L631.65 188.34 L629.81 183.68Z" fill="#231f20"/>
<path d="M661.5 112.93 L667.85 110.31 L667.94 115.31Z" fill="#231f20"/>
<path d="M515.5 40.1 L513 33.7 L518 33.7Z" fill="#231f20"/>
<path d="M575.2 198.6 L581.6 196.1 L581.6 201.1Z" fill="#231f20"/>
<circle cx="515.3" cy="198.6" r="5.2" fill="#231f20"/>
<circle cx="594.7" cy="198.4" r="4.9" fill="#fff" stroke="#231f20" stroke-width="0.9"/>
<circle cx="655.5" cy="198.6" r="4.7" fill="#fff" stroke="#231f20" stroke-width="0.9"/>
<path d="M655.6 197 C655.6 195.83 655.6 196.17 655.6 190 C655.6 183.83 655.73 168.33 655.6 160 C655.47 151.67 655.18 147 654.8 140 C654.42 133 653.93 124 653.3 118 C652.67 112 651.97 108 651 104 C650.03 100 649.08 96.83 647.5 94 C645.92 91.17 644.08 88.8 641.5 87 C638.92 85.2 635.42 83.87 632 83.2 C628.58 82.53 625.6 82.57 621 83 C616.4 83.43 610.4 84.55 604.4 85.8 C598.4 87.05 590.73 88.88 585 90.5 C579.27 92.12 575.5 93.33 570 95.5 C564.5 97.67 557.67 100.75 552 103.5 C546.33 106.25 540.33 109.08 536 112 C531.67 114.92 528.63 117.83 526 121 C523.37 124.17 521.55 127.5 520.2 131 C518.85 134.5 518.28 140.17 517.9 142" fill="none" stroke="#3272b7" stroke-width="6.4" stroke-linejoin="round"/>
<path d="M518.6 136 C518.43 138 517.83 143.17 517.6 148 C517.37 152.83 517.27 156.67 517.2 165 C517.13 173.33 517.2 192.5 517.2 198" fill="none" stroke="#3272b7" stroke-width="4.8"/>
<path d="M602.5 196.7 C608.75 196.68 630.92 196.67 640 196.6 C649.08 196.53 654.17 196.35 657 196.3" fill="none" stroke="#3272b7" stroke-width="3.6"/>
<path d="M558.6 102.7 L573.1 91.2 L577.9 102.1Z" fill="#231f20"/>
<path d="M650.2 97.4 L646 115.4 L658.2 113.3Z" fill="#231f20"/>
<path d="M655.4 174 L649.8 191.4 L661.4 191.4Z" fill="#231f20"/>
<path d="M623.4 198.4 L606 192.7 L606 204Z" fill="#231f20"/>
<path d="M515.9 193.6 L510.2 176.3 L521.4 176.3Z" fill="#231f20"/>
<line x1="69.6" y1="335.7" x2="69.6" y2="493.6" stroke="#555555" stroke-width="1.1"/>
<line x1="65.6" y1="493.1" x2="69.6" y2="493.1" stroke="#808080" stroke-width="0.9"/>
<text x="62.4" y="497" font-size="10.5" text-anchor="end" fill="#231f20">0</text>
<line x1="65.6" y1="450.14" x2="69.6" y2="450.14" stroke="#808080" stroke-width="0.9"/>
<text x="62.4" y="454.04" font-size="10.5" text-anchor="end" fill="#231f20">20</text>
<line x1="65.6" y1="407.18" x2="69.6" y2="407.18" stroke="#808080" stroke-width="0.9"/>
<text x="62.4" y="411.08" font-size="10.5" text-anchor="end" fill="#231f20">40</text>
<line x1="65.6" y1="364.22" x2="69.6" y2="364.22" stroke="#808080" stroke-width="0.9"/>
<text x="62.4" y="368.12" font-size="10.5" text-anchor="end" fill="#231f20">60</text>
<line x1="69.1" y1="493.1" x2="338.2" y2="493.1" stroke="#555555" stroke-width="1.1"/>
<line x1="69.6" y1="493.1" x2="69.6" y2="497.1" stroke="#808080" stroke-width="0.9"/>
<text x="69.6" y="512.7" font-size="10.5" text-anchor="middle" fill="#231f20">0</text>
<line x1="105.43" y1="493.1" x2="105.43" y2="497.1" stroke="#808080" stroke-width="0.9"/>
<text x="105.43" y="512.7" font-size="10.5" text-anchor="middle" fill="#231f20">200</text>
<line x1="141.27" y1="493.1" x2="141.27" y2="497.1" stroke="#808080" stroke-width="0.9"/>
<text x="141.27" y="512.7" font-size="10.5" text-anchor="middle" fill="#231f20">400</text>
<line x1="177.1" y1="493.1" x2="177.1" y2="497.1" stroke="#808080" stroke-width="0.9"/>
<text x="177.1" y="512.7" font-size="10.5" text-anchor="middle" fill="#231f20">600</text>
<line x1="212.94" y1="493.1" x2="212.94" y2="497.1" stroke="#808080" stroke-width="0.9"/>
<text x="212.94" y="512.7" font-size="10.5" text-anchor="middle" fill="#231f20">800</text>
<line x1="248.77" y1="493.1" x2="248.77" y2="497.1" stroke="#808080" stroke-width="0.9"/>
<text x="248.77" y="512.7" font-size="10.5" text-anchor="middle" fill="#231f20">1,000</text>
<line x1="284.6" y1="493.1" x2="284.6" y2="497.1" stroke="#808080" stroke-width="0.9"/>
<text x="284.6" y="512.7" font-size="10.5" text-anchor="middle" fill="#231f20">1,200</text>
<line x1="320.44" y1="493.1" x2="320.44" y2="497.1" stroke="#808080" stroke-width="0.9"/>
<text x="320.44" y="512.7" font-size="10.5" text-anchor="middle" fill="#231f20">1,400</text>
<text x="204.2" y="530.3" font-size="10.1" text-anchor="middle" fill="#231f20"><tspan font-style="italic">t</tspan> (steps)</text>
<g transform="translate(43.6,414.6) rotate(-90)"><text x="0" y="0" font-size="10.7" text-anchor="middle" fill="#231f20">Number of cells</text></g>
<path d="M69.6 445.6 L76.2 435.6 L84.1 422.5 L88 412.5 L92 404 L96 396.5 L99.8 391 L103 387 L106.4 384.4 L110 382.2 L113 381.2 L116 381.6 L118 382.6 L120.9 384.4 L124 387 L128.7 392.3 L132.5 398 L136.6 404 L140 409.5 L143.2 414.6 L146.5 420.5 L149.8 427.7 L153.5 434 L157.6 440.9 L162.5 448.5 L168.2 456.6 L172 461 L175.3 463.2 L180 467 L185 471.5 L191 477.1 L200 481.5 L212 485.5 L230 488.5 L248.8 490.8 L270 491.8 L300 492.3 L338.2 492.7" fill="none" stroke="#a25aa8" stroke-width="1.4" stroke-linejoin="round"/>
<path d="M69.6 490 L78.8 489.6 L88 486.5 L97.2 482.9 L104 478.5 L110.4 473.7 L117 468 L123.5 461.9 L128.7 455 L134 450.2 L138 447.6 L141.9 446.1 L147.1 445.1 L151 443.6 L155 442.4 L158.5 443 L162.9 444 L168 446.5 L173.4 448.7 L177 451.2 L180 452 L185 453.5 L191 456.6 L196.3 460.6 L204 463.5 L212 467.1 L222.5 472.4 L231 475.3 L240.9 478.4 L250 480.5 L262 482.9 L272 484.8 L283 486.3 L295 487.4 L306.6 488.2 L320 489 L338.2 489.7" fill="none" stroke="#6bbd5a" stroke-width="1.4" stroke-linejoin="round"/>
<line x1="251.7" y1="348.5" x2="268.6" y2="348.5" stroke="#a25aa8" stroke-width="1.6"/>
<line x1="251.7" y1="370.3" x2="268.6" y2="370.3" stroke="#6bbd5a" stroke-width="1.6"/>
<text x="275.6" y="352" font-size="10.5" fill="#231f20">T cell</text>
<text x="275.6" y="373.8" font-size="10.5" fill="#231f20">B cell</text>
<line x1="418.3" y1="396.6" x2="418.3" y2="493.8" stroke="#555555" stroke-width="1.1"/>
<line x1="414.3" y1="493.3" x2="418.3" y2="493.3" stroke="#808080" stroke-width="0.9"/>
<text x="409.8" y="497.6" font-size="10.5" text-anchor="end" fill="#231f20">0</text>
<line x1="414.3" y1="466.6" x2="418.3" y2="466.6" stroke="#808080" stroke-width="0.9"/>
<text x="409.8" y="470.9" font-size="10.5" text-anchor="end" fill="#231f20">20</text>
<line x1="414.3" y1="439.9" x2="418.3" y2="439.9" stroke="#808080" stroke-width="0.9"/>
<text x="409.8" y="444.2" font-size="10.5" text-anchor="end" fill="#231f20">40</text>
<line x1="414.3" y1="413.2" x2="418.3" y2="413.2" stroke="#808080" stroke-width="0.9"/>
<text x="409.8" y="417.5" font-size="10.5" text-anchor="end" fill="#231f20">60</text>
<line x1="417.8" y1="493.3" x2="680.3" y2="493.3" stroke="#555555" stroke-width="1.1"/>
<line x1="418.3" y1="493.3" x2="418.3" y2="497.3" stroke="#808080" stroke-width="0.9"/>
<text x="418.3" y="510.4" font-size="10.5" text-anchor="middle" fill="#231f20">0</text>
<line x1="453.58" y1="493.3" x2="453.58" y2="497.3" stroke="#808080" stroke-width="0.9"/>
<text x="453.58" y="510.4" font-size="10.5" text-anchor="middle" fill="#231f20">500</text>
<line x1="488.86" y1="493.3" x2="488.86" y2="497.3" stroke="#808080" stroke-width="0.9"/>
<text x="488.86" y="510.4" font-size="10.5" text-anchor="middle" fill="#231f20">1,000</text>
<line x1="524.14" y1="493.3" x2="524.14" y2="497.3" stroke="#808080" stroke-width="0.9"/>
<text x="524.14" y="510.4" font-size="10.5" text-anchor="middle" fill="#231f20">1,500</text>
<line x1="559.42" y1="493.3" x2="559.42" y2="497.3" stroke="#808080" stroke-width="0.9"/>
<text x="559.42" y="510.4" font-size="10.5" text-anchor="middle" fill="#231f20">2,000</text>
<line x1="594.7" y1="493.3" x2="594.7" y2="497.3" stroke="#808080" stroke-width="0.9"/>
<text x="594.7" y="510.4" font-size="10.5" text-anchor="middle" fill="#231f20">2,500</text>
<line x1="629.98" y1="493.3" x2="629.98" y2="497.3" stroke="#808080" stroke-width="0.9"/>
<text x="629.98" y="510.4" font-size="10.5" text-anchor="middle" fill="#231f20">3,000</text>
<line x1="665.26" y1="493.3" x2="665.26" y2="497.3" stroke="#808080" stroke-width="0.9"/>
<text x="665.26" y="510.4" font-size="10.5" text-anchor="middle" fill="#231f20">3,500</text>
<text x="549.2" y="526.9" font-size="10.1" text-anchor="middle" fill="#231f20"><tspan font-style="italic">t</tspan> (steps)</text>
<g transform="translate(389.4,445) rotate(-90)"><text x="0" y="0" font-size="10.7" text-anchor="middle" fill="#231f20">Number of cells</text></g>
<path d="M418.4 463.3 L421.4 455.2 L424 446 L426.1 436.5 L428.5 425 L431.2 413.1 L433 409.5 L434.9 408.4 L437 409 L440.1 410.8 L442 414.5 L444.7 417.8 L447 420 L449.4 422.5 L451.8 428 L454.1 430.6 L457.6 439.3 L461.1 442.3 L463.4 447.5 L466 452 L468.1 455.2 L470.4 460.4 L474 464 L477.5 467.8 L481 471.5 L484.5 475.2 L487.3 476.5 L488.3 477.5 L488.5 450.6 L489.3 455 L491.5 457.5 L493.8 460.4 L496 464 L498.5 467.4 L501 471.5 L503.1 475.5 L506.5 479.5 L510.2 483.7 L514 486.2 L519.5 488.4 L525 489.9 L530 491 L536.7 491.6 L548 492.3 L560 492.7 L575 492.9 L593.6 492.9 L593.9 464.2 L596.2 461.9 L597.5 456 L599.7 449.1 L601.5 442 L603.3 435 L605 428 L606.8 421 L608.5 417 L610.3 414 L612 410 L613.8 407 L614.9 408.2 L617.3 409.3 L620.8 410.5 L623 415 L625.4 418.7 L628.9 423.4 L630.5 428 L632.5 432.7 L634.5 437.5 L637.1 442 L639.5 448 L641.8 453.7 L644 459.5 L646.5 465.4 L649.5 471.5 L652.3 477.1 L655 481 L658.1 484.1 L661 486.5 L664.7 488.3" fill="none" stroke="#a25aa8" stroke-width="1.4" stroke-linejoin="round"/>
<path d="M418.4 492.6 L423 492.2 L428.4 491.2 L431 489.8 L433.1 488.4 L436.5 484.5 L440.1 480.2 L443.5 478 L447.1 476.7 L450 475.8 L452.9 475.1 L455.5 474 L458.8 472 L461 471.5 L463.4 470.9 L465.5 471.5 L468.1 472.5 L470.5 472.3 L472.8 472 L477 472.4 L482.1 473.2 L485.5 474.8 L488.7 476.7 L492.5 475.2 L496.1 473.9 L498.5 473.3 L500.8 473.2 L505.5 475.5 L510.2 477.9 L515 480.3 L519.5 482.6 L525 486 L530 487.8 L534.3 489.2 L541.4 489.2 L546 491.6 L560 492 L580 492.5 L595.1 492.7 L602.1 492.3 L608 490.8 L613.8 488.8 L617.5 486.6 L620.8 484.1 L624.5 479.5 L627.8 474.7 L630 471.5 L632.5 468.9 L635 467.6 L637.1 467 L641 467 L646.5 467.3 L649.5 467.8 L652.3 468.9 L655 470.3 L658.1 472.4 L661.5 476.3 L664.7 478.7" fill="none" stroke="#6bbd5a" stroke-width="1.4" stroke-linejoin="round"/>
<text x="418.4" y="333.2" font-size="10.5" text-anchor="middle" fill="#231f20">Adding</text>
<text x="418.4" y="347.7" font-size="10.5" text-anchor="middle" fill="#231f20">T cells</text>
<text x="418.4" y="362.2" font-size="10.5" text-anchor="middle" fill="#231f20">starts pulse</text>
<line x1="418.4" y1="372.2" x2="418.4" y2="388" stroke="#6bbd5a" stroke-width="1.1"/>
<path d="M415.8 386.3 L421 386.3 L418.4 392Z" fill="#6bbd5a"/>
<text x="486.8" y="333.2" font-size="10.5" text-anchor="middle" fill="#231f20">Adding</text>
<text x="486.8" y="347.7" font-size="10.5" text-anchor="middle" fill="#231f20">T cells</text>
<text x="486.8" y="362.2" font-size="10.5" text-anchor="middle" fill="#231f20">no pulse</text>
<line x1="486.8" y1="372.2" x2="486.8" y2="388" stroke="#e8604c" stroke-width="1.1"/>
<path d="M484.2 386.3 L489.4 386.3 L486.8 392Z" fill="#e8604c"/>
<text x="596.2" y="333.2" font-size="10.5" text-anchor="middle" fill="#231f20">Adding</text>
<text x="596.2" y="347.7" font-size="10.5" text-anchor="middle" fill="#231f20">T cells</text>
<text x="596.2" y="362.2" font-size="10.5" text-anchor="middle" fill="#231f20">starts pulse</text>
<line x1="596.2" y1="372.2" x2="596.2" y2="388" stroke="#6bbd5a" stroke-width="1.1"/>
<path d="M593.6 386.3 L598.8 386.3 L596.2 392Z" fill="#6bbd5a"/>
<path d="M238.99 774.71 L349.59 682.12 L348 548.8 L231.87 632.94Z" fill="#f9f9f9"/>
<path d="M349.59 682.12 L526.53 733.56 L533.11 595.46 L348 548.8Z" fill="#f1f1f1"/>
<path d="M238.99 774.71 L427 836.43 L526.53 733.56 L349.59 682.12Z" fill="#f4f4f4"/>
<path d="M250.1 778.36 L360.1 685.18 L358.97 551.56" fill="none" stroke="#ababab" stroke-width="1.2"/>
<path d="M273.93 786.18 L382.6 691.72 L382.47 557.49" fill="none" stroke="#ababab" stroke-width="1.2"/>
<path d="M298.1 794.12 L405.4 698.35 L406.29 563.49" fill="none" stroke="#ababab" stroke-width="1.2"/>
<path d="M322.62 802.16 L428.5 705.06 L430.45 569.58" fill="none" stroke="#ababab" stroke-width="1.2"/>
<path d="M347.49 810.33 L451.91 711.87 L454.94 575.75" fill="none" stroke="#ababab" stroke-width="1.2"/>
<path d="M372.73 818.61 L475.63 718.77 L479.77 582.01" fill="none" stroke="#ababab" stroke-width="1.2"/>
<path d="M398.35 827.02 L499.67 725.76 L504.96 588.36" fill="none" stroke="#ababab" stroke-width="1.2"/>
<path d="M424.34 835.56 L524.04 732.84 L530.5 594.8" fill="none" stroke="#ababab" stroke-width="1.2"/>
<path d="M521.65 738.61 L344.14 686.68 L342.3 552.93" fill="none" stroke="#ababab" stroke-width="1.2"/>
<path d="M503.89 756.97 L324.33 703.27 L321.56 567.95" fill="none" stroke="#ababab" stroke-width="1.2"/>
<path d="M485.49 775.98 L303.86 720.41 L300.09 583.5" fill="none" stroke="#ababab" stroke-width="1.2"/>
<path d="M466.44 795.67 L282.68 738.13 L277.86 599.61" fill="none" stroke="#ababab" stroke-width="1.2"/>
<path d="M446.68 816.09 L260.77 756.48 L254.82 616.31" fill="none" stroke="#ababab" stroke-width="1.2"/>
<path d="M238.55 766.06 L349.49 673.95 L526.93 725.12" fill="none" stroke="#ababab" stroke-width="1.2"/>
<path d="M237.8 751 L349.32 659.75 L527.63 710.43" fill="none" stroke="#ababab" stroke-width="1.2"/>
<path d="M237.03 735.79 L349.15 645.41 L528.34 695.6" fill="none" stroke="#ababab" stroke-width="1.2"/>
<path d="M236.26 720.43 L348.98 630.94 L529.05 680.62" fill="none" stroke="#ababab" stroke-width="1.2"/>
<path d="M235.48 704.9 L348.8 616.33 L529.77 665.49" fill="none" stroke="#ababab" stroke-width="1.2"/>
<path d="M234.69 689.21 L348.63 601.58 L530.5 650.21" fill="none" stroke="#ababab" stroke-width="1.2"/>
<path d="M233.9 673.35 L348.45 586.69 L531.24 634.77" fill="none" stroke="#ababab" stroke-width="1.2"/>
<path d="M233.09 657.32 L348.27 571.65 L531.98 619.18" fill="none" stroke="#ababab" stroke-width="1.2"/>
<path d="M232.28 641.13 L348.09 556.47 L532.73 603.42" fill="none" stroke="#ababab" stroke-width="1.2"/>
<path d="M238.99 774.71 L427 836.43" fill="none" stroke="#3a3a3a" stroke-width="0.9"/>
<path d="M526.53 733.56 L427 836.43" fill="none" stroke="#3a3a3a" stroke-width="0.9"/>
<path d="M526.53 733.56 L533.11 595.46" fill="none" stroke="#3a3a3a" stroke-width="0.9"/>
<path d="M251.55 777.14 L247.45 780.61" fill="none" stroke="#3a3a3a" stroke-width="0.9"/>
<text x="242.8" y="790.36" font-size="10" text-anchor="middle" fill="#262626">0</text>
<path d="M275.35 784.94 L271.31 788.46" fill="none" stroke="#3a3a3a" stroke-width="0.9"/>
<text x="266.63" y="798.18" font-size="10" text-anchor="middle" fill="#262626">10</text>
<path d="M299.5 792.86 L295.51 796.43" fill="none" stroke="#3a3a3a" stroke-width="0.9"/>
<text x="290.8" y="806.12" font-size="10" text-anchor="middle" fill="#262626">20</text>
<path d="M324.01 800.89 L320.06 804.51" fill="none" stroke="#3a3a3a" stroke-width="0.9"/>
<text x="315.32" y="814.16" font-size="10" text-anchor="middle" fill="#262626">30</text>
<path d="M348.86 809.04 L344.97 812.71" fill="none" stroke="#3a3a3a" stroke-width="0.9"/>
<text x="340.19" y="822.33" font-size="10" text-anchor="middle" fill="#262626">40</text>
<path d="M374.08 817.3 L370.25 821.03" fill="none" stroke="#3a3a3a" stroke-width="0.9"/>
<text x="365.43" y="830.61" font-size="10" text-anchor="middle" fill="#262626">50</text>
<path d="M399.68 825.69 L395.9 829.47" fill="none" stroke="#3a3a3a" stroke-width="0.9"/>
<text x="391.05" y="839.02" font-size="10" text-anchor="middle" fill="#262626">60</text>
<path d="M425.66 834.2 L421.93 838.04" fill="none" stroke="#3a3a3a" stroke-width="0.9"/>
<text x="417.04" y="847.56" font-size="10" text-anchor="middle" fill="#262626">70</text>
<path d="M519.41 737.95 L525.76 739.81" fill="none" stroke="#3a3a3a" stroke-width="0.9"/>
<text x="533.05" y="749.91" font-size="10" text-anchor="middle" fill="#262626">0</text>
<path d="M501.62 756.29 L508.05 758.21" fill="none" stroke="#3a3a3a" stroke-width="0.9"/>
<text x="515.29" y="768.27" font-size="10" text-anchor="middle" fill="#262626">5</text>
<path d="M483.2 775.28 L489.71 777.27" fill="none" stroke="#3a3a3a" stroke-width="0.9"/>
<text x="496.89" y="787.28" font-size="10" text-anchor="middle" fill="#262626">10</text>
<path d="M464.11 794.95 L470.7 797.01" fill="none" stroke="#3a3a3a" stroke-width="0.9"/>
<text x="477.84" y="806.97" font-size="10" text-anchor="middle" fill="#262626">15</text>
<path d="M444.33 815.34 L451 817.48" fill="none" stroke="#3a3a3a" stroke-width="0.9"/>
<text x="458.08" y="827.39" font-size="10" text-anchor="middle" fill="#262626">20</text>
<path d="M524.7 724.47 L530.11 726.03" fill="none" stroke="#3a3a3a" stroke-width="0.9"/>
<text x="537.7" y="732.42" font-size="10" fill="#262626">0</text>
<path d="M525.38 709.79 L530.82 711.34" fill="none" stroke="#3a3a3a" stroke-width="0.9"/>
<text x="537.7" y="717.73" font-size="10" fill="#262626">5</text>
<path d="M526.08 694.97 L531.55 696.5" fill="none" stroke="#3a3a3a" stroke-width="0.9"/>
<text x="537.7" y="702.9" font-size="10" fill="#262626">10</text>
<path d="M526.78 680 L532.28 681.51" fill="none" stroke="#3a3a3a" stroke-width="0.9"/>
<text x="537.7" y="687.92" font-size="10" fill="#262626">15</text>
<path d="M527.49 664.87 L533.02 666.37" fill="none" stroke="#3a3a3a" stroke-width="0.9"/>
<text x="537.7" y="672.79" font-size="10" fill="#262626">20</text>
<path d="M528.21 649.6 L533.76 651.08" fill="none" stroke="#3a3a3a" stroke-width="0.9"/>
<text x="537.7" y="657.51" font-size="10" fill="#262626">25</text>
<path d="M528.93 634.17 L534.51 635.63" fill="none" stroke="#3a3a3a" stroke-width="0.9"/>
<text x="537.7" y="642.07" font-size="10" fill="#262626">30</text>
<path d="M529.66 618.58 L535.27 620.03" fill="none" stroke="#3a3a3a" stroke-width="0.9"/>
<text x="537.7" y="626.48" font-size="10" fill="#262626">35</text>
<path d="M530.4 602.83 L536.04 604.26" fill="none" stroke="#3a3a3a" stroke-width="0.9"/>
<text x="537.7" y="610.72" font-size="10" fill="#262626">40</text>
<text x="316.2" y="833.1" font-size="10" text-anchor="middle" fill="#262626">CD4</text>
<text x="519.3" y="801.8" font-size="10" text-anchor="middle" fill="#262626">CD8</text>
<text x="562" y="664" font-size="10" text-anchor="middle" fill="#262626">B</text>
<path d="M431.8 721.2 C432.68 721.83 434.47 722.9 437.1 725 C439.73 727.1 444.38 730.87 447.6 733.8 C450.82 736.73 454.22 739.83 456.4 742.6 C458.58 745.37 460.12 748.07 460.7 750.4 C461.28 752.73 460.92 755.13 459.9 756.6 C458.88 758.07 457.23 758.92 454.6 759.2 C451.97 759.48 448.18 759.17 444.1 758.3 C440.02 757.43 435.35 756.18 430.1 754 C424.85 751.82 418.45 748.57 412.6 745.2 C406.75 741.83 400.85 738.03 395 733.8 C389.15 729.57 383.17 725.07 377.5 719.8 C371.83 714.53 365.87 708.4 361 702.2 C356.13 696 351.43 687.57 348.3 682.6 C345.17 677.63 344.23 676.13 342.2 672.4 C340.17 668.67 337.8 664.28 336.1 660.2 C334.4 656.12 332.88 652.33 332 647.9 C331.12 643.47 330.8 638.37 330.8 633.6 C330.8 628.83 330.92 623.23 332 619.3 C333.08 615.37 335.6 611.03 337.3 610 C339 608.97 340.57 610.53 342.2 613.1 C343.83 615.67 345.73 620.62 347.1 625.4 C348.47 630.18 349.52 635.67 350.4 641.8 C351.28 647.93 351.9 655.83 352.4 662.2 C352.9 668.57 353.23 677.03 353.4 680" fill="none" stroke="#2f6db5" stroke-width="4.7" stroke-linecap="round"/>
<path d="M340.6 693.5 C338.7 694.45 333.53 697.27 329.2 699.2 C324.87 701.13 318.52 703.52 314.6 705.1 C310.68 706.68 309.13 707.78 305.7 708.7 C302.27 709.62 298.13 710.6 294 710.6 C289.87 710.6 285.03 709.87 280.9 708.7 C276.77 707.53 272.62 705.9 269.2 703.6 C265.78 701.3 262.72 698.3 260.4 694.9 C258.08 691.5 256.3 687.1 255.3 683.2 C254.3 679.3 254.48 675.83 254.4 671.5 C254.32 667.17 253.8 661.77 254.8 657.2 C255.8 652.63 258 648.48 260.4 644.1 C262.8 639.72 265.78 635.05 269.2 630.9 C272.62 626.75 276.77 622.6 280.9 619.2 C285.03 615.8 289.87 612.68 294 610.5 C298.13 608.32 302.05 606.88 305.7 606.1 C309.35 605.32 312.5 605.43 315.9 605.8 C319.3 606.17 323.07 607.02 326.1 608.3 C329.13 609.58 331.7 611.55 334.1 613.5 C336.5 615.45 338.63 616.75 340.5 620 C342.37 623.25 343.88 628.17 345.3 633 C346.72 637.83 347.97 643.67 349 649 C350.03 654.33 350.83 659.67 351.5 665 C352.17 670.33 352.75 678.33 353 681" fill="none" stroke="#7f7f7f" stroke-opacity="0.42" stroke-width="3.9" stroke-linecap="butt"/>
<path d="M445.5 707.3 C447.08 707.45 451.22 707.77 455 708.2 C458.78 708.63 463.57 709.25 468.2 709.9 C472.83 710.55 477.93 711.62 482.8 712.1 C487.67 712.58 493.52 713.03 497.4 712.8 C501.28 712.57 503.92 711.92 506.1 710.7 C508.28 709.48 509.65 707.58 510.5 705.5 C511.35 703.42 511.68 701.12 511.2 698.2 C510.72 695.28 509.42 691.63 507.6 688 C505.78 684.37 503.23 680.53 500.3 676.4 C497.37 672.27 493.65 667.83 490 663.2 C486.35 658.57 482.28 653.22 478.4 648.6 C474.52 643.98 470.6 639.88 466.7 635.5 C462.8 631.12 458.88 626.43 455 622.3 C451.12 618.17 447.28 614.67 443.4 610.7 C439.52 606.73 435.58 602.08 431.7 598.5 C427.82 594.92 423.98 591.92 420.1 589.2 C416.22 586.48 412.3 584.25 408.4 582.2 C404.5 580.15 400.02 577.97 396.7 576.9 C393.38 575.83 391.42 575.7 388.5 575.8 C385.58 575.9 382.12 576.23 379.2 577.5 C376.28 578.77 373.53 580.87 371 583.4 C368.47 585.93 365.95 589.2 364 592.7 C362.05 596.2 360.57 600.5 359.3 604.4 C358.03 608.3 357.17 612.22 356.4 616.1 C355.63 619.98 355.18 623.72 354.7 627.7 C354.22 631.68 353.73 634.62 353.5 640 C353.27 645.38 353.33 653.17 353.3 660 C353.27 666.83 353.3 677.5 353.3 681" fill="none" stroke="#7f7f7f" stroke-opacity="0.42" stroke-width="3.9" stroke-linecap="butt"/>
<path d="M353.3 683.1 C352.68 684.57 351.43 688 349.6 691.9 C347.77 695.8 344.37 700.9 342.3 706.5 C340.23 712.1 338.65 719.42 337.2 725.5 C335.75 731.58 334.33 737.17 333.6 743 C332.87 748.83 332.32 754.9 332.8 760.5 C333.28 766.1 334.67 772.22 336.5 776.6 C338.33 780.98 340.15 783.65 343.8 786.8 C347.45 789.95 353.53 793.32 358.4 795.5 C363.27 797.68 368.13 798.8 373 799.9 C377.87 801 383.1 801.62 387.6 802.1 C392.1 802.58 394.38 803.08 400 802.8 C405.62 802.52 414.25 801.53 421.3 800.4 C428.35 799.27 436.75 798.05 442.3 796 C447.85 793.95 451.53 791.75 454.6 788.1 C457.67 784.45 459.82 778.18 460.7 774.1 C461.58 770.02 460.77 767.4 459.9 763.6 C459.03 759.8 457.55 755.1 455.5 751.3 C453.45 747.5 450.97 744.73 447.6 740.8 C444.23 736.87 437.93 730.67 435.3 727.7 C432.67 724.73 432.38 723.78 431.8 723" fill="none" stroke="#7f7f7f" stroke-opacity="0.42" stroke-width="3.9" stroke-linecap="butt"/>
<circle cx="353.3" cy="683.1" r="6.5" fill="#e8643f"/>
<circle cx="431.8" cy="721.2" r="6.2" fill="#7dbb5f"/>
<line x1="112" y1="627.5" x2="139.9" y2="627.5" stroke="#2f6db5" stroke-width="5.1"/>
<circle cx="126.3" cy="645" r="6.6" fill="#7dbb5f"/>
<circle cx="126.3" cy="661.4" r="6.6" fill="#e8643f"/>
<text x="147" y="630.9" font-size="10" fill="#262626">Trajectory</text>
<text x="147" y="648.4" font-size="10" fill="#262626">Start state</text>
<text x="147" y="664.8" font-size="10" fill="#262626">Final state</text>
<text x="162.6" y="879.2" font-size="10.4" text-anchor="middle" fill="#231f20">CD4 T cells</text>
<text x="382.2" y="879.2" font-size="10.4" text-anchor="middle" fill="#231f20">CD8 T cells</text>
<text x="594.6" y="879.2" font-size="10.4" text-anchor="middle" fill="#231f20">B cells</text>
<clipPath id="cg1"><rect x="73.6" y="889.2" width="178.2" height="15.1"/></clipPath>
<g clip-path="url(#cg1)">
<path d="M73.6 900.65 L75.23 898.93 L78.85 894.47 L80.37 892.86 L81.3 892.11 L82.12 891.66 L82.94 891.41 L83.76 891.38 L85.16 891.85 L86.56 892.9 L87.96 894.38 L92.63 899.99 L94.38 901.58 L96.13 902.71 L98.11 903.52 L100.56 904.02 L103.48 904.23 L108.5 904.3 L108.5 904.3 L73.6 904.3Z" fill="#808080" fill-opacity="1.0" stroke="none"/>
<path d="M73.6 900.65 L75.23 898.93 L78.85 894.47 L80.37 892.86 L81.3 892.11 L82.12 891.66 L82.94 891.41 L83.76 891.38 L85.16 891.85 L86.56 892.9 L87.96 894.38 L92.63 899.99 L94.38 901.58 L96.13 902.71 L98.11 903.52 L100.56 904.02 L103.48 904.23 L108.5 904.3" fill="none" stroke="#444444" stroke-width="1.1"/>
<path d="M121.77 904.18 L124.21 903.98 L126.2 903.62 L128.03 903.04 L129.71 902.24 L131.24 901.23 L132.77 899.97 L137.36 895.3 L139.04 893.8 L140.72 892.78 L141.63 892.5 L142.4 892.42 L143.16 892.49 L144.08 892.78 L145.76 893.79 L147.29 895.14 L152.33 900.23 L154.17 901.66 L156 902.71 L158.14 903.5 L160.43 903.95 L163.34 904.2 L167.46 904.29 L167.46 904.3 L121.77 904.3Z" fill="#e8927e" fill-opacity="0.85" stroke="none"/>
<path d="M121.77 904.18 L124.21 903.98 L126.2 903.62 L128.03 903.04 L129.71 902.24 L131.24 901.23 L132.77 899.97 L137.36 895.3 L139.04 893.8 L140.72 892.78 L141.63 892.5 L142.4 892.42 L143.16 892.49 L144.08 892.78 L145.76 893.79 L147.29 895.14 L152.33 900.23 L154.17 901.66 L156 902.71 L158.14 903.5 L160.43 903.95 L163.34 904.2 L167.46 904.29" fill="none" stroke="#d04a3a" stroke-width="1.1"/>
</g>
<line x1="73.6" y1="889.2" x2="73.6" y2="904.8" stroke="#555555" stroke-width="1.0"/>
<line x1="73.1" y1="904.3" x2="251.8" y2="904.3" stroke="#555555" stroke-width="1.0"/>
<line x1="70.1" y1="904.3" x2="73.6" y2="904.3" stroke="#808080" stroke-width="0.9"/>
<text x="65.3" y="908" font-size="10.4" text-anchor="end" fill="#231f20">0</text>
<line x1="70.1" y1="891.1" x2="73.6" y2="891.1" stroke="#808080" stroke-width="0.9"/>
<text x="65.3" y="894.8" font-size="10.4" text-anchor="end" fill="#231f20">0.1</text>
<line x1="74.6" y1="904.3" x2="74.6" y2="907.8" stroke="#808080" stroke-width="0.9"/>
<text x="74.6" y="919.5" font-size="10.4" text-anchor="middle" fill="#231f20">0</text>
<line x1="111.45" y1="904.3" x2="111.45" y2="907.8" stroke="#808080" stroke-width="0.9"/>
<text x="111.45" y="919.5" font-size="10.4" text-anchor="middle" fill="#231f20">25</text>
<line x1="148.3" y1="904.3" x2="148.3" y2="907.8" stroke="#808080" stroke-width="0.9"/>
<text x="148.3" y="919.5" font-size="10.4" text-anchor="middle" fill="#231f20">50</text>
<line x1="185.15" y1="904.3" x2="185.15" y2="907.8" stroke="#808080" stroke-width="0.9"/>
<text x="185.15" y="919.5" font-size="10.4" text-anchor="middle" fill="#231f20">75</text>
<line x1="222" y1="904.3" x2="222" y2="907.8" stroke="#808080" stroke-width="0.9"/>
<text x="222" y="919.5" font-size="10.4" text-anchor="middle" fill="#231f20">100</text>
<text x="159.6" y="935.2" font-size="10.65" text-anchor="middle" fill="#231f20">Number of CD4 cells</text>
<clipPath id="cg2"><rect x="289.6" y="889.2" width="185.4" height="15.1"/></clipPath>
<g clip-path="url(#cg2)">
<path d="M289.6 902.26 L292.7 901.64 L294.25 901.5 L306.65 902.47 L318.54 903.11 L333 903.6 L351.09 903.93 L385.71 904.2 L444.1 904.29 L444.1 904.3 L289.6 904.3Z" fill="#808080" fill-opacity="1.0" stroke="none"/>
<path d="M289.6 902.26 L292.7 901.64 L294.25 901.5 L306.65 902.47 L318.54 903.11 L333 903.6 L351.09 903.93 L385.71 904.2 L444.1 904.29" fill="none" stroke="#444444" stroke-width="1.1"/>
<path d="M289.6 902.93 L314.92 900.78 L322.15 900.43 L328.87 900.34 L334.55 900.48 L340.24 900.78 L367.11 903.05 L382.61 903.87 L402.76 904.24 L444.1 904.3 L444.1 904.3 L289.6 904.3Z" fill="#e8927e" fill-opacity="0.85" stroke="none"/>
<path d="M289.6 902.93 L314.92 900.78 L322.15 900.43 L328.87 900.34 L334.55 900.48 L340.24 900.78 L367.11 903.05 L382.61 903.87 L402.76 904.24 L444.1 904.3" fill="none" stroke="#d04a3a" stroke-width="1.1"/>
</g>
<line x1="289.6" y1="889.2" x2="289.6" y2="904.8" stroke="#555555" stroke-width="1.0"/>
<line x1="289.1" y1="904.3" x2="475" y2="904.3" stroke="#555555" stroke-width="1.0"/>
<line x1="286.1" y1="904.3" x2="289.6" y2="904.3" stroke="#808080" stroke-width="0.9"/>
<text x="281.3" y="908" font-size="10.4" text-anchor="end" fill="#231f20">0</text>
<line x1="286.1" y1="891.1" x2="289.6" y2="891.1" stroke="#808080" stroke-width="0.9"/>
<text x="281.3" y="894.8" font-size="10.4" text-anchor="end" fill="#231f20">0.1</text>
<line x1="290.8" y1="904.3" x2="290.8" y2="907.8" stroke="#808080" stroke-width="0.9"/>
<text x="290.8" y="919.5" font-size="10.4" text-anchor="middle" fill="#231f20">0</text>
<line x1="329.12" y1="904.3" x2="329.12" y2="907.8" stroke="#808080" stroke-width="0.9"/>
<text x="329.12" y="919.5" font-size="10.4" text-anchor="middle" fill="#231f20">25</text>
<line x1="367.45" y1="904.3" x2="367.45" y2="907.8" stroke="#808080" stroke-width="0.9"/>
<text x="367.45" y="919.5" font-size="10.4" text-anchor="middle" fill="#231f20">50</text>
<line x1="405.77" y1="904.3" x2="405.77" y2="907.8" stroke="#808080" stroke-width="0.9"/>
<text x="405.77" y="919.5" font-size="10.4" text-anchor="middle" fill="#231f20">75</text>
<line x1="444.1" y1="904.3" x2="444.1" y2="907.8" stroke="#808080" stroke-width="0.9"/>
<text x="444.1" y="919.5" font-size="10.4" text-anchor="middle" fill="#231f20">100</text>
<text x="384.5" y="935.2" font-size="10.65" text-anchor="middle" fill="#231f20">Number of CD4 cells</text>
<clipPath id="cg3"><rect x="504.2" y="889.2" width="185.8" height="15.1"/></clipPath>
<g clip-path="url(#cg3)">
<path d="M504.22 868.7 L505.37 851.89 L506.11 843.38 L506.48 840.51 L506.82 838.9 L507 838.44 L507.19 838.3 L507.52 838.85 L508.04 841.68 L508.64 847.48 L510.94 879.92 L512.09 892.23 L512.76 896.93 L513.5 900.35 L514.32 902.48 L514.8 903.2 L515.32 903.68 L515.32 904.3 L504.22 904.3Z" fill="#808080" fill-opacity="1.0" stroke="none"/>
<path d="M504.22 868.7 L505.37 851.89 L506.11 843.38 L506.48 840.51 L506.82 838.9 L507 838.44 L507.19 838.3 L507.52 838.85 L508.04 841.68 L508.64 847.48 L510.94 879.92 L512.09 892.23 L512.76 896.93 L513.5 900.35 L514.32 902.48 L514.8 903.2 L515.32 903.68" fill="none" stroke="#444444" stroke-width="1.1"/>
<path d="M524.94 904.16 L533.49 903.85 L540.62 903.3 L547.75 902.42 L563.43 899.99 L568.06 899.55 L572.34 899.42 L576.62 899.56 L581.25 900 L598 902.59 L606.55 903.54 L616.89 904.09 L631.5 904.28 L631.5 904.3 L524.94 904.3Z" fill="#e8927e" fill-opacity="0.85" stroke="none"/>
<path d="M524.94 904.16 L533.49 903.85 L540.62 903.3 L547.75 902.42 L563.43 899.99 L568.06 899.55 L572.34 899.42 L576.62 899.56 L581.25 900 L598 902.59 L606.55 903.54 L616.89 904.09 L631.5 904.28" fill="none" stroke="#d04a3a" stroke-width="1.1"/>
</g>
<line x1="504.2" y1="889.2" x2="504.2" y2="904.8" stroke="#555555" stroke-width="1.0"/>
<line x1="503.7" y1="904.3" x2="685" y2="904.3" stroke="#555555" stroke-width="1.0"/>
<line x1="500.7" y1="904.3" x2="504.2" y2="904.3" stroke="#808080" stroke-width="0.9"/>
<text x="495.9" y="908" font-size="10.4" text-anchor="end" fill="#231f20">0</text>
<line x1="500.7" y1="891.1" x2="504.2" y2="891.1" stroke="#808080" stroke-width="0.9"/>
<text x="495.9" y="894.8" font-size="10.4" text-anchor="end" fill="#231f20">0.1</text>
<line x1="505.7" y1="904.3" x2="505.7" y2="907.8" stroke="#808080" stroke-width="0.9"/>
<text x="505.7" y="919.5" font-size="10.4" text-anchor="middle" fill="#231f20">0</text>
<line x1="542.7" y1="904.3" x2="542.7" y2="907.8" stroke="#808080" stroke-width="0.9"/>
<text x="542.7" y="919.5" font-size="10.4" text-anchor="middle" fill="#231f20">25</text>
<line x1="579.7" y1="904.3" x2="579.7" y2="907.8" stroke="#808080" stroke-width="0.9"/>
<text x="579.7" y="919.5" font-size="10.4" text-anchor="middle" fill="#231f20">50</text>
<line x1="616.7" y1="904.3" x2="616.7" y2="907.8" stroke="#808080" stroke-width="0.9"/>
<text x="616.7" y="919.5" font-size="10.4" text-anchor="middle" fill="#231f20">75</text>
<line x1="653.7" y1="904.3" x2="653.7" y2="907.8" stroke="#808080" stroke-width="0.9"/>
<text x="653.7" y="919.5" font-size="10.4" text-anchor="middle" fill="#231f20">100</text>
<text x="594.8" y="935.2" font-size="10.65" text-anchor="middle" fill="#231f20">Number of CD4 cells</text>
<g transform="translate(43.6,896.75) rotate(-90)"><text x="0" y="0" font-size="10.4" text-anchor="middle" fill="#231f20">Probability</text></g>
<clipPath id="cg4"><rect x="73.6" y="946.5" width="178.2" height="15.7"/></clipPath>
<g clip-path="url(#cg4)">
<path d="M73.6 955.52 L76 953.6 L77.98 952.43 L79.68 951.91 L81.38 951.92 L82.93 952.4 L84.63 953.35 L90.14 957.8 L92.4 959.39 L94.38 960.45 L96.36 961.18 L99.05 961.76 L102.3 962.07 L115.87 962.2 L115.87 962.2 L73.6 962.2Z" fill="#808080" fill-opacity="1.0" stroke="none"/>
<path d="M73.6 955.52 L76 953.6 L77.98 952.43 L79.68 951.91 L81.38 951.92 L82.93 952.4 L84.63 953.35 L90.14 957.8 L92.4 959.39 L94.38 960.45 L96.36 961.18 L99.05 961.76 L102.3 962.07 L115.87 962.2" fill="none" stroke="#444444" stroke-width="1.1"/>
<path d="M73.6 833.22 L74.24 711.78 L74.46 690.18 L74.57 686.37 L74.67 687.1 L74.99 717.02 L75.84 876.62 L76.33 933.61 L76.61 949.37 L76.95 958.11 L77.14 960.17 L77.39 961.47 L77.72 962.03 L78.28 962.19 L78.28 962.2 L73.6 962.2Z" fill="#e8927e" fill-opacity="0.85" stroke="none"/>
<path d="M73.6 833.22 L74.24 711.78 L74.46 690.18 L74.57 686.37 L74.67 687.1 L74.99 717.02 L75.84 876.62 L76.33 933.61 L76.61 949.37 L76.95 958.11 L77.14 960.17 L77.39 961.47 L77.72 962.03 L78.28 962.19" fill="none" stroke="#d04a3a" stroke-width="1.1"/>
</g>
<line x1="73.6" y1="946.5" x2="73.6" y2="962.7" stroke="#555555" stroke-width="1.0"/>
<line x1="73.1" y1="962.2" x2="251.8" y2="962.2" stroke="#555555" stroke-width="1.0"/>
<line x1="70.1" y1="962.2" x2="73.6" y2="962.2" stroke="#808080" stroke-width="0.9"/>
<text x="65.3" y="965.9" font-size="10.4" text-anchor="end" fill="#231f20">0</text>
<line x1="70.1" y1="948.4" x2="73.6" y2="948.4" stroke="#808080" stroke-width="0.9"/>
<text x="65.3" y="952.1" font-size="10.4" text-anchor="end" fill="#231f20">0.1</text>
<line x1="74.6" y1="962.2" x2="74.6" y2="965.7" stroke="#808080" stroke-width="0.9"/>
<text x="74.6" y="977.4" font-size="10.4" text-anchor="middle" fill="#231f20">0</text>
<line x1="111.45" y1="962.2" x2="111.45" y2="965.7" stroke="#808080" stroke-width="0.9"/>
<text x="111.45" y="977.4" font-size="10.4" text-anchor="middle" fill="#231f20">25</text>
<line x1="148.3" y1="962.2" x2="148.3" y2="965.7" stroke="#808080" stroke-width="0.9"/>
<text x="148.3" y="977.4" font-size="10.4" text-anchor="middle" fill="#231f20">50</text>
<line x1="185.15" y1="962.2" x2="185.15" y2="965.7" stroke="#808080" stroke-width="0.9"/>
<text x="185.15" y="977.4" font-size="10.4" text-anchor="middle" fill="#231f20">75</text>
<line x1="222" y1="962.2" x2="222" y2="965.7" stroke="#808080" stroke-width="0.9"/>
<text x="222" y="977.4" font-size="10.4" text-anchor="middle" fill="#231f20">100</text>
<text x="162.9" y="991.5" font-size="10.65" text-anchor="middle" fill="#231f20">Number of CD8 cells</text>
<clipPath id="cg5"><rect x="289.6" y="946.5" width="185.4" height="15.7"/></clipPath>
<g clip-path="url(#cg5)">
<path d="M289.6 958.4 L291.09 956.55 L294.39 951.69 L295.78 949.94 L296.53 949.23 L297.27 948.72 L298.02 948.45 L298.76 948.42 L299.94 948.88 L301.21 950.01 L302.49 951.63 L305.37 955.89 L306.76 957.73 L308.25 959.33 L309.85 960.55 L311.66 961.41 L313.89 961.92 L316.67 962.14 L321.46 962.2 L321.46 962.2 L289.6 962.2Z" fill="#808080" fill-opacity="1.0" stroke="none"/>
<path d="M289.6 958.4 L291.09 956.55 L294.39 951.69 L295.78 949.94 L296.53 949.23 L297.27 948.72 L298.02 948.45 L298.76 948.42 L299.94 948.88 L301.21 950.01 L302.49 951.63 L305.37 955.89 L306.76 957.73 L308.25 959.33 L309.85 960.55 L311.66 961.41 L313.89 961.92 L316.67 962.14 L321.46 962.2" fill="none" stroke="#444444" stroke-width="1.1"/>
<path d="M289.6 961.92 L475 961.92 L475 962.2 L289.6 962.2Z" fill="#e8927e" fill-opacity="0.85" stroke="none"/>
<path d="M289.6 961.92 L475 961.92" fill="none" stroke="#d04a3a" stroke-width="1.1"/>
</g>
<line x1="289.6" y1="946.5" x2="289.6" y2="962.7" stroke="#555555" stroke-width="1.0"/>
<line x1="289.1" y1="962.2" x2="475" y2="962.2" stroke="#555555" stroke-width="1.0"/>
<line x1="286.1" y1="962.2" x2="289.6" y2="962.2" stroke="#808080" stroke-width="0.9"/>
<text x="281.3" y="965.9" font-size="10.4" text-anchor="end" fill="#231f20">0</text>
<line x1="286.1" y1="948.4" x2="289.6" y2="948.4" stroke="#808080" stroke-width="0.9"/>
<text x="281.3" y="952.1" font-size="10.4" text-anchor="end" fill="#231f20">0.1</text>
<line x1="290.8" y1="962.2" x2="290.8" y2="965.7" stroke="#808080" stroke-width="0.9"/>
<text x="290.8" y="977.4" font-size="10.4" text-anchor="middle" fill="#231f20">0</text>
<line x1="329.12" y1="962.2" x2="329.12" y2="965.7" stroke="#808080" stroke-width="0.9"/>
<text x="329.12" y="977.4" font-size="10.4" text-anchor="middle" fill="#231f20">25</text>
<line x1="367.45" y1="962.2" x2="367.45" y2="965.7" stroke="#808080" stroke-width="0.9"/>
<text x="367.45" y="977.4" font-size="10.4" text-anchor="middle" fill="#231f20">50</text>
<line x1="405.77" y1="962.2" x2="405.77" y2="965.7" stroke="#808080" stroke-width="0.9"/>
<text x="405.77" y="977.4" font-size="10.4" text-anchor="middle" fill="#231f20">75</text>
<line x1="444.1" y1="962.2" x2="444.1" y2="965.7" stroke="#808080" stroke-width="0.9"/>
<text x="444.1" y="977.4" font-size="10.4" text-anchor="middle" fill="#231f20">100</text>
<text x="381.6" y="991.5" font-size="10.65" text-anchor="middle" fill="#231f20">Number of CD8 cells</text>
<clipPath id="cg6"><rect x="504.2" y="946.5" width="185.8" height="15.7"/></clipPath>
<g clip-path="url(#cg6)">
<path d="M506.59 962.05 L506.97 961.24 L507.24 959.23 L507.65 950.12 L508.63 888.68 L508.95 879.41 L509.11 881.49 L509.28 888.68 L510.28 950.67 L510.69 959.41 L510.96 961.3 L511.32 962.05 L511.32 962.2 L506.59 962.2Z" fill="#808080" fill-opacity="1.0" stroke="none"/>
<path d="M506.59 962.05 L506.97 961.24 L507.24 959.23 L507.65 950.12 L508.63 888.68 L508.95 879.41 L509.11 881.49 L509.28 888.68 L510.28 950.67 L510.69 959.41 L510.96 961.3 L511.32 962.05" fill="none" stroke="#444444" stroke-width="1.1"/>
<path d="M504.22 934.6 L507.68 934.69 L508.58 935.29 L509.47 936.41 L510.36 937.98 L511.35 940.16 L515.11 949.97 L516.79 953.85 L518.67 957.21 L519.56 958.41 L520.55 959.47 L521.54 960.29 L522.53 960.89 L523.72 961.4 L525.01 961.75 L528.18 962.11 L533.82 962.2 L533.82 962.2 L504.22 962.2Z" fill="#e8927e" fill-opacity="0.85" stroke="none"/>
<path d="M504.22 934.6 L507.68 934.69 L508.58 935.29 L509.47 936.41 L510.36 937.98 L511.35 940.16 L515.11 949.97 L516.79 953.85 L518.67 957.21 L519.56 958.41 L520.55 959.47 L521.54 960.29 L522.53 960.89 L523.72 961.4 L525.01 961.75 L528.18 962.11 L533.82 962.2" fill="none" stroke="#d04a3a" stroke-width="1.1"/>
</g>
<line x1="504.2" y1="946.5" x2="504.2" y2="962.7" stroke="#555555" stroke-width="1.0"/>
<line x1="503.7" y1="962.2" x2="685" y2="962.2" stroke="#555555" stroke-width="1.0"/>
<line x1="500.7" y1="962.2" x2="504.2" y2="962.2" stroke="#808080" stroke-width="0.9"/>
<text x="495.9" y="965.9" font-size="10.4" text-anchor="end" fill="#231f20">0</text>
<line x1="500.7" y1="948.4" x2="504.2" y2="948.4" stroke="#808080" stroke-width="0.9"/>
<text x="495.9" y="952.1" font-size="10.4" text-anchor="end" fill="#231f20">0.1</text>
<line x1="505.7" y1="962.2" x2="505.7" y2="965.7" stroke="#808080" stroke-width="0.9"/>
<text x="505.7" y="977.4" font-size="10.4" text-anchor="middle" fill="#231f20">0</text>
<line x1="542.7" y1="962.2" x2="542.7" y2="965.7" stroke="#808080" stroke-width="0.9"/>
<text x="542.7" y="977.4" font-size="10.4" text-anchor="middle" fill="#231f20">25</text>
<line x1="579.7" y1="962.2" x2="579.7" y2="965.7" stroke="#808080" stroke-width="0.9"/>
<text x="579.7" y="977.4" font-size="10.4" text-anchor="middle" fill="#231f20">50</text>
<line x1="616.7" y1="962.2" x2="616.7" y2="965.7" stroke="#808080" stroke-width="0.9"/>
<text x="616.7" y="977.4" font-size="10.4" text-anchor="middle" fill="#231f20">75</text>
<line x1="653.7" y1="962.2" x2="653.7" y2="965.7" stroke="#808080" stroke-width="0.9"/>
<text x="653.7" y="977.4" font-size="10.4" text-anchor="middle" fill="#231f20">100</text>
<text x="594.6" y="991.5" font-size="10.65" text-anchor="middle" fill="#231f20">Number of CD8 cells</text>
<g transform="translate(43.6,954.35) rotate(-90)"><text x="0" y="0" font-size="10.4" text-anchor="middle" fill="#231f20">Probability</text></g>
<clipPath id="cg7"><rect x="73.6" y="1007.3" width="178.2" height="15.6"/></clipPath>
<g clip-path="url(#cg7)">
<path d="M73.6 1022.88 L114.72 1022.73 L188.63 1022.1 L213.06 1022.18 L251.8 1022.57 L251.8 1022.9 L73.6 1022.9Z" fill="#808080" fill-opacity="1.0" stroke="none"/>
<path d="M73.6 1022.88 L114.72 1022.73 L188.63 1022.1 L213.06 1022.18 L251.8 1022.57" fill="none" stroke="#444444" stroke-width="1.1"/>
<path d="M73.6 908.69 L74 896.42 L74.36 890.11 L74.54 888.97 L74.63 888.92 L74.72 889.23 L75.09 893.88 L75.7 912.6 L77.55 989.65 L78.24 1006.82 L79.02 1017.01 L79.02 1022.9 L73.6 1022.9Z" fill="#e8927e" fill-opacity="0.85" stroke="none"/>
<path d="M73.6 908.69 L74 896.42 L74.36 890.11 L74.54 888.97 L74.63 888.92 L74.72 889.23 L75.09 893.88 L75.7 912.6 L77.55 989.65 L78.24 1006.82 L79.02 1017.01" fill="none" stroke="#d04a3a" stroke-width="1.1"/>
</g>
<line x1="73.6" y1="1007.3" x2="73.6" y2="1023.4" stroke="#555555" stroke-width="1.0"/>
<line x1="73.1" y1="1022.9" x2="251.8" y2="1022.9" stroke="#555555" stroke-width="1.0"/>
<line x1="70.1" y1="1022.9" x2="73.6" y2="1022.9" stroke="#808080" stroke-width="0.9"/>
<text x="65.3" y="1026.6" font-size="10.4" text-anchor="end" fill="#231f20">0</text>
<line x1="70.1" y1="1009.5" x2="73.6" y2="1009.5" stroke="#808080" stroke-width="0.9"/>
<text x="65.3" y="1013.2" font-size="10.4" text-anchor="end" fill="#231f20">0.1</text>
<line x1="74.6" y1="1022.9" x2="74.6" y2="1026.4" stroke="#808080" stroke-width="0.9"/>
<text x="74.6" y="1038.1" font-size="10.4" text-anchor="middle" fill="#231f20">0</text>
<line x1="111.45" y1="1022.9" x2="111.45" y2="1026.4" stroke="#808080" stroke-width="0.9"/>
<text x="111.45" y="1038.1" font-size="10.4" text-anchor="middle" fill="#231f20">25</text>
<line x1="148.3" y1="1022.9" x2="148.3" y2="1026.4" stroke="#808080" stroke-width="0.9"/>
<text x="148.3" y="1038.1" font-size="10.4" text-anchor="middle" fill="#231f20">50</text>
<line x1="185.15" y1="1022.9" x2="185.15" y2="1026.4" stroke="#808080" stroke-width="0.9"/>
<text x="185.15" y="1038.1" font-size="10.4" text-anchor="middle" fill="#231f20">75</text>
<line x1="222" y1="1022.9" x2="222" y2="1026.4" stroke="#808080" stroke-width="0.9"/>
<text x="222" y="1038.1" font-size="10.4" text-anchor="middle" fill="#231f20">100</text>
<text x="162.2" y="1051.8" font-size="10.65" text-anchor="middle" fill="#231f20">Number of B cells</text>
<clipPath id="cg8"><rect x="289.6" y="1007.3" width="185.4" height="15.6"/></clipPath>
<g clip-path="url(#cg8)">
<path d="M289.6 1022.9 L352.23 1022.9 L413.61 1022.1 L475 1022.1 L475 1022.9 L289.6 1022.9Z" fill="#808080" fill-opacity="1.0" stroke="none"/>
<path d="M289.6 1022.9 L352.23 1022.9 L413.61 1022.1 L475 1022.1" fill="none" stroke="#444444" stroke-width="1.1"/>
<path d="M289.6 1021.66 L302.36 1021.12 L313.03 1021.05 L321.63 1021.31 L346.88 1022.5 L367.45 1022.85 L367.45 1022.9 L289.6 1022.9Z" fill="#e8927e" fill-opacity="0.85" stroke="none"/>
<path d="M289.6 1021.66 L302.36 1021.12 L313.03 1021.05 L321.63 1021.31 L346.88 1022.5 L367.45 1022.85" fill="none" stroke="#d04a3a" stroke-width="1.1"/>
</g>
<line x1="289.6" y1="1007.3" x2="289.6" y2="1023.4" stroke="#555555" stroke-width="1.0"/>
<line x1="289.1" y1="1022.9" x2="475" y2="1022.9" stroke="#555555" stroke-width="1.0"/>
<line x1="286.1" y1="1022.9" x2="289.6" y2="1022.9" stroke="#808080" stroke-width="0.9"/>
<text x="281.3" y="1026.6" font-size="10.4" text-anchor="end" fill="#231f20">0</text>
<line x1="286.1" y1="1009.5" x2="289.6" y2="1009.5" stroke="#808080" stroke-width="0.9"/>
<text x="281.3" y="1013.2" font-size="10.4" text-anchor="end" fill="#231f20">0.1</text>
<line x1="290.8" y1="1022.9" x2="290.8" y2="1026.4" stroke="#808080" stroke-width="0.9"/>
<text x="290.8" y="1038.1" font-size="10.4" text-anchor="middle" fill="#231f20">0</text>
<line x1="329.12" y1="1022.9" x2="329.12" y2="1026.4" stroke="#808080" stroke-width="0.9"/>
<text x="329.12" y="1038.1" font-size="10.4" text-anchor="middle" fill="#231f20">25</text>
<line x1="367.45" y1="1022.9" x2="367.45" y2="1026.4" stroke="#808080" stroke-width="0.9"/>
<text x="367.45" y="1038.1" font-size="10.4" text-anchor="middle" fill="#231f20">50</text>
<line x1="405.77" y1="1022.9" x2="405.77" y2="1026.4" stroke="#808080" stroke-width="0.9"/>
<text x="405.77" y="1038.1" font-size="10.4" text-anchor="middle" fill="#231f20">75</text>
<line x1="444.1" y1="1022.9" x2="444.1" y2="1026.4" stroke="#808080" stroke-width="0.9"/>
<text x="444.1" y="1038.1" font-size="10.4" text-anchor="middle" fill="#231f20">100</text>
<text x="381.8" y="1051.8" font-size="10.65" text-anchor="middle" fill="#231f20">Number of B cells</text>
<clipPath id="cg9"><rect x="504.2" y="1007.3" width="185.8" height="15.6"/></clipPath>
<g clip-path="url(#cg9)">
<path d="M504.22 1022.9 L587.48 1022.86 L605.5 1022.73 L619.17 1022.5 L630.97 1022.12 L642.78 1021.54 L677.57 1019.07 L690 1018.41 L690 1022.9 L504.22 1022.9Z" fill="#808080" fill-opacity="1.0" stroke="none"/>
<path d="M504.22 1022.9 L587.48 1022.86 L605.5 1022.73 L619.17 1022.5 L630.97 1022.12 L642.78 1021.54 L677.57 1019.07 L690 1018.41" fill="none" stroke="#444444" stroke-width="1.1"/>
<path d="M504.22 1017.29 L507.81 1013.98 L509.91 1012.4 L510.9 1011.87 L511.89 1011.53 L512.88 1011.38 L513.87 1011.44 L515.36 1011.9 L516.97 1012.85 L518.57 1014.13 L524.02 1019.02 L526 1020.38 L527.98 1021.37 L530.33 1022.13 L532.93 1022.58 L536.15 1022.81 L541.22 1022.89 L541.22 1022.9 L504.22 1022.9Z" fill="#e8927e" fill-opacity="0.85" stroke="none"/>
<path d="M504.22 1017.29 L507.81 1013.98 L509.91 1012.4 L510.9 1011.87 L511.89 1011.53 L512.88 1011.38 L513.87 1011.44 L515.36 1011.9 L516.97 1012.85 L518.57 1014.13 L524.02 1019.02 L526 1020.38 L527.98 1021.37 L530.33 1022.13 L532.93 1022.58 L536.15 1022.81 L541.22 1022.89" fill="none" stroke="#d04a3a" stroke-width="1.1"/>
</g>
<line x1="504.2" y1="1007.3" x2="504.2" y2="1023.4" stroke="#555555" stroke-width="1.0"/>
<line x1="503.7" y1="1022.9" x2="685" y2="1022.9" stroke="#555555" stroke-width="1.0"/>
<line x1="500.7" y1="1022.9" x2="504.2" y2="1022.9" stroke="#808080" stroke-width="0.9"/>
<text x="495.9" y="1026.6" font-size="10.4" text-anchor="end" fill="#231f20">0</text>
<line x1="500.7" y1="1009.5" x2="504.2" y2="1009.5" stroke="#808080" stroke-width="0.9"/>
<text x="495.9" y="1013.2" font-size="10.4" text-anchor="end" fill="#231f20">0.1</text>
<line x1="505.7" y1="1022.9" x2="505.7" y2="1026.4" stroke="#808080" stroke-width="0.9"/>
<text x="505.7" y="1038.1" font-size="10.4" text-anchor="middle" fill="#231f20">0</text>
<line x1="542.7" y1="1022.9" x2="542.7" y2="1026.4" stroke="#808080" stroke-width="0.9"/>
<text x="542.7" y="1038.1" font-size="10.4" text-anchor="middle" fill="#231f20">25</text>
<line x1="579.7" y1="1022.9" x2="579.7" y2="1026.4" stroke="#808080" stroke-width="0.9"/>
<text x="579.7" y="1038.1" font-size="10.4" text-anchor="middle" fill="#231f20">50</text>
<line x1="616.7" y1="1022.9" x2="616.7" y2="1026.4" stroke="#808080" stroke-width="0.9"/>
<text x="616.7" y="1038.1" font-size="10.4" text-anchor="middle" fill="#231f20">75</text>
<line x1="653.7" y1="1022.9" x2="653.7" y2="1026.4" stroke="#808080" stroke-width="0.9"/>
<text x="653.7" y="1038.1" font-size="10.4" text-anchor="middle" fill="#231f20">100</text>
<text x="593.9" y="1051.8" font-size="10.65" text-anchor="middle" fill="#231f20">Number of B cells</text>
<g transform="translate(43.6,1015.1) rotate(-90)"><text x="0" y="0" font-size="10.4" text-anchor="middle" fill="#231f20">Probability</text></g>
<rect x="70.8" y="1076.8" width="21.6" height="7.5" fill="#808080" stroke="#444444" stroke-width="1"/>
<rect x="70.8" y="1092.8" width="21.6" height="7.5" fill="#e8927e" stroke="#d04a3a" stroke-width="1"/>
<text x="101.5" y="1084.6" font-size="10.65" fill="#231f20">Low-proliferation states</text>
<text x="101.5" y="1100.4" font-size="10.65" fill="#231f20">High-proliferation states</text></svg>
</body></html>
